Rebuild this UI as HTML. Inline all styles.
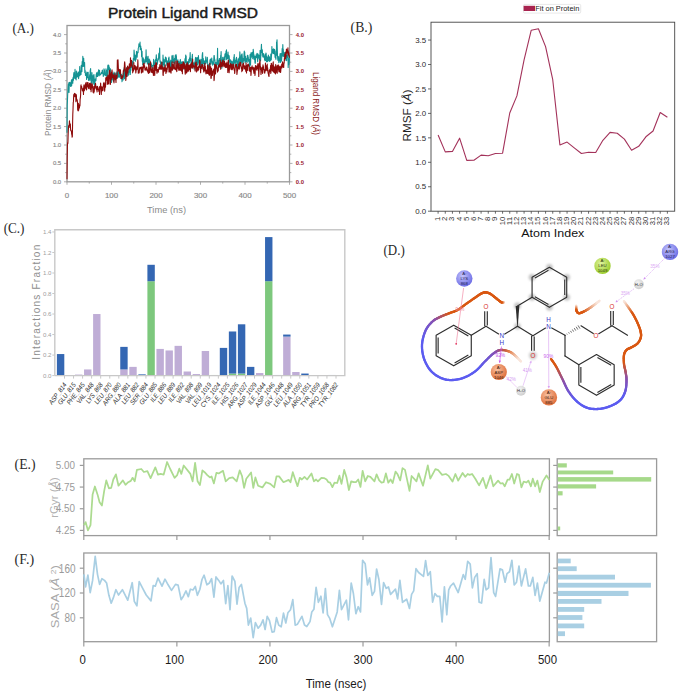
<!DOCTYPE html>
<html><head><meta charset="utf-8"><title>Figure</title>
<style>html,body{margin:0;padding:0;background:#fff;width:685px;height:692px;overflow:hidden}svg{display:block}</style>
</head><body>
<svg width="685" height="692" viewBox="0 0 685 692">
<defs>
<radialGradient id="gBlue" cx="40%" cy="35%" r="65%"><stop offset="0" stop-color="#c4c4fb"/><stop offset="1" stop-color="#6f6fe6"/></radialGradient>
<radialGradient id="gOr" cx="40%" cy="35%" r="65%"><stop offset="0" stop-color="#f8c0a0"/><stop offset="1" stop-color="#e0703c"/></radialGradient>
<radialGradient id="gGr" cx="40%" cy="35%" r="65%"><stop offset="0" stop-color="#e0f4a0"/><stop offset="1" stop-color="#9ccc2c"/></radialGradient>
<radialGradient id="gW" cx="40%" cy="35%" r="65%"><stop offset="0" stop-color="#f4f4f4"/><stop offset="1" stop-color="#cfcfcf"/></radialGradient>
<filter id="blur1" x="-50%" y="-50%" width="200%" height="200%"><feGaussianBlur stdDeviation="1.0"/></filter>
<linearGradient id="lgL" gradientUnits="userSpaceOnUse" x1="425" y1="300" x2="425" y2="380"><stop offset="0" stop-color="#d9560f"/><stop offset="0.25" stop-color="#8b4fb0"/><stop offset="0.45" stop-color="#5b5bf0"/><stop offset="1" stop-color="#5b5bf0"/></linearGradient>
</defs>
<rect width="685" height="692" fill="#fff"/>
<text x="12.4" y="32.6" font-family="Liberation Serif" font-size="15" fill="#2a2a2a" text-anchor="start" font-weight="normal" font-style="normal" textLength="21.5" lengthAdjust="spacingAndGlyphs" >(A.)</text>
<text x="350.6" y="32.2" font-family="Liberation Serif" font-size="15" fill="#2a2a2a" text-anchor="start" font-weight="normal" font-style="normal" textLength="21.7" lengthAdjust="spacingAndGlyphs" >(B.)</text>
<text x="3.7" y="233.4" font-family="Liberation Serif" font-size="15" fill="#2a2a2a" text-anchor="start" font-weight="normal" font-style="normal" textLength="20.8" lengthAdjust="spacingAndGlyphs" >(C.)</text>
<text x="383.5" y="255.3" font-family="Liberation Serif" font-size="15" fill="#2a2a2a" text-anchor="start" font-weight="normal" font-style="normal" textLength="21.2" lengthAdjust="spacingAndGlyphs" >(D.)</text>
<text x="14.6" y="468.6" font-family="Liberation Serif" font-size="15" fill="#2a2a2a" text-anchor="start" font-weight="normal" font-style="normal" textLength="21" lengthAdjust="spacingAndGlyphs" >(E.)</text>
<text x="14.6" y="563.6" font-family="Liberation Serif" font-size="15" fill="#2a2a2a" text-anchor="start" font-weight="normal" font-style="normal" textLength="19.5" lengthAdjust="spacingAndGlyphs" >(F.)</text>
<text x="183" y="17.9" font-family="Liberation Sans" font-size="14" fill="#1a1a1a" text-anchor="middle" font-weight="normal" font-style="normal" textLength="150" lengthAdjust="spacingAndGlyphs" stroke="#1a1a1a" stroke-width="0.45">Protein Ligand RMSD</text>
<rect x="67" y="25.5" width="222.5" height="156.3" fill="none" stroke="#9a9a9a" stroke-width="1.3"/>
<line x1="64" y1="181.8" x2="67" y2="181.8" stroke="#9a9a9a" stroke-width="0.8" />
<line x1="289.5" y1="181.8" x2="292.5" y2="181.8" stroke="#9a9a9a" stroke-width="0.8" />
<text x="61.2" y="183.7" font-family="Liberation Sans" font-size="5.2" fill="#8a8a8a" text-anchor="end" font-weight="normal" font-style="normal" textLength="8.3" lengthAdjust="spacingAndGlyphs" stroke="#8a8a8a" stroke-width="0.15">0.0</text>
<text x="295.8" y="183.7" font-family="Liberation Sans" font-size="5.2" fill="#9a2030" text-anchor="start" font-weight="bold" font-style="normal" textLength="8.2" lengthAdjust="spacingAndGlyphs" >0.0</text>
<line x1="65.2" y1="172.6" x2="67" y2="172.6" stroke="#9a9a9a" stroke-width="0.8" />
<line x1="289.5" y1="172.6" x2="291.3" y2="172.6" stroke="#9a9a9a" stroke-width="0.8" />
<line x1="64" y1="163.4" x2="67" y2="163.4" stroke="#9a9a9a" stroke-width="0.8" />
<line x1="289.5" y1="163.4" x2="292.5" y2="163.4" stroke="#9a9a9a" stroke-width="0.8" />
<text x="61.2" y="165.3" font-family="Liberation Sans" font-size="5.2" fill="#8a8a8a" text-anchor="end" font-weight="normal" font-style="normal" textLength="8.3" lengthAdjust="spacingAndGlyphs" stroke="#8a8a8a" stroke-width="0.15">0.5</text>
<text x="295.8" y="165.3" font-family="Liberation Sans" font-size="5.2" fill="#9a2030" text-anchor="start" font-weight="bold" font-style="normal" textLength="8.2" lengthAdjust="spacingAndGlyphs" >0.5</text>
<line x1="65.2" y1="154.2" x2="67" y2="154.2" stroke="#9a9a9a" stroke-width="0.8" />
<line x1="289.5" y1="154.2" x2="291.3" y2="154.2" stroke="#9a9a9a" stroke-width="0.8" />
<line x1="64" y1="145" x2="67" y2="145" stroke="#9a9a9a" stroke-width="0.8" />
<line x1="289.5" y1="145" x2="292.5" y2="145" stroke="#9a9a9a" stroke-width="0.8" />
<text x="61.2" y="146.9" font-family="Liberation Sans" font-size="5.2" fill="#8a8a8a" text-anchor="end" font-weight="normal" font-style="normal" textLength="8.3" lengthAdjust="spacingAndGlyphs" stroke="#8a8a8a" stroke-width="0.15">1.0</text>
<text x="295.8" y="146.9" font-family="Liberation Sans" font-size="5.2" fill="#9a2030" text-anchor="start" font-weight="bold" font-style="normal" textLength="8.2" lengthAdjust="spacingAndGlyphs" >1.0</text>
<line x1="65.2" y1="135.8" x2="67" y2="135.8" stroke="#9a9a9a" stroke-width="0.8" />
<line x1="289.5" y1="135.8" x2="291.3" y2="135.8" stroke="#9a9a9a" stroke-width="0.8" />
<line x1="64" y1="126.6" x2="67" y2="126.6" stroke="#9a9a9a" stroke-width="0.8" />
<line x1="289.5" y1="126.6" x2="292.5" y2="126.6" stroke="#9a9a9a" stroke-width="0.8" />
<text x="61.2" y="128.5" font-family="Liberation Sans" font-size="5.2" fill="#8a8a8a" text-anchor="end" font-weight="normal" font-style="normal" textLength="8.3" lengthAdjust="spacingAndGlyphs" stroke="#8a8a8a" stroke-width="0.15">1.5</text>
<text x="295.8" y="128.5" font-family="Liberation Sans" font-size="5.2" fill="#9a2030" text-anchor="start" font-weight="bold" font-style="normal" textLength="8.2" lengthAdjust="spacingAndGlyphs" >1.5</text>
<line x1="65.2" y1="117.4" x2="67" y2="117.4" stroke="#9a9a9a" stroke-width="0.8" />
<line x1="289.5" y1="117.4" x2="291.3" y2="117.4" stroke="#9a9a9a" stroke-width="0.8" />
<line x1="64" y1="108.2" x2="67" y2="108.2" stroke="#9a9a9a" stroke-width="0.8" />
<line x1="289.5" y1="108.2" x2="292.5" y2="108.2" stroke="#9a9a9a" stroke-width="0.8" />
<text x="61.2" y="110.1" font-family="Liberation Sans" font-size="5.2" fill="#8a8a8a" text-anchor="end" font-weight="normal" font-style="normal" textLength="8.3" lengthAdjust="spacingAndGlyphs" stroke="#8a8a8a" stroke-width="0.15">2.0</text>
<text x="295.8" y="110.1" font-family="Liberation Sans" font-size="5.2" fill="#9a2030" text-anchor="start" font-weight="bold" font-style="normal" textLength="8.2" lengthAdjust="spacingAndGlyphs" >2.0</text>
<line x1="65.2" y1="99" x2="67" y2="99" stroke="#9a9a9a" stroke-width="0.8" />
<line x1="289.5" y1="99" x2="291.3" y2="99" stroke="#9a9a9a" stroke-width="0.8" />
<line x1="64" y1="89.8" x2="67" y2="89.8" stroke="#9a9a9a" stroke-width="0.8" />
<line x1="289.5" y1="89.8" x2="292.5" y2="89.8" stroke="#9a9a9a" stroke-width="0.8" />
<text x="61.2" y="91.7" font-family="Liberation Sans" font-size="5.2" fill="#8a8a8a" text-anchor="end" font-weight="normal" font-style="normal" textLength="8.3" lengthAdjust="spacingAndGlyphs" stroke="#8a8a8a" stroke-width="0.15">2.5</text>
<text x="295.8" y="91.7" font-family="Liberation Sans" font-size="5.2" fill="#9a2030" text-anchor="start" font-weight="bold" font-style="normal" textLength="8.2" lengthAdjust="spacingAndGlyphs" >2.5</text>
<line x1="65.2" y1="80.6" x2="67" y2="80.6" stroke="#9a9a9a" stroke-width="0.8" />
<line x1="289.5" y1="80.6" x2="291.3" y2="80.6" stroke="#9a9a9a" stroke-width="0.8" />
<line x1="64" y1="71.4" x2="67" y2="71.4" stroke="#9a9a9a" stroke-width="0.8" />
<line x1="289.5" y1="71.4" x2="292.5" y2="71.4" stroke="#9a9a9a" stroke-width="0.8" />
<text x="61.2" y="73.3" font-family="Liberation Sans" font-size="5.2" fill="#8a8a8a" text-anchor="end" font-weight="normal" font-style="normal" textLength="8.3" lengthAdjust="spacingAndGlyphs" stroke="#8a8a8a" stroke-width="0.15">3.0</text>
<text x="295.8" y="73.3" font-family="Liberation Sans" font-size="5.2" fill="#9a2030" text-anchor="start" font-weight="bold" font-style="normal" textLength="8.2" lengthAdjust="spacingAndGlyphs" >3.0</text>
<line x1="65.2" y1="62.2" x2="67" y2="62.2" stroke="#9a9a9a" stroke-width="0.8" />
<line x1="289.5" y1="62.2" x2="291.3" y2="62.2" stroke="#9a9a9a" stroke-width="0.8" />
<line x1="64" y1="53" x2="67" y2="53" stroke="#9a9a9a" stroke-width="0.8" />
<line x1="289.5" y1="53" x2="292.5" y2="53" stroke="#9a9a9a" stroke-width="0.8" />
<text x="61.2" y="54.9" font-family="Liberation Sans" font-size="5.2" fill="#8a8a8a" text-anchor="end" font-weight="normal" font-style="normal" textLength="8.3" lengthAdjust="spacingAndGlyphs" stroke="#8a8a8a" stroke-width="0.15">3.5</text>
<text x="295.8" y="54.9" font-family="Liberation Sans" font-size="5.2" fill="#9a2030" text-anchor="start" font-weight="bold" font-style="normal" textLength="8.2" lengthAdjust="spacingAndGlyphs" >3.5</text>
<line x1="65.2" y1="43.8" x2="67" y2="43.8" stroke="#9a9a9a" stroke-width="0.8" />
<line x1="289.5" y1="43.8" x2="291.3" y2="43.8" stroke="#9a9a9a" stroke-width="0.8" />
<line x1="64" y1="34.6" x2="67" y2="34.6" stroke="#9a9a9a" stroke-width="0.8" />
<line x1="289.5" y1="34.6" x2="292.5" y2="34.6" stroke="#9a9a9a" stroke-width="0.8" />
<text x="61.2" y="36.5" font-family="Liberation Sans" font-size="5.2" fill="#8a8a8a" text-anchor="end" font-weight="normal" font-style="normal" textLength="8.3" lengthAdjust="spacingAndGlyphs" stroke="#8a8a8a" stroke-width="0.15">4.0</text>
<text x="295.8" y="36.5" font-family="Liberation Sans" font-size="5.2" fill="#9a2030" text-anchor="start" font-weight="bold" font-style="normal" textLength="8.2" lengthAdjust="spacingAndGlyphs" >4.0</text>
<line x1="67" y1="181.8" x2="67" y2="184.8" stroke="#9a9a9a" stroke-width="0.8" />
<text x="67" y="197.9" font-family="Liberation Sans" font-size="7" fill="#8a8a8a" text-anchor="middle" font-weight="normal" font-style="normal" textLength="4.4" lengthAdjust="spacingAndGlyphs" stroke="#8a8a8a" stroke-width="0.15">0</text>
<line x1="89.25" y1="181.8" x2="89.25" y2="183.6" stroke="#9a9a9a" stroke-width="0.8" />
<line x1="111.5" y1="181.8" x2="111.5" y2="184.8" stroke="#9a9a9a" stroke-width="0.8" />
<text x="111.5" y="197.9" font-family="Liberation Sans" font-size="7" fill="#8a8a8a" text-anchor="middle" font-weight="normal" font-style="normal" textLength="13.2" lengthAdjust="spacingAndGlyphs" stroke="#8a8a8a" stroke-width="0.15">100</text>
<line x1="133.75" y1="181.8" x2="133.75" y2="183.6" stroke="#9a9a9a" stroke-width="0.8" />
<line x1="156" y1="181.8" x2="156" y2="184.8" stroke="#9a9a9a" stroke-width="0.8" />
<text x="156" y="197.9" font-family="Liberation Sans" font-size="7" fill="#8a8a8a" text-anchor="middle" font-weight="normal" font-style="normal" textLength="13.2" lengthAdjust="spacingAndGlyphs" stroke="#8a8a8a" stroke-width="0.15">200</text>
<line x1="178.25" y1="181.8" x2="178.25" y2="183.6" stroke="#9a9a9a" stroke-width="0.8" />
<line x1="200.5" y1="181.8" x2="200.5" y2="184.8" stroke="#9a9a9a" stroke-width="0.8" />
<text x="200.5" y="197.9" font-family="Liberation Sans" font-size="7" fill="#8a8a8a" text-anchor="middle" font-weight="normal" font-style="normal" textLength="13.2" lengthAdjust="spacingAndGlyphs" stroke="#8a8a8a" stroke-width="0.15">300</text>
<line x1="222.75" y1="181.8" x2="222.75" y2="183.6" stroke="#9a9a9a" stroke-width="0.8" />
<line x1="245" y1="181.8" x2="245" y2="184.8" stroke="#9a9a9a" stroke-width="0.8" />
<text x="245" y="197.9" font-family="Liberation Sans" font-size="7" fill="#8a8a8a" text-anchor="middle" font-weight="normal" font-style="normal" textLength="13.2" lengthAdjust="spacingAndGlyphs" stroke="#8a8a8a" stroke-width="0.15">400</text>
<line x1="267.25" y1="181.8" x2="267.25" y2="183.6" stroke="#9a9a9a" stroke-width="0.8" />
<line x1="289.5" y1="181.8" x2="289.5" y2="184.8" stroke="#9a9a9a" stroke-width="0.8" />
<text x="289.5" y="197.9" font-family="Liberation Sans" font-size="7" fill="#8a8a8a" text-anchor="middle" font-weight="normal" font-style="normal" textLength="13.2" lengthAdjust="spacingAndGlyphs" stroke="#8a8a8a" stroke-width="0.15">500</text>
<text x="166.5" y="212.5" font-family="Liberation Sans" font-size="9.3" fill="#8a8a8a" text-anchor="middle" font-weight="normal" font-style="normal" textLength="39" lengthAdjust="spacingAndGlyphs" >Time (ns)</text>
<text x="0" y="0" transform="translate(51,102.8) rotate(-90)" font-family="Liberation Sans" font-size="8.6" fill="#8a8a8a" text-anchor="middle" textLength="66.6" lengthAdjust="spacingAndGlyphs">Protein RMSD (<tspan font-style="italic">Å</tspan>)</text>
<text x="0" y="0" transform="translate(312.5,103.5) rotate(90)" font-family="Liberation Sans" font-size="9.2" fill="#8b1a1a" text-anchor="middle" textLength="63" lengthAdjust="spacingAndGlyphs">Ligand RMSD (<tspan font-style="italic">Å</tspan>)</text>
<polyline points="67,132.69 67.22,104.99 67.45,100.77 67.67,94.68 67.89,91.49 68.11,87.05 68.34,84.31 68.56,87.24 68.78,82.8 69,92.49 69.23,85.35 69.45,82.38 69.67,82.72 69.9,82.62 70.12,82.55 70.34,85.54 70.56,86.46 70.79,83.32 71.01,86.35 71.23,81.85 71.45,80.08 71.68,85.55 71.9,81.9 72.12,79.18 72.35,80.28 72.57,79.27 72.79,83.26 73.01,78.12 73.24,77.06 73.46,80.15 73.68,74.29 73.9,72.55 74.13,76.25 74.35,75.19 74.57,76.49 74.8,78.35 75.02,69.41 75.24,78.57 75.46,76.13 75.69,75.42 75.91,79.26 76.13,79.91 76.35,71 76.58,73.96 76.8,77.19 77.02,76.34 77.25,77.06 77.47,76.33 77.69,72.98 77.91,73.76 78.14,71.8 78.36,73.4 78.58,78.58 78.8,76.3 79.03,72.23 79.25,72.97 79.47,75.58 79.7,66.52 79.92,75.59 80.14,74.63 80.36,70.93 80.59,73.87 80.81,71.53 81.03,74.42 81.25,65.23 81.48,67 81.7,69.36 81.92,71.58 82.15,61.57 82.37,62.45 82.59,64.89 82.81,56.38 83.04,66.56 83.26,58.87 83.48,59.86 83.7,58.19 83.93,66.13 84.15,65.48 84.37,63.24 84.6,62.57 84.82,72.49 85.04,70.04 85.26,71.73 85.49,75.53 85.71,74.04 85.93,73.76 86.15,74.81 86.38,74.65 86.6,79.55 86.82,71.94 87.05,75.78 87.27,75.05 87.49,75.24 87.71,77.6 87.94,72.29 88.16,72.33 88.38,78.03 88.6,80.5 88.83,79.39 89.05,79.42 89.27,78.82 89.49,77.25 89.72,74.67 89.94,80.36 90.16,70.95 90.39,69.86 90.61,68.55 90.83,78.12 91.05,76.8 91.28,83.9 91.5,81.93 91.72,82.79 91.94,72.67 92.17,78.06 92.39,80.31 92.61,80.51 92.84,75.73 93.06,84.17 93.28,83.67 93.5,76.91 93.73,75.18 93.95,74.47 94.17,78.15 94.39,80.84 94.62,85.18 94.84,80.23 95.06,82.44 95.29,78.96 95.51,80.2 95.73,78.45 95.95,80.64 96.18,74.79 96.4,74.22 96.62,72.68 96.84,76.47 97.07,75.99 97.29,72.81 97.51,73.17 97.74,76.44 97.96,74.05 98.18,71.56 98.4,72.26 98.63,69.91 98.85,74.08 99.07,75.66 99.29,75.65 99.52,70.2 99.74,74.28 99.96,74.26 100.19,73.88 100.41,74.11 100.63,74.87 100.85,74.04 101.08,73.38 101.3,72.53 101.52,73.49 101.74,73.51 101.97,72.85 102.19,70.43 102.41,70.19 102.64,72.94 102.86,73.29 103.08,74.07 103.3,76.49 103.53,74.58 103.75,74.57 103.97,68.76 104.19,73.57 104.42,69.92 104.64,71.89 104.86,75.2 105.09,74.85 105.31,74.95 105.53,75.22 105.75,75.64 105.98,68.78 106.2,71.14 106.42,73.78 106.64,70.2 106.87,76.74 107.09,73.45 107.31,77.02 107.54,71.27 107.76,65.94 107.98,65.09 108.2,65.71 108.43,69.58 108.65,65.02 108.87,65.98 109.09,76.65 109.32,66.99 109.54,71.85 109.76,71.44 109.99,69.04 110.21,69.38 110.43,68.76 110.65,72.75 110.88,76.12 111.1,76.13 111.32,77.89 111.54,82.49 111.77,80 111.99,78.04 112.21,78.67 112.44,75.96 112.66,79.19 112.88,73.25 113.1,79.89 113.33,77.77 113.55,81.23 113.77,78.08 113.99,72.02 114.22,73.37 114.44,76.09 114.66,76.02 114.89,77.56 115.11,74.25 115.33,75.44 115.55,76.15 115.78,77.96 116,72.8 116.22,77.82 116.44,73.65 116.67,77.96 116.89,78.43 117.11,71.44 117.34,78.21 117.56,75.98 117.78,75.73 118,76.54 118.23,73.72 118.45,71.5 118.67,77.18 118.89,76.11 119.12,73.57 119.34,72.44 119.56,77.15 119.79,76.1 120.01,71.01 120.23,72.17 120.45,74.69 120.68,75.11 120.9,78.11 121.12,78.81 121.34,74.99 121.57,74.33 121.79,76.82 122.01,81.82 122.24,79.17 122.46,79.79 122.68,78.38 122.9,75.64 123.13,79.89 123.35,72.95 123.57,77.07 123.79,69.11 124.02,72.72 124.24,67.52 124.46,78.81 124.69,75.58 124.91,72.15 125.13,69.15 125.35,71.41 125.58,74.51 125.8,75.47 126.02,75.48 126.24,75.3 126.47,74.01 126.69,70.5 126.91,67.42 127.14,70.32 127.36,67.44 127.58,71.78 127.8,75.88 128.03,74.58 128.25,71.39 128.47,72.46 128.69,74.84 128.92,68.3 129.14,69.64 129.36,66.4 129.59,72.27 129.81,65.83 130.03,67.16 130.25,74.53 130.48,70.22 130.7,70.68 130.92,69.33 131.14,64.15 131.37,63.63 131.59,61.32 131.81,62.25 132.04,67.36 132.26,62.76 132.48,67.26 132.7,61.23 132.93,64.38 133.15,63.77 133.37,58.22 133.59,58.58 133.82,59.41 134.04,50.15 134.26,52.65 134.48,56.64 134.71,60.28 134.93,55.05 135.15,55.06 135.38,61.28 135.6,57.82 135.82,58.44 136.04,59.5 136.27,56.57 136.49,51.41 136.71,51.9 136.93,54.96 137.16,57.21 137.38,52.87 137.6,52.74 137.83,51.7 138.05,52.83 138.27,48.01 138.49,47.72 138.72,46.57 138.94,43.9 139.16,45.5 139.38,46.43 139.61,43.91 139.83,45.47 140.05,42.17 140.28,49.68 140.5,49.17 140.72,46.11 140.94,48.62 141.17,48.33 141.39,48.87 141.61,56.7 141.83,53.17 142.06,51.39 142.28,61.35 142.5,59.04 142.73,64.61 142.95,60.3 143.17,57.9 143.39,63.9 143.62,58.73 143.84,59.52 144.06,63.32 144.28,61.35 144.51,62.38 144.73,62.09 144.95,63.17 145.18,59.52 145.4,61.59 145.62,56.69 145.84,61.74 146.07,49.7 146.29,57.92 146.51,61.81 146.73,56.6 146.96,61.01 147.18,60.46 147.4,63.95 147.63,58.48 147.85,60.6 148.07,56.3 148.29,61.8 148.52,64.94 148.74,61.74 148.96,61.39 149.18,59.17 149.41,64.63 149.63,63.41 149.85,60.15 150.08,63.8 150.3,63.95 150.52,65.52 150.74,62.33 150.97,66.7 151.19,63.72 151.41,63.98 151.63,65.33 151.86,65.17 152.08,69.26 152.3,65.39 152.53,66.02 152.75,65.9 152.97,65.81 153.19,65.45 153.42,64.87 153.64,59.35 153.86,63.91 154.08,68.49 154.31,65.7 154.53,65.76 154.75,63.58 154.98,62.51 155.2,60.39 155.42,66.04 155.64,59.33 155.87,61.19 156.09,57.56 156.31,54.87 156.53,60.36 156.76,58.44 156.98,58.39 157.2,64.52 157.43,63.17 157.65,61.93 157.87,59.93 158.09,60.36 158.32,59.66 158.54,58.97 158.76,53.62 158.98,57.83 159.21,52.88 159.43,55.87 159.65,47.99 159.88,59.6 160.1,61.99 160.32,60.85 160.54,63.24 160.77,64.68 160.99,64.92 161.21,62.02 161.43,62.51 161.66,63.98 161.88,63.77 162.1,62.46 162.33,63.77 162.55,65.15 162.77,66.44 162.99,54.97 163.22,60.49 163.44,64.53 163.66,58.97 163.88,62.01 164.11,64.35 164.33,67.38 164.55,60.91 164.78,63.27 165,59.3 165.22,61.95 165.44,57.08 165.67,57.26 165.89,61.5 166.11,57.67 166.33,58.44 166.56,62.08 166.78,65.09 167,64.47 167.23,60.86 167.45,65.57 167.67,61.48 167.89,65.66 168.12,62.08 168.34,66.64 168.56,57.96 168.78,59.72 169.01,57.06 169.23,61.41 169.45,64.57 169.68,63.64 169.9,66.6 170.12,66.54 170.34,61.16 170.57,61.56 170.79,60.18 171.01,65.48 171.23,69.61 171.46,63.57 171.68,63.22 171.9,55.87 172.13,62.66 172.35,61.74 172.57,56.5 172.79,59.38 173.02,55.26 173.24,58.32 173.46,62.91 173.68,59.58 173.91,62.74 174.13,63.01 174.35,60.37 174.58,58.23 174.8,63.94 175.02,62.15 175.24,55.63 175.47,59.78 175.69,56.29 175.91,54.51 176.13,55.18 176.36,55.58 176.58,59.54 176.8,63.47 177.03,62.52 177.25,64.96 177.47,64.81 177.69,64.04 177.92,59.76 178.14,64.82 178.36,64.25 178.58,66.4 178.81,61.6 179.03,64.74 179.25,63.5 179.47,65.58 179.7,64.23 179.92,63.91 180.14,60.57 180.37,59.43 180.59,62.91 180.81,63.87 181.03,63.32 181.26,69.53 181.48,62.12 181.7,62.76 181.92,62.54 182.15,64.56 182.37,61.53 182.59,63.73 182.82,64.3 183.04,67.26 183.26,63.78 183.48,62.18 183.71,63.9 183.93,66.21 184.15,69.3 184.37,65.07 184.6,64.03 184.82,61.46 185.04,58.6 185.27,62.47 185.49,58.74 185.71,54.99 185.93,55.66 186.16,56.2 186.38,68.03 186.6,69.92 186.82,62.8 187.05,61.99 187.27,65.05 187.49,67.81 187.72,61.65 187.94,68.62 188.16,61.81 188.38,63.91 188.61,62.54 188.83,59.46 189.05,62.08 189.27,62.6 189.5,57.72 189.72,59.49 189.94,58.72 190.17,52.56 190.39,60.77 190.61,58.37 190.83,58.42 191.06,63.92 191.28,62.23 191.5,63.08 191.72,68.04 191.95,66.09 192.17,56.51 192.39,54.31 192.62,62.23 192.84,66.25 193.06,63.12 193.28,64.43 193.51,64.41 193.73,62.76 193.95,66.75 194.17,69.1 194.4,68.53 194.62,65.81 194.84,61.79 195.07,63.05 195.29,59.94 195.51,57.47 195.73,62.83 195.96,57.4 196.18,58.35 196.4,63.46 196.62,62.86 196.85,64.36 197.07,63.41 197.29,57.58 197.52,59.16 197.74,64.9 197.96,59.37 198.18,64.16 198.41,55.65 198.63,58.73 198.85,60.13 199.07,61.44 199.3,62.98 199.52,60.09 199.74,64.26 199.97,65.43 200.19,66.93 200.41,68.27 200.63,63.05 200.86,59.24 201.08,60.24 201.3,63.95 201.52,68.41 201.75,59.71 201.97,63.87 202.19,55.68 202.42,53.68 202.64,52.49 202.86,63.26 203.08,63.8 203.31,58.57 203.53,63.29 203.75,64.02 203.97,60.92 204.2,63.9 204.42,66.12 204.64,61.05 204.87,61.23 205.09,63.13 205.31,63.89 205.53,62 205.76,56.71 205.98,63.5 206.2,61.09 206.42,60.77 206.65,60.34 206.87,61.86 207.09,60.04 207.32,57.26 207.54,61.12 207.76,64.8 207.98,65.74 208.21,71.55 208.43,70.51 208.65,64.75 208.87,71.16 209.1,64.63 209.32,68.23 209.54,63.49 209.77,66.16 209.99,59.84 210.21,59.85 210.43,59.75 210.66,58.95 210.88,64.16 211.1,63.79 211.32,61.84 211.55,59.96 211.77,57.93 211.99,61.79 212.22,60.83 212.44,61.81 212.66,65.24 212.88,63.85 213.11,62.87 213.33,63.56 213.55,64.16 213.77,59.2 214,55.46 214.22,55.53 214.44,57.7 214.67,60.11 214.89,59.77 215.11,63.6 215.33,67.17 215.56,69.14 215.78,67.46 216,62.47 216.22,68.24 216.45,63.33 216.67,67.06 216.89,63.48 217.12,58.67 217.34,58.83 217.56,48.39 217.78,61.89 218.01,64.53 218.23,61.94 218.45,65.5 218.67,67.2 218.9,60.01 219.12,64.43 219.34,58.51 219.57,60.14 219.79,58.7 220.01,60.38 220.23,59.32 220.46,59.65 220.68,55.42 220.9,56.67 221.12,51.47 221.35,60.54 221.57,59.63 221.79,68.34 222.02,63.77 222.24,60.82 222.46,63.14 222.68,57.34 222.91,61.5 223.13,60.94 223.35,61.75 223.57,61.7 223.8,60.04 224.02,56.98 224.24,57.86 224.46,59.2 224.69,60.24 224.91,54.36 225.13,53.77 225.36,56.69 225.58,56.55 225.8,54.71 226.02,50.96 226.25,59.71 226.47,49.7 226.69,56.09 226.91,58.93 227.14,58.14 227.36,58.94 227.58,54.47 227.81,56.61 228.03,52.01 228.25,58.3 228.47,55.01 228.7,55.84 228.92,61.99 229.14,55.85 229.36,58.91 229.59,61.14 229.81,60.02 230.03,64.06 230.26,64.55 230.48,59.69 230.7,60.17 230.92,60.66 231.15,61.09 231.37,64.32 231.59,65.52 231.81,61.42 232.04,64.67 232.26,61.85 232.48,67.52 232.71,62.01 232.93,62.57 233.15,64.22 233.37,59.83 233.6,63.45 233.82,57.15 234.04,59.23 234.26,54.47 234.49,62.99 234.71,60.01 234.93,61.36 235.16,66.42 235.38,62.39 235.6,62.73 235.82,60.63 236.05,58.73 236.27,58.51 236.49,57.33 236.71,59.67 236.94,64.32 237.16,63.79 237.38,61.37 237.61,67.41 237.83,60.97 238.05,62.41 238.27,58.91 238.5,62.18 238.72,61.9 238.94,65.48 239.16,59.16 239.39,57.2 239.61,58 239.83,51.77 240.06,55.26 240.28,61.1 240.5,63.68 240.72,61.7 240.95,64.01 241.17,57.28 241.39,54.84 241.61,60.61 241.84,62.09 242.06,53.92 242.28,56.87 242.51,59.8 242.73,63.62 242.95,63.83 243.17,58.51 243.4,60.12 243.62,61.24 243.84,60.35 244.06,53.35 244.29,50.97 244.51,54.25 244.73,51.97 244.96,61.22 245.18,63.06 245.4,59.3 245.62,56.2 245.85,59.2 246.07,61.36 246.29,58.59 246.51,61.55 246.74,61.26 246.96,61.05 247.18,62.41 247.41,55.3 247.63,58.97 247.85,55.36 248.07,56.93 248.3,57.23 248.52,61.3 248.74,59.38 248.96,60.19 249.19,59.56 249.41,66.61 249.63,66.92 249.86,61.88 250.08,54.63 250.3,56.76 250.52,64.87 250.75,58.59 250.97,52.78 251.19,57.81 251.41,55.95 251.64,55.78 251.86,54.47 252.08,52.42 252.31,56.33 252.53,53.65 252.75,58.67 252.97,56.85 253.2,49.19 253.42,51.04 253.64,53.77 253.86,54.62 254.09,59.43 254.31,58.06 254.53,55.99 254.76,58.88 254.98,62.57 255.2,63.34 255.42,62.25 255.65,56.18 255.87,58.14 256.09,54.74 256.31,56.71 256.54,56.85 256.76,57.32 256.98,53.35 257.21,55.14 257.43,58.09 257.65,61.72 257.87,53.91 258.1,55.04 258.32,57.29 258.54,57.99 258.76,55.05 258.99,56.36 259.21,57.77 259.43,59.79 259.66,57.47 259.88,55.95 260.1,50.29 260.32,55.53 260.55,61 260.77,56.49 260.99,55.55 261.21,48.76 261.44,44.2 261.66,50.21 261.88,49.72 262.11,52.5 262.33,49.92 262.55,54.45 262.77,56.48 263,57.03 263.22,55.55 263.44,53.92 263.66,53.62 263.89,57.03 264.11,57.38 264.33,55.93 264.56,59.8 264.78,56.78 265,60.7 265.22,54.6 265.45,57.65 265.67,60.33 265.89,52.94 266.11,53.28 266.34,56.16 266.56,61.82 266.78,58.05 267.01,56.83 267.23,59.26 267.45,58.89 267.67,61.65 267.9,57.55 268.12,60.8 268.34,55.04 268.56,56.2 268.79,60.49 269.01,56.85 269.23,59.07 269.45,56.91 269.68,61.44 269.9,58.45 270.12,58.54 270.35,60.7 270.57,60.02 270.79,54.17 271.01,57.9 271.24,59.85 271.46,55.66 271.68,54.02 271.9,46.51 272.13,51.93 272.35,51.15 272.57,50.59 272.8,52.96 273.02,49.2 273.24,53.36 273.46,48.88 273.69,49.68 273.91,50.82 274.13,53.83 274.35,52.88 274.58,49.19 274.8,51.11 275.02,57.26 275.25,57.22 275.47,56.63 275.69,58.15 275.91,59.34 276.14,50.92 276.36,55.43 276.58,42.13 276.8,42.64 277.03,39.86 277.25,47.32 277.47,54.61 277.7,58.44 277.92,60.52 278.14,59.67 278.36,56.43 278.59,60.2 278.81,62.71 279.03,61.61 279.25,58.86 279.48,60.56 279.7,56.92 279.92,55.61 280.15,53.5 280.37,62.41 280.59,56.47 280.81,57.28 281.04,53.64 281.26,58.91 281.48,61.27 281.7,58.29 281.93,55.18 282.15,48.43 282.37,56.26 282.6,50.52 282.82,44.59 283.04,52.06 283.26,48.96 283.49,55.46 283.71,56.66 283.93,52.3 284.15,55.08 284.38,56.43 284.6,53.44 284.82,52.78 285.05,60.26 285.27,54.44 285.49,54 285.71,52.1 285.94,54.32 286.16,58.02 286.38,58.91 286.6,60.68 286.83,55.46 287.05,57.15 287.27,56.89 287.5,56.93 287.72,57.56 287.94,50.6 288.16,67.54 288.39,58.48 288.61,59.41 288.83,64.59 289.05,63.77 289.28,61.43 289.5,55.11" fill="none" stroke="#159393" stroke-width="1.1" stroke-linejoin="round" />
<polyline points="67,179.32 67.22,158.18 67.45,144.84 67.67,142.54 67.89,143.37 68.11,135.95 68.34,130.16 68.56,126.41 68.78,125.47 69,125.29 69.23,124.43 69.45,120.7 69.67,123.56 69.9,127.51 70.12,124.61 70.34,124.03 70.56,129.01 70.79,130.63 71.01,130.2 71.23,131.08 71.45,131.37 71.68,134.27 71.9,134.14 72.12,137.18 72.35,136.48 72.57,124.97 72.79,114.39 73.01,109.73 73.24,102.46 73.46,101.64 73.68,95.5 73.9,94.41 74.13,94.11 74.35,95.33 74.57,93.19 74.8,96.73 75.02,94.74 75.24,94.13 75.46,96.24 75.69,93.94 75.91,101.64 76.13,100.33 76.35,94.78 76.58,99.22 76.8,99.14 77.02,99.63 77.25,100.33 77.47,102.79 77.69,109.88 77.91,109.48 78.14,110.97 78.36,103.18 78.58,110.4 78.8,108.27 79.03,108.85 79.25,105.66 79.47,107.77 79.7,104.21 79.92,105.9 80.14,99.07 80.36,97.83 80.59,95.52 80.81,86.36 81.03,84.77 81.25,87.58 81.48,86.48 81.7,86.72 81.92,88.3 82.15,89.35 82.37,91.02 82.59,89.69 82.81,89.61 83.04,88.64 83.26,89.93 83.48,94.38 83.7,87.25 83.93,85.34 84.15,84.84 84.37,90.8 84.6,85.88 84.82,86.29 85.04,86.86 85.26,89.04 85.49,85.09 85.71,83.16 85.93,87.06 86.15,82.27 86.38,86.94 86.6,89.9 86.82,87.06 87.05,87.09 87.27,86.33 87.49,82.6 87.71,82.76 87.94,82.51 88.16,86.31 88.38,87.5 88.6,88.47 88.83,85.98 89.05,88.8 89.27,84.07 89.49,83.31 89.72,84.78 89.94,83.74 90.16,84.77 90.39,89.55 90.61,86.38 90.83,83.12 91.05,91.67 91.28,88.66 91.5,86.02 91.72,88.08 91.94,84.73 92.17,83.88 92.39,86.15 92.61,85.79 92.84,89.37 93.06,92.14 93.28,89.75 93.5,88.33 93.73,93 93.95,86.61 94.17,91.95 94.39,89.54 94.62,86.85 94.84,85.49 95.06,87.25 95.29,84.91 95.51,83.28 95.73,85.11 95.95,88.61 96.18,86.19 96.4,87.81 96.62,90.07 96.84,88.01 97.07,91.87 97.29,87.65 97.51,86.33 97.74,88.32 97.96,89.35 98.18,89.15 98.4,89.85 98.63,89.66 98.85,91.44 99.07,89.22 99.29,87.01 99.52,94.52 99.74,91.29 99.96,86.2 100.19,88.66 100.41,87.12 100.63,82.94 100.85,86.46 101.08,89.85 101.3,94.43 101.52,88.49 101.74,86.71 101.97,88.45 102.19,90.67 102.41,87.09 102.64,90.12 102.86,90.75 103.08,89.74 103.3,86.11 103.53,83.36 103.75,86.36 103.97,82.35 104.19,85.91 104.42,84.9 104.64,91.29 104.86,88.51 105.09,83.53 105.31,86.84 105.53,87.09 105.75,77.86 105.98,80.74 106.2,78.27 106.42,79.07 106.64,77.04 106.87,77.66 107.09,77.3 107.31,84.43 107.54,83.18 107.76,75.87 107.98,75.08 108.2,83.45 108.43,81.96 108.65,82.7 108.87,84.24 109.09,77.61 109.32,73.28 109.54,70.18 109.76,71 109.99,76.28 110.21,79.48 110.43,84.34 110.65,80.59 110.88,76.2 111.1,72.83 111.32,79.61 111.54,76.99 111.77,71.63 111.99,69.72 112.21,71.9 112.44,77.63 112.66,74.59 112.88,76.61 113.1,78 113.33,74.76 113.55,75.47 113.77,81.7 113.99,83.01 114.22,79.39 114.44,76.62 114.66,76.82 114.89,73.16 115.11,77.37 115.33,79.24 115.55,79.76 115.78,79.7 116,82.57 116.22,75.18 116.44,78.89 116.67,78.05 116.89,78.01 117.11,76.28 117.34,60.05 117.56,61.74 117.78,62.62 118,59.71 118.23,64.83 118.45,71.17 118.67,69.54 118.89,69.18 119.12,70.87 119.34,69.66 119.56,72.34 119.79,73.81 120.01,71.73 120.23,69.64 120.45,70.42 120.68,75.38 120.9,75.26 121.12,78.36 121.34,75.86 121.57,76.01 121.79,76.13 122.01,78.76 122.24,77.14 122.46,76.38 122.68,75.49 122.9,77.31 123.13,74.11 123.35,70.62 123.57,71 123.79,71.24 124.02,70.17 124.24,68.54 124.46,63.69 124.69,61.78 124.91,64.14 125.13,66.98 125.35,73.23 125.58,75.33 125.8,80.54 126.02,78.13 126.24,73.91 126.47,68.7 126.69,67.89 126.91,76.38 127.14,71.85 127.36,72.71 127.58,66.14 127.8,72.93 128.03,70.26 128.25,69.22 128.47,67.67 128.69,69.1 128.92,66.72 129.14,67.01 129.36,63.89 129.59,68.12 129.81,65.86 130.03,66.88 130.25,67.4 130.48,57.72 130.7,65.65 130.92,64.59 131.14,61.89 131.37,61.54 131.59,60.26 131.81,66.43 132.04,64.45 132.26,66.11 132.48,67.76 132.7,72.83 132.93,69.58 133.15,68.62 133.37,68.39 133.59,71.04 133.82,62.56 134.04,68.9 134.26,68.75 134.48,69.2 134.71,65.46 134.93,66.44 135.15,68.42 135.38,66.13 135.6,69.99 135.82,72.99 136.04,71.27 136.27,68.2 136.49,68.1 136.71,66.89 136.93,69.82 137.16,66.74 137.38,66.16 137.6,68.51 137.83,59.86 138.05,65.58 138.27,73.26 138.49,73.01 138.72,71.07 138.94,71.02 139.16,72.94 139.38,70.5 139.61,67.97 139.83,67.73 140.05,67.45 140.28,68.79 140.5,67.36 140.72,68.23 140.94,68.99 141.17,68.53 141.39,72.89 141.61,67.17 141.83,67.16 142.06,71.94 142.28,69.13 142.5,67.05 142.73,69.93 142.95,72.32 143.17,67.59 143.39,63.73 143.62,68.07 143.84,65.76 144.06,63.31 144.28,65.74 144.51,65.7 144.73,66.73 144.95,69.93 145.18,69.12 145.4,69.07 145.62,68.67 145.84,68.56 146.07,70.7 146.29,67.21 146.51,68.52 146.73,67.11 146.96,68.36 147.18,69.54 147.4,69.49 147.63,71.58 147.85,71.21 148.07,72.66 148.29,73.08 148.52,73.4 148.74,63.47 148.96,63.49 149.18,71.2 149.41,69.75 149.63,72.65 149.85,70.39 150.08,70.24 150.3,67.02 150.52,61.79 150.74,67.68 150.97,66.5 151.19,71.86 151.41,70.37 151.63,69.23 151.86,72.57 152.08,69.43 152.3,72.49 152.53,70.11 152.75,67.58 152.97,73.15 153.19,71.54 153.42,75.38 153.64,72.84 153.86,69.88 154.08,69.38 154.31,65.25 154.53,71.88 154.75,75.35 154.98,68.49 155.2,69.93 155.42,65.09 155.64,65.44 155.87,62.74 156.09,70.4 156.31,64.51 156.53,62.75 156.76,71.25 156.98,73.32 157.2,71.71 157.43,69.97 157.65,69.74 157.87,69.48 158.09,70.26 158.32,72.28 158.54,69.83 158.76,68.65 158.98,67.21 159.21,69.12 159.43,69.17 159.65,67.97 159.88,64.57 160.1,64.69 160.32,69.11 160.54,67.79 160.77,68.96 160.99,65.9 161.21,67.79 161.43,65.28 161.66,69.19 161.88,62.13 162.1,68.71 162.33,68.75 162.55,67.73 162.77,66.77 162.99,75.1 163.22,75.51 163.44,68.05 163.66,72.09 163.88,70.45 164.11,67.6 164.33,70.9 164.55,67.96 164.78,71.02 165,68.8 165.22,64.76 165.44,70.45 165.67,69 165.89,73.55 166.11,68.17 166.33,68.14 166.56,71.92 166.78,72.03 167,68.92 167.23,69.4 167.45,62.94 167.67,66.74 167.89,67.1 168.12,66.25 168.34,63.68 168.56,65.74 168.78,67.68 169.01,72.05 169.23,62.66 169.45,63.59 169.68,69 169.9,67.15 170.12,72.02 170.34,66.95 170.57,67.98 170.79,71.19 171.01,73.24 171.23,70.06 171.46,68.84 171.68,67.47 171.9,63.96 172.13,61.75 172.35,70.12 172.57,69.7 172.79,66.03 173.02,64.58 173.24,66.6 173.46,66.74 173.68,67.82 173.91,68.84 174.13,62.08 174.35,66.56 174.58,68.99 174.8,68.27 175.02,68.85 175.24,68.07 175.47,69.62 175.69,69.69 175.91,60.69 176.13,63.44 176.36,67.29 176.58,70.71 176.8,71.62 177.03,68.28 177.25,68.31 177.47,61.06 177.69,68.3 177.92,67.35 178.14,63.99 178.36,67.3 178.58,68.45 178.81,70.31 179.03,63.18 179.25,70.05 179.47,69.87 179.7,70.2 179.92,69.52 180.14,70.09 180.37,65.13 180.59,70.22 180.81,64.35 181.03,64.23 181.26,67.76 181.48,71.08 181.7,64.67 181.92,66.43 182.15,69.04 182.37,73.63 182.59,64.89 182.82,64.26 183.04,62.58 183.26,63.31 183.48,61.8 183.71,68.8 183.93,67.87 184.15,63.16 184.37,65.36 184.6,64.45 184.82,65.99 185.04,71.8 185.27,74.14 185.49,72.14 185.71,65.78 185.93,69.68 186.16,64.1 186.38,64.66 186.6,73.03 186.82,72.39 187.05,67.18 187.27,62.51 187.49,64.77 187.72,71.13 187.94,67.56 188.16,69.48 188.38,71.31 188.61,64.78 188.83,65.79 189.05,65.79 189.27,69.73 189.5,68.68 189.72,68 189.94,64.71 190.17,69.59 190.39,71.72 190.61,64.5 190.83,64.16 191.06,65.14 191.28,66.83 191.5,62.86 191.72,67.39 191.95,67.99 192.17,65.52 192.39,63.43 192.62,59.07 192.84,68.23 193.06,67.06 193.28,65.08 193.51,66.65 193.73,65.82 193.95,66.07 194.17,66.9 194.4,66.87 194.62,66.43 194.84,66.11 195.07,71.03 195.29,62.97 195.51,66.72 195.73,64.88 195.96,64.79 196.18,61.95 196.4,72.04 196.62,64.35 196.85,66.21 197.07,68.53 197.29,69.62 197.52,68.38 197.74,70.86 197.96,67.34 198.18,69.61 198.41,66.47 198.63,69.88 198.85,66.24 199.07,65.66 199.3,65.89 199.52,67.08 199.74,60.33 199.97,62.12 200.19,67.72 200.41,66.91 200.63,72.61 200.86,66.52 201.08,68.93 201.3,67.92 201.52,67.5 201.75,64.61 201.97,64.83 202.19,64.55 202.42,64.42 202.64,66.9 202.86,69.02 203.08,65.61 203.31,69.5 203.53,69.8 203.75,71.92 203.97,72.04 204.2,67.35 204.42,67.55 204.64,66.45 204.87,63.19 205.09,70.66 205.31,66.17 205.53,69.63 205.76,71.95 205.98,73.92 206.2,73.16 206.42,70.41 206.65,70.03 206.87,69.87 207.09,70.13 207.32,73.52 207.54,64.94 207.76,73.26 207.98,66.58 208.21,65.69 208.43,71.81 208.65,74.1 208.87,69.34 209.1,69.06 209.32,75.34 209.54,69.62 209.77,63.37 209.99,68.49 210.21,74.11 210.43,71.19 210.66,66.81 210.88,77.96 211.1,78.51 211.32,77.11 211.55,68.21 211.77,72.54 211.99,73.01 212.22,71.48 212.44,75.48 212.66,72.81 212.88,70.96 213.11,70.84 213.33,69.91 213.55,71.69 213.77,69.06 214,80.61 214.22,79.84 214.44,75.37 214.67,64.09 214.89,65.88 215.11,64.54 215.33,65.48 215.56,73.96 215.78,70.06 216,66.86 216.22,64.88 216.45,66.42 216.67,66.57 216.89,67.51 217.12,68.14 217.34,70.19 217.56,72.21 217.78,69.44 218.01,69.05 218.23,70.86 218.45,65.62 218.67,65.65 218.9,66.61 219.12,67.31 219.34,64.1 219.57,64.27 219.79,66.71 220.01,64.55 220.23,60.42 220.46,62.11 220.68,69.32 220.9,62.31 221.12,66.19 221.35,66.41 221.57,66.36 221.79,65.49 222.02,62.72 222.24,62.05 222.46,60.89 222.68,63.17 222.91,66.79 223.13,60.14 223.35,64.75 223.57,63.37 223.8,63.86 224.02,64.04 224.24,66.27 224.46,61.24 224.69,62.91 224.91,62.59 225.13,66.67 225.36,67.51 225.58,64.75 225.8,67.18 226.02,63.61 226.25,64.94 226.47,67.46 226.69,65.59 226.91,61.98 227.14,66.5 227.36,66.92 227.58,65.67 227.81,72.52 228.03,69.33 228.25,60.38 228.47,60.29 228.7,68.5 228.92,66.56 229.14,72.75 229.36,69.3 229.59,65.54 229.81,64.99 230.03,69.28 230.26,68.07 230.48,63.67 230.7,63.88 230.92,65.25 231.15,65.67 231.37,66.58 231.59,69.58 231.81,64.7 232.04,64.3 232.26,69.66 232.48,67.96 232.71,68.31 232.93,66.67 233.15,67 233.37,64.15 233.6,67.7 233.82,67.32 234.04,69.29 234.26,70.47 234.49,69.69 234.71,73.51 234.93,70.98 235.16,68.16 235.38,64.81 235.6,65.43 235.82,67.02 236.05,64.45 236.27,66.1 236.49,64.19 236.71,69.87 236.94,74.46 237.16,72.13 237.38,70.43 237.61,70.24 237.83,66.81 238.05,67.18 238.27,68.12 238.5,68.5 238.72,64.12 238.94,64.12 239.16,69.27 239.39,68.41 239.61,65.17 239.83,62.02 240.06,66.06 240.28,65.72 240.5,63.31 240.72,62.54 240.95,64.46 241.17,67.12 241.39,68.59 241.61,66.93 241.84,71.82 242.06,69.62 242.28,67.69 242.51,70.37 242.73,64.36 242.95,64.46 243.17,66.39 243.4,62.96 243.62,64.66 243.84,67.4 244.06,69.08 244.29,67.56 244.51,68.51 244.73,65.73 244.96,66.77 245.18,68.02 245.4,68.56 245.62,69.81 245.85,71.5 246.07,62.7 246.29,67.88 246.51,73.01 246.74,68.45 246.96,65.49 247.18,70.43 247.41,70.36 247.63,64.43 247.85,64.45 248.07,64.2 248.3,65.72 248.52,64.65 248.74,66.41 248.96,65.62 249.19,70.47 249.41,68.79 249.63,70.27 249.86,71.4 250.08,68.4 250.3,67.2 250.52,69.79 250.75,71.23 250.97,75.55 251.19,72.39 251.41,67.23 251.64,68.61 251.86,67.46 252.08,65.91 252.31,68.74 252.53,67.43 252.75,69.44 252.97,68.01 253.2,67.25 253.42,70.99 253.64,68.15 253.86,73.27 254.09,72.34 254.31,67.68 254.53,71.57 254.76,68.94 254.98,75.39 255.2,72.64 255.42,65.89 255.65,68.37 255.87,65.6 256.09,69.24 256.31,66.07 256.54,66.89 256.76,69.78 256.98,70.27 257.21,67.37 257.43,68.74 257.65,64.99 257.87,63.64 258.1,65 258.32,65.85 258.54,69.11 258.76,76.49 258.99,71 259.21,63.51 259.43,62.75 259.66,65.53 259.88,59.93 260.1,62.62 260.32,69.33 260.55,66.65 260.77,68.9 260.99,74.5 261.21,68.78 261.44,68.35 261.66,68.6 261.88,68.21 262.11,67.26 262.33,72.26 262.55,73.5 262.77,68.51 263,64.89 263.22,66.09 263.44,66.71 263.66,69.26 263.89,69.75 264.11,69.53 264.33,72.54 264.56,71.61 264.78,73.31 265,71.23 265.22,69.68 265.45,62.97 265.67,70.74 265.89,65.19 266.11,66.56 266.34,69.17 266.56,67.61 266.78,69.6 267.01,70.61 267.23,64.15 267.45,69.4 267.67,67.89 267.9,71.32 268.12,73.56 268.34,73.41 268.56,74.81 268.79,76.25 269.01,76.44 269.23,70.18 269.45,70.52 269.68,71.99 269.9,69.22 270.12,69.77 270.35,68.86 270.57,65.67 270.79,73.4 271.01,71.99 271.24,63.31 271.46,63.51 271.68,67.58 271.9,70.14 272.13,69.96 272.35,65.4 272.57,70.98 272.8,70.48 273.02,63.1 273.24,61.87 273.46,72.05 273.69,65.89 273.91,66.42 274.13,68.52 274.35,72.58 274.58,72.04 274.8,73.02 275.02,67.12 275.25,68.03 275.47,73.86 275.69,64.5 275.91,72.12 276.14,65.63 276.36,67.85 276.58,66.76 276.8,71.26 277.03,73.05 277.25,73.26 277.47,65.95 277.7,65.42 277.92,66.59 278.14,64.81 278.36,69.61 278.59,65.55 278.81,71.06 279.03,71.89 279.25,70.51 279.48,66.86 279.7,69.24 279.92,71.65 280.15,66.02 280.37,72.22 280.59,72.52 280.81,70.48 281.04,66.89 281.26,67.4 281.48,67.82 281.7,64.34 281.93,67.95 282.15,65.49 282.37,62.67 282.6,61.76 282.82,66.32 283.04,66.87 283.26,64.13 283.49,63.76 283.71,67.54 283.93,62.66 284.15,63.23 284.38,58.31 284.6,60.55 284.82,54.09 285.05,56.65 285.27,57.26 285.49,58.54 285.71,52.37 285.94,57.13 286.16,55.2 286.38,49.37 286.6,49.14 286.83,52.66 287.05,52.97 287.27,50.97 287.5,52.66 287.72,51.4 287.94,47.88 288.16,54.98 288.39,51.66 288.61,53.28 288.83,52.78 289.05,55.57 289.28,56.81 289.5,57.67" fill="none" stroke="#8e0b0b" stroke-width="1.1" stroke-linejoin="round" />
<rect x="431" y="22.2" width="243.70000000000005" height="189.0" fill="none" stroke="#444" stroke-width="0.9"/>
<line x1="428" y1="211.2" x2="431" y2="211.2" stroke="#444" stroke-width="0.8" />
<text x="426.2" y="213.9" font-family="Liberation Sans" font-size="7.6" fill="#2a2a2a" text-anchor="end" font-weight="normal" font-style="normal" textLength="11" lengthAdjust="spacingAndGlyphs" >0.0</text>
<line x1="428" y1="186.75" x2="431" y2="186.75" stroke="#444" stroke-width="0.8" />
<text x="426.2" y="189.45" font-family="Liberation Sans" font-size="7.6" fill="#2a2a2a" text-anchor="end" font-weight="normal" font-style="normal" textLength="11" lengthAdjust="spacingAndGlyphs" >0.5</text>
<line x1="428" y1="162.3" x2="431" y2="162.3" stroke="#444" stroke-width="0.8" />
<text x="426.2" y="165" font-family="Liberation Sans" font-size="7.6" fill="#2a2a2a" text-anchor="end" font-weight="normal" font-style="normal" textLength="11" lengthAdjust="spacingAndGlyphs" >1.0</text>
<line x1="428" y1="137.85" x2="431" y2="137.85" stroke="#444" stroke-width="0.8" />
<text x="426.2" y="140.55" font-family="Liberation Sans" font-size="7.6" fill="#2a2a2a" text-anchor="end" font-weight="normal" font-style="normal" textLength="11" lengthAdjust="spacingAndGlyphs" >1.5</text>
<line x1="428" y1="113.4" x2="431" y2="113.4" stroke="#444" stroke-width="0.8" />
<text x="426.2" y="116.1" font-family="Liberation Sans" font-size="7.6" fill="#2a2a2a" text-anchor="end" font-weight="normal" font-style="normal" textLength="11" lengthAdjust="spacingAndGlyphs" >2.0</text>
<line x1="428" y1="88.95" x2="431" y2="88.95" stroke="#444" stroke-width="0.8" />
<text x="426.2" y="91.65" font-family="Liberation Sans" font-size="7.6" fill="#2a2a2a" text-anchor="end" font-weight="normal" font-style="normal" textLength="11" lengthAdjust="spacingAndGlyphs" >2.5</text>
<line x1="428" y1="64.5" x2="431" y2="64.5" stroke="#444" stroke-width="0.8" />
<text x="426.2" y="67.2" font-family="Liberation Sans" font-size="7.6" fill="#2a2a2a" text-anchor="end" font-weight="normal" font-style="normal" textLength="11" lengthAdjust="spacingAndGlyphs" >3.0</text>
<line x1="428" y1="40.05" x2="431" y2="40.05" stroke="#444" stroke-width="0.8" />
<text x="426.2" y="42.75" font-family="Liberation Sans" font-size="7.6" fill="#2a2a2a" text-anchor="end" font-weight="normal" font-style="normal" textLength="11" lengthAdjust="spacingAndGlyphs" >3.5</text>
<line x1="438.1" y1="211.2" x2="438.1" y2="213.7" stroke="#444" stroke-width="0.8" />
<text x="0" y="0" transform="translate(440.1,216.7) rotate(-90)" font-family="Liberation Sans" font-size="6.6" fill="#333" text-anchor="end" textLength="4.3" lengthAdjust="spacingAndGlyphs">1</text>
<line x1="445.27" y1="211.2" x2="445.27" y2="213.7" stroke="#444" stroke-width="0.8" />
<text x="0" y="0" transform="translate(447.27,216.7) rotate(-90)" font-family="Liberation Sans" font-size="6.6" fill="#333" text-anchor="end" textLength="4.3" lengthAdjust="spacingAndGlyphs">2</text>
<line x1="452.43" y1="211.2" x2="452.43" y2="213.7" stroke="#444" stroke-width="0.8" />
<text x="0" y="0" transform="translate(454.43,216.7) rotate(-90)" font-family="Liberation Sans" font-size="6.6" fill="#333" text-anchor="end" textLength="4.3" lengthAdjust="spacingAndGlyphs">3</text>
<line x1="459.6" y1="211.2" x2="459.6" y2="213.7" stroke="#444" stroke-width="0.8" />
<text x="0" y="0" transform="translate(461.6,216.7) rotate(-90)" font-family="Liberation Sans" font-size="6.6" fill="#333" text-anchor="end" textLength="4.3" lengthAdjust="spacingAndGlyphs">4</text>
<line x1="466.76" y1="211.2" x2="466.76" y2="213.7" stroke="#444" stroke-width="0.8" />
<text x="0" y="0" transform="translate(468.76,216.7) rotate(-90)" font-family="Liberation Sans" font-size="6.6" fill="#333" text-anchor="end" textLength="4.3" lengthAdjust="spacingAndGlyphs">5</text>
<line x1="473.93" y1="211.2" x2="473.93" y2="213.7" stroke="#444" stroke-width="0.8" />
<text x="0" y="0" transform="translate(475.93,216.7) rotate(-90)" font-family="Liberation Sans" font-size="6.6" fill="#333" text-anchor="end" textLength="4.3" lengthAdjust="spacingAndGlyphs">6</text>
<line x1="481.09" y1="211.2" x2="481.09" y2="213.7" stroke="#444" stroke-width="0.8" />
<text x="0" y="0" transform="translate(483.09,216.7) rotate(-90)" font-family="Liberation Sans" font-size="6.6" fill="#333" text-anchor="end" textLength="4.3" lengthAdjust="spacingAndGlyphs">7</text>
<line x1="488.25" y1="211.2" x2="488.25" y2="213.7" stroke="#444" stroke-width="0.8" />
<text x="0" y="0" transform="translate(490.25,216.7) rotate(-90)" font-family="Liberation Sans" font-size="6.6" fill="#333" text-anchor="end" textLength="4.3" lengthAdjust="spacingAndGlyphs">8</text>
<line x1="495.42" y1="211.2" x2="495.42" y2="213.7" stroke="#444" stroke-width="0.8" />
<text x="0" y="0" transform="translate(497.42,216.7) rotate(-90)" font-family="Liberation Sans" font-size="6.6" fill="#333" text-anchor="end" textLength="4.3" lengthAdjust="spacingAndGlyphs">9</text>
<line x1="502.59" y1="211.2" x2="502.59" y2="213.7" stroke="#444" stroke-width="0.8" />
<text x="0" y="0" transform="translate(504.59,216.7) rotate(-90)" font-family="Liberation Sans" font-size="6.6" fill="#333" text-anchor="end" textLength="8.6" lengthAdjust="spacingAndGlyphs">10</text>
<line x1="509.75" y1="211.2" x2="509.75" y2="213.7" stroke="#444" stroke-width="0.8" />
<text x="0" y="0" transform="translate(511.75,216.7) rotate(-90)" font-family="Liberation Sans" font-size="6.6" fill="#333" text-anchor="end" textLength="8.6" lengthAdjust="spacingAndGlyphs">11</text>
<line x1="516.91" y1="211.2" x2="516.91" y2="213.7" stroke="#444" stroke-width="0.8" />
<text x="0" y="0" transform="translate(518.91,216.7) rotate(-90)" font-family="Liberation Sans" font-size="6.6" fill="#333" text-anchor="end" textLength="8.6" lengthAdjust="spacingAndGlyphs">12</text>
<line x1="524.08" y1="211.2" x2="524.08" y2="213.7" stroke="#444" stroke-width="0.8" />
<text x="0" y="0" transform="translate(526.08,216.7) rotate(-90)" font-family="Liberation Sans" font-size="6.6" fill="#333" text-anchor="end" textLength="8.6" lengthAdjust="spacingAndGlyphs">13</text>
<line x1="531.25" y1="211.2" x2="531.25" y2="213.7" stroke="#444" stroke-width="0.8" />
<text x="0" y="0" transform="translate(533.25,216.7) rotate(-90)" font-family="Liberation Sans" font-size="6.6" fill="#333" text-anchor="end" textLength="8.6" lengthAdjust="spacingAndGlyphs">14</text>
<line x1="538.41" y1="211.2" x2="538.41" y2="213.7" stroke="#444" stroke-width="0.8" />
<text x="0" y="0" transform="translate(540.41,216.7) rotate(-90)" font-family="Liberation Sans" font-size="6.6" fill="#333" text-anchor="end" textLength="8.6" lengthAdjust="spacingAndGlyphs">15</text>
<line x1="545.58" y1="211.2" x2="545.58" y2="213.7" stroke="#444" stroke-width="0.8" />
<text x="0" y="0" transform="translate(547.58,216.7) rotate(-90)" font-family="Liberation Sans" font-size="6.6" fill="#333" text-anchor="end" textLength="8.6" lengthAdjust="spacingAndGlyphs">16</text>
<line x1="552.74" y1="211.2" x2="552.74" y2="213.7" stroke="#444" stroke-width="0.8" />
<text x="0" y="0" transform="translate(554.74,216.7) rotate(-90)" font-family="Liberation Sans" font-size="6.6" fill="#333" text-anchor="end" textLength="8.6" lengthAdjust="spacingAndGlyphs">17</text>
<line x1="559.9" y1="211.2" x2="559.9" y2="213.7" stroke="#444" stroke-width="0.8" />
<text x="0" y="0" transform="translate(561.9,216.7) rotate(-90)" font-family="Liberation Sans" font-size="6.6" fill="#333" text-anchor="end" textLength="8.6" lengthAdjust="spacingAndGlyphs">18</text>
<line x1="567.07" y1="211.2" x2="567.07" y2="213.7" stroke="#444" stroke-width="0.8" />
<text x="0" y="0" transform="translate(569.07,216.7) rotate(-90)" font-family="Liberation Sans" font-size="6.6" fill="#333" text-anchor="end" textLength="8.6" lengthAdjust="spacingAndGlyphs">19</text>
<line x1="574.24" y1="211.2" x2="574.24" y2="213.7" stroke="#444" stroke-width="0.8" />
<text x="0" y="0" transform="translate(576.24,216.7) rotate(-90)" font-family="Liberation Sans" font-size="6.6" fill="#333" text-anchor="end" textLength="8.6" lengthAdjust="spacingAndGlyphs">20</text>
<line x1="581.4" y1="211.2" x2="581.4" y2="213.7" stroke="#444" stroke-width="0.8" />
<text x="0" y="0" transform="translate(583.4,216.7) rotate(-90)" font-family="Liberation Sans" font-size="6.6" fill="#333" text-anchor="end" textLength="8.6" lengthAdjust="spacingAndGlyphs">21</text>
<line x1="588.57" y1="211.2" x2="588.57" y2="213.7" stroke="#444" stroke-width="0.8" />
<text x="0" y="0" transform="translate(590.57,216.7) rotate(-90)" font-family="Liberation Sans" font-size="6.6" fill="#333" text-anchor="end" textLength="8.6" lengthAdjust="spacingAndGlyphs">22</text>
<line x1="595.73" y1="211.2" x2="595.73" y2="213.7" stroke="#444" stroke-width="0.8" />
<text x="0" y="0" transform="translate(597.73,216.7) rotate(-90)" font-family="Liberation Sans" font-size="6.6" fill="#333" text-anchor="end" textLength="8.6" lengthAdjust="spacingAndGlyphs">23</text>
<line x1="602.89" y1="211.2" x2="602.89" y2="213.7" stroke="#444" stroke-width="0.8" />
<text x="0" y="0" transform="translate(604.89,216.7) rotate(-90)" font-family="Liberation Sans" font-size="6.6" fill="#333" text-anchor="end" textLength="8.6" lengthAdjust="spacingAndGlyphs">24</text>
<line x1="610.06" y1="211.2" x2="610.06" y2="213.7" stroke="#444" stroke-width="0.8" />
<text x="0" y="0" transform="translate(612.06,216.7) rotate(-90)" font-family="Liberation Sans" font-size="6.6" fill="#333" text-anchor="end" textLength="8.6" lengthAdjust="spacingAndGlyphs">25</text>
<line x1="617.23" y1="211.2" x2="617.23" y2="213.7" stroke="#444" stroke-width="0.8" />
<text x="0" y="0" transform="translate(619.23,216.7) rotate(-90)" font-family="Liberation Sans" font-size="6.6" fill="#333" text-anchor="end" textLength="8.6" lengthAdjust="spacingAndGlyphs">26</text>
<line x1="624.39" y1="211.2" x2="624.39" y2="213.7" stroke="#444" stroke-width="0.8" />
<text x="0" y="0" transform="translate(626.39,216.7) rotate(-90)" font-family="Liberation Sans" font-size="6.6" fill="#333" text-anchor="end" textLength="8.6" lengthAdjust="spacingAndGlyphs">27</text>
<line x1="631.56" y1="211.2" x2="631.56" y2="213.7" stroke="#444" stroke-width="0.8" />
<text x="0" y="0" transform="translate(633.56,216.7) rotate(-90)" font-family="Liberation Sans" font-size="6.6" fill="#333" text-anchor="end" textLength="8.6" lengthAdjust="spacingAndGlyphs">28</text>
<line x1="638.72" y1="211.2" x2="638.72" y2="213.7" stroke="#444" stroke-width="0.8" />
<text x="0" y="0" transform="translate(640.72,216.7) rotate(-90)" font-family="Liberation Sans" font-size="6.6" fill="#333" text-anchor="end" textLength="8.6" lengthAdjust="spacingAndGlyphs">29</text>
<line x1="645.88" y1="211.2" x2="645.88" y2="213.7" stroke="#444" stroke-width="0.8" />
<text x="0" y="0" transform="translate(647.88,216.7) rotate(-90)" font-family="Liberation Sans" font-size="6.6" fill="#333" text-anchor="end" textLength="8.6" lengthAdjust="spacingAndGlyphs">30</text>
<line x1="653.05" y1="211.2" x2="653.05" y2="213.7" stroke="#444" stroke-width="0.8" />
<text x="0" y="0" transform="translate(655.05,216.7) rotate(-90)" font-family="Liberation Sans" font-size="6.6" fill="#333" text-anchor="end" textLength="8.6" lengthAdjust="spacingAndGlyphs">31</text>
<line x1="660.22" y1="211.2" x2="660.22" y2="213.7" stroke="#444" stroke-width="0.8" />
<text x="0" y="0" transform="translate(662.22,216.7) rotate(-90)" font-family="Liberation Sans" font-size="6.6" fill="#333" text-anchor="end" textLength="8.6" lengthAdjust="spacingAndGlyphs">32</text>
<line x1="667.38" y1="211.2" x2="667.38" y2="213.7" stroke="#444" stroke-width="0.8" />
<text x="0" y="0" transform="translate(669.38,216.7) rotate(-90)" font-family="Liberation Sans" font-size="6.6" fill="#333" text-anchor="end" textLength="8.6" lengthAdjust="spacingAndGlyphs">33</text>
<polyline points="438.1,135 445.27,151.9 452.43,151.4 459.6,138.2 466.76,160.4 473.93,160.2 481.09,155.1 488.25,155.8 495.42,153.5 502.59,153.2 509.75,113 516.91,95.9 524.08,59.8 531.25,30.2 538.41,28.8 545.58,46.6 552.74,79.7 559.9,144.9 567.07,142.1 574.24,147.9 581.4,153.5 588.57,152.3 595.73,152.5 602.89,140.3 610.06,132.4 617.23,133.3 624.39,139.1 631.56,150.2 638.72,146.3 645.88,136.8 653.05,131 660.22,112.5 667.38,117.2" fill="none" stroke="#a3325a" stroke-width="1.1" stroke-linejoin="round" />
<text x="0" y="0" transform="translate(411,115.5) rotate(-90)" font-family="Liberation Sans" font-size="11.5" fill="#222" text-anchor="middle" textLength="52" lengthAdjust="spacingAndGlyphs">RMSF (<tspan font-style="italic">Å</tspan>)</text>
<text x="552.8" y="237" font-family="Liberation Sans" font-size="11" fill="#111" text-anchor="middle" font-weight="normal" font-style="normal" textLength="63" lengthAdjust="spacingAndGlyphs" >Atom Index</text>
<rect x="523.6" y="4.4" width="57.1" height="8.7" rx="1" fill="#fff" stroke="#d8d8d8" stroke-width="0.6"/>
<rect x="523.6" y="5.8" width="11.4" height="5.2" fill="#a8234f" />
<text x="535.3" y="11.1" font-family="Liberation Sans" font-size="7" fill="#222" text-anchor="start" font-weight="normal" font-style="normal" textLength="44" lengthAdjust="spacingAndGlyphs" >Fit on Protein</text>
<rect x="56.9" y="354.05" width="7.4" height="21.55" fill="#3467b3" />
<rect x="65.95" y="375.09" width="7.4" height="0.51" fill="#3467b3" />
<rect x="75" y="374.57" width="7.4" height="1.03" fill="#bfadd6" />
<rect x="84.05" y="369.44" width="7.4" height="6.16" fill="#bfadd6" />
<rect x="93.1" y="314.04" width="7.4" height="61.56" fill="#bfadd6" />
<rect x="102.15" y="375.09" width="7.4" height="0.51" fill="#bfadd6" />
<rect x="111.2" y="375.09" width="7.4" height="0.51" fill="#bfadd6" />
<rect x="120.25" y="369.44" width="7.4" height="6.16" fill="#bfadd6" />
<rect x="120.25" y="346.87" width="7.4" height="22.57" fill="#3467b3" />
<rect x="129.3" y="366.88" width="7.4" height="8.72" fill="#bfadd6" />
<rect x="138.35" y="374.37" width="7.4" height="1.23" fill="#3467b3" />
<rect x="147.4" y="281.21" width="7.4" height="94.39" fill="#7dc87d" />
<rect x="147.4" y="264.79" width="7.4" height="16.42" fill="#3467b3" />
<rect x="156.45" y="348.92" width="7.4" height="26.68" fill="#bfadd6" />
<rect x="165.5" y="350.46" width="7.4" height="25.14" fill="#bfadd6" />
<rect x="174.55" y="345.85" width="7.4" height="29.75" fill="#bfadd6" />
<rect x="183.6" y="371.5" width="7.4" height="4.1" fill="#bfadd6" />
<rect x="192.65" y="374.06" width="7.4" height="1.54" fill="#bfadd6" />
<rect x="201.7" y="350.98" width="7.4" height="24.62" fill="#bfadd6" />
<rect x="210.75" y="374.98" width="7.4" height="0.62" fill="#7dc87d" />
<rect x="219.8" y="347.9" width="7.4" height="27.7" fill="#3467b3" />
<rect x="228.85" y="373.55" width="7.4" height="2.05" fill="#7dc87d" />
<rect x="228.85" y="331.48" width="7.4" height="42.07" fill="#3467b3" />
<rect x="237.9" y="373.55" width="7.4" height="2.05" fill="#7dc87d" />
<rect x="237.9" y="324.3" width="7.4" height="49.25" fill="#3467b3" />
<rect x="246.95" y="366.88" width="7.4" height="8.72" fill="#3467b3" />
<rect x="256" y="373.04" width="7.4" height="2.56" fill="#bfadd6" />
<rect x="265.05" y="281.21" width="7.4" height="94.39" fill="#7dc87d" />
<rect x="265.05" y="237.09" width="7.4" height="44.12" fill="#3467b3" />
<rect x="274.1" y="374.98" width="7.4" height="0.62" fill="#3467b3" />
<rect x="283.15" y="336.61" width="7.4" height="38.99" fill="#bfadd6" />
<rect x="283.15" y="334.56" width="7.4" height="2.05" fill="#3467b3" />
<rect x="292.2" y="372.01" width="7.4" height="3.59" fill="#bfadd6" />
<rect x="301.25" y="373.55" width="7.4" height="2.05" fill="#3467b3" />
<rect x="310.3" y="375.19" width="7.4" height="0.41" fill="#bfadd6" />
<rect x="319.35" y="375.19" width="7.4" height="0.41" fill="#bfadd6" />
<rect x="328.4" y="374.98" width="7.4" height="0.62" fill="#3467b3" />
<polyline points="54.8,375.6 54.8,229.8 344.8,229.8 344.8,375.6 54.8,375.6" fill="none" stroke="#c8c8c8" stroke-width="1.4"/>
<line x1="52.3" y1="375.6" x2="54.8" y2="375.6" stroke="#c8c8c8" stroke-width="1" />
<text x="51.5" y="377.8" font-family="Liberation Sans" font-size="6.2" fill="#a0a0a0" text-anchor="end" font-weight="normal" font-style="normal" textLength="8.5" lengthAdjust="spacingAndGlyphs" >0.0</text>
<line x1="52.3" y1="355.08" x2="54.8" y2="355.08" stroke="#c8c8c8" stroke-width="1" />
<text x="51.5" y="357.28" font-family="Liberation Sans" font-size="6.2" fill="#a0a0a0" text-anchor="end" font-weight="normal" font-style="normal" textLength="8.5" lengthAdjust="spacingAndGlyphs" >0.2</text>
<line x1="52.3" y1="334.56" x2="54.8" y2="334.56" stroke="#c8c8c8" stroke-width="1" />
<text x="51.5" y="336.76" font-family="Liberation Sans" font-size="6.2" fill="#a0a0a0" text-anchor="end" font-weight="normal" font-style="normal" textLength="8.5" lengthAdjust="spacingAndGlyphs" >0.4</text>
<line x1="52.3" y1="314.04" x2="54.8" y2="314.04" stroke="#c8c8c8" stroke-width="1" />
<text x="51.5" y="316.24" font-family="Liberation Sans" font-size="6.2" fill="#a0a0a0" text-anchor="end" font-weight="normal" font-style="normal" textLength="8.5" lengthAdjust="spacingAndGlyphs" >0.6</text>
<line x1="52.3" y1="293.52" x2="54.8" y2="293.52" stroke="#c8c8c8" stroke-width="1" />
<text x="51.5" y="295.72" font-family="Liberation Sans" font-size="6.2" fill="#a0a0a0" text-anchor="end" font-weight="normal" font-style="normal" textLength="8.5" lengthAdjust="spacingAndGlyphs" >0.8</text>
<line x1="52.3" y1="273" x2="54.8" y2="273" stroke="#c8c8c8" stroke-width="1" />
<text x="51.5" y="275.2" font-family="Liberation Sans" font-size="6.2" fill="#a0a0a0" text-anchor="end" font-weight="normal" font-style="normal" textLength="8.5" lengthAdjust="spacingAndGlyphs" >1.0</text>
<line x1="52.3" y1="252.48" x2="54.8" y2="252.48" stroke="#c8c8c8" stroke-width="1" />
<text x="51.5" y="254.68" font-family="Liberation Sans" font-size="6.2" fill="#a0a0a0" text-anchor="end" font-weight="normal" font-style="normal" textLength="8.5" lengthAdjust="spacingAndGlyphs" >1.2</text>
<line x1="52.3" y1="231.96" x2="54.8" y2="231.96" stroke="#c8c8c8" stroke-width="1" />
<text x="51.5" y="234.16" font-family="Liberation Sans" font-size="6.2" fill="#a0a0a0" text-anchor="end" font-weight="normal" font-style="normal" textLength="8.5" lengthAdjust="spacingAndGlyphs" >1.4</text>
<line x1="64.5" y1="375.6" x2="64.5" y2="378.6" stroke="#c8c8c8" stroke-width="1" />
<text x="0" y="0" transform="translate(67.1,384.8) rotate(-53.5) scale(0.88,1)" font-family="Liberation Sans" font-size="6.8" font-style="italic" fill="#2a2a2a" text-anchor="end">ASP_814</text>
<line x1="73.55" y1="375.6" x2="73.55" y2="378.6" stroke="#c8c8c8" stroke-width="1" />
<text x="0" y="0" transform="translate(76.15,384.8) rotate(-53.5) scale(0.88,1)" font-family="Liberation Sans" font-size="6.8" font-style="italic" fill="#2a2a2a" text-anchor="end">GLU_815</text>
<line x1="82.6" y1="375.6" x2="82.6" y2="378.6" stroke="#c8c8c8" stroke-width="1" />
<text x="0" y="0" transform="translate(85.2,384.8) rotate(-53.5) scale(0.88,1)" font-family="Liberation Sans" font-size="6.8" font-style="italic" fill="#2a2a2a" text-anchor="end">PHE_845</text>
<line x1="91.65" y1="375.6" x2="91.65" y2="378.6" stroke="#c8c8c8" stroke-width="1" />
<text x="0" y="0" transform="translate(94.25,384.8) rotate(-53.5) scale(0.88,1)" font-family="Liberation Sans" font-size="6.8" font-style="italic" fill="#2a2a2a" text-anchor="end">VAL_848</text>
<line x1="100.7" y1="375.6" x2="100.7" y2="378.6" stroke="#c8c8c8" stroke-width="1" />
<text x="0" y="0" transform="translate(103.3,384.8) rotate(-53.5) scale(0.88,1)" font-family="Liberation Sans" font-size="6.8" font-style="italic" fill="#2a2a2a" text-anchor="end">LYS_868</text>
<line x1="109.75" y1="375.6" x2="109.75" y2="378.6" stroke="#c8c8c8" stroke-width="1" />
<text x="0" y="0" transform="translate(112.35,384.8) rotate(-53.5) scale(0.88,1)" font-family="Liberation Sans" font-size="6.8" font-style="italic" fill="#2a2a2a" text-anchor="end">LEU_870</text>
<line x1="118.8" y1="375.6" x2="118.8" y2="378.6" stroke="#c8c8c8" stroke-width="1" />
<text x="0" y="0" transform="translate(121.4,384.8) rotate(-53.5) scale(0.88,1)" font-family="Liberation Sans" font-size="6.8" font-style="italic" fill="#2a2a2a" text-anchor="end">ARG_880</text>
<line x1="127.85" y1="375.6" x2="127.85" y2="378.6" stroke="#c8c8c8" stroke-width="1" />
<text x="0" y="0" transform="translate(130.45,384.8) rotate(-53.5) scale(0.88,1)" font-family="Liberation Sans" font-size="6.8" font-style="italic" fill="#2a2a2a" text-anchor="end">ALA_881</text>
<line x1="136.9" y1="375.6" x2="136.9" y2="378.6" stroke="#c8c8c8" stroke-width="1" />
<text x="0" y="0" transform="translate(139.5,384.8) rotate(-53.5) scale(0.88,1)" font-family="Liberation Sans" font-size="6.8" font-style="italic" fill="#2a2a2a" text-anchor="end">LEU_882</text>
<line x1="145.95" y1="375.6" x2="145.95" y2="378.6" stroke="#c8c8c8" stroke-width="1" />
<text x="0" y="0" transform="translate(148.55,384.8) rotate(-53.5) scale(0.88,1)" font-family="Liberation Sans" font-size="6.8" font-style="italic" fill="#2a2a2a" text-anchor="end">SER_884</text>
<line x1="155" y1="375.6" x2="155" y2="378.6" stroke="#c8c8c8" stroke-width="1" />
<text x="0" y="0" transform="translate(157.6,384.8) rotate(-53.5) scale(0.88,1)" font-family="Liberation Sans" font-size="6.8" font-style="italic" fill="#2a2a2a" text-anchor="end">GLU_885</text>
<line x1="164.05" y1="375.6" x2="164.05" y2="378.6" stroke="#c8c8c8" stroke-width="1" />
<text x="0" y="0" transform="translate(166.65,384.8) rotate(-53.5) scale(0.88,1)" font-family="Liberation Sans" font-size="6.8" font-style="italic" fill="#2a2a2a" text-anchor="end">ILE_886</text>
<line x1="173.1" y1="375.6" x2="173.1" y2="378.6" stroke="#c8c8c8" stroke-width="1" />
<text x="0" y="0" transform="translate(175.7,384.8) rotate(-53.5) scale(0.88,1)" font-family="Liberation Sans" font-size="6.8" font-style="italic" fill="#2a2a2a" text-anchor="end">LEU_889</text>
<line x1="182.15" y1="375.6" x2="182.15" y2="378.6" stroke="#c8c8c8" stroke-width="1" />
<text x="0" y="0" transform="translate(184.75,384.8) rotate(-53.5) scale(0.88,1)" font-family="Liberation Sans" font-size="6.8" font-style="italic" fill="#2a2a2a" text-anchor="end">ILE_892</text>
<line x1="191.2" y1="375.6" x2="191.2" y2="378.6" stroke="#c8c8c8" stroke-width="1" />
<text x="0" y="0" transform="translate(193.8,384.8) rotate(-53.5) scale(0.88,1)" font-family="Liberation Sans" font-size="6.8" font-style="italic" fill="#2a2a2a" text-anchor="end">VAL_898</text>
<line x1="200.25" y1="375.6" x2="200.25" y2="378.6" stroke="#c8c8c8" stroke-width="1" />
<text x="0" y="0" transform="translate(202.85,384.8) rotate(-53.5) scale(0.88,1)" font-family="Liberation Sans" font-size="6.8" font-style="italic" fill="#2a2a2a" text-anchor="end">VAL_899</text>
<line x1="209.3" y1="375.6" x2="209.3" y2="378.6" stroke="#c8c8c8" stroke-width="1" />
<text x="0" y="0" transform="translate(211.9,384.8) rotate(-53.5) scale(0.88,1)" font-family="Liberation Sans" font-size="6.8" font-style="italic" fill="#2a2a2a" text-anchor="end">LEU_1019</text>
<line x1="218.35" y1="375.6" x2="218.35" y2="378.6" stroke="#c8c8c8" stroke-width="1" />
<text x="0" y="0" transform="translate(220.95,384.8) rotate(-53.5) scale(0.88,1)" font-family="Liberation Sans" font-size="6.8" font-style="italic" fill="#2a2a2a" text-anchor="end">CYS_1024</text>
<line x1="227.4" y1="375.6" x2="227.4" y2="378.6" stroke="#c8c8c8" stroke-width="1" />
<text x="0" y="0" transform="translate(230,384.8) rotate(-53.5) scale(0.88,1)" font-family="Liberation Sans" font-size="6.8" font-style="italic" fill="#2a2a2a" text-anchor="end">ILE_1025</text>
<line x1="236.45" y1="375.6" x2="236.45" y2="378.6" stroke="#c8c8c8" stroke-width="1" />
<text x="0" y="0" transform="translate(239.05,384.8) rotate(-53.5) scale(0.88,1)" font-family="Liberation Sans" font-size="6.8" font-style="italic" fill="#2a2a2a" text-anchor="end">HIS_1026</text>
<line x1="245.5" y1="375.6" x2="245.5" y2="378.6" stroke="#c8c8c8" stroke-width="1" />
<text x="0" y="0" transform="translate(248.1,384.8) rotate(-53.5) scale(0.88,1)" font-family="Liberation Sans" font-size="6.8" font-style="italic" fill="#2a2a2a" text-anchor="end">ARG_1027</text>
<line x1="254.55" y1="375.6" x2="254.55" y2="378.6" stroke="#c8c8c8" stroke-width="1" />
<text x="0" y="0" transform="translate(257.15,384.8) rotate(-53.5) scale(0.88,1)" font-family="Liberation Sans" font-size="6.8" font-style="italic" fill="#2a2a2a" text-anchor="end">ASP_1029</text>
<line x1="263.6" y1="375.6" x2="263.6" y2="378.6" stroke="#c8c8c8" stroke-width="1" />
<text x="0" y="0" transform="translate(266.2,384.8) rotate(-53.5) scale(0.88,1)" font-family="Liberation Sans" font-size="6.8" font-style="italic" fill="#2a2a2a" text-anchor="end">ILE_1044</text>
<line x1="272.65" y1="375.6" x2="272.65" y2="378.6" stroke="#c8c8c8" stroke-width="1" />
<text x="0" y="0" transform="translate(275.25,384.8) rotate(-53.5) scale(0.88,1)" font-family="Liberation Sans" font-size="6.8" font-style="italic" fill="#2a2a2a" text-anchor="end">ASP_1046</text>
<line x1="281.7" y1="375.6" x2="281.7" y2="378.6" stroke="#c8c8c8" stroke-width="1" />
<text x="0" y="0" transform="translate(284.3,384.8) rotate(-53.5) scale(0.88,1)" font-family="Liberation Sans" font-size="6.8" font-style="italic" fill="#2a2a2a" text-anchor="end">GLY_1048</text>
<line x1="290.75" y1="375.6" x2="290.75" y2="378.6" stroke="#c8c8c8" stroke-width="1" />
<text x="0" y="0" transform="translate(293.35,384.8) rotate(-53.5) scale(0.88,1)" font-family="Liberation Sans" font-size="6.8" font-style="italic" fill="#2a2a2a" text-anchor="end">LEU_1049</text>
<line x1="299.8" y1="375.6" x2="299.8" y2="378.6" stroke="#c8c8c8" stroke-width="1" />
<text x="0" y="0" transform="translate(302.4,384.8) rotate(-53.5) scale(0.88,1)" font-family="Liberation Sans" font-size="6.8" font-style="italic" fill="#2a2a2a" text-anchor="end">ALA_1050</text>
<line x1="308.85" y1="375.6" x2="308.85" y2="378.6" stroke="#c8c8c8" stroke-width="1" />
<text x="0" y="0" transform="translate(311.45,384.8) rotate(-53.5) scale(0.88,1)" font-family="Liberation Sans" font-size="6.8" font-style="italic" fill="#2a2a2a" text-anchor="end">ARG_1051</text>
<line x1="317.9" y1="375.6" x2="317.9" y2="378.6" stroke="#c8c8c8" stroke-width="1" />
<text x="0" y="0" transform="translate(320.5,384.8) rotate(-53.5) scale(0.88,1)" font-family="Liberation Sans" font-size="6.8" font-style="italic" fill="#2a2a2a" text-anchor="end">TYR_1059</text>
<line x1="326.95" y1="375.6" x2="326.95" y2="378.6" stroke="#c8c8c8" stroke-width="1" />
<text x="0" y="0" transform="translate(329.55,384.8) rotate(-53.5) scale(0.88,1)" font-family="Liberation Sans" font-size="6.8" font-style="italic" fill="#2a2a2a" text-anchor="end">PRO_1068</text>
<line x1="336" y1="375.6" x2="336" y2="378.6" stroke="#c8c8c8" stroke-width="1" />
<text x="0" y="0" transform="translate(338.6,384.8) rotate(-53.5) scale(0.88,1)" font-family="Liberation Sans" font-size="6.8" font-style="italic" fill="#2a2a2a" text-anchor="end">TYR_1082</text>
<text x="0" y="0" transform="translate(39.5,302.3) rotate(-90)" font-family="Liberation Sans" font-size="10" fill="#8e8e8e" text-anchor="middle" textLength="115" lengthAdjust="spacing">Interactions Fraction</text>
<rect x="83.8" y="458.8" width="465.6" height="76.8" fill="none" stroke="#9b9b9b" stroke-width="1.3"/>
<rect x="557.2" y="458.8" width="99.4" height="76.8" fill="none" stroke="#9b9b9b" stroke-width="1.3"/>
<line x1="79.8" y1="465.4" x2="83.8" y2="465.4" stroke="#9b9b9b" stroke-width="1.2" />
<line x1="553.2" y1="465.4" x2="557.2" y2="465.4" stroke="#9b9b9b" stroke-width="1.2" />
<text x="0" y="0" transform="translate(75,469) scale(1,1.1)" font-family="Liberation Sans" font-size="10" fill="#9a9a9a" text-anchor="end" textLength="19.2" lengthAdjust="spacingAndGlyphs">5.00</text>
<line x1="79.8" y1="487.07" x2="83.8" y2="487.07" stroke="#9b9b9b" stroke-width="1.2" />
<line x1="553.2" y1="487.07" x2="557.2" y2="487.07" stroke="#9b9b9b" stroke-width="1.2" />
<text x="0" y="0" transform="translate(75,490.67) scale(1,1.1)" font-family="Liberation Sans" font-size="10" fill="#9a9a9a" text-anchor="end" textLength="19.2" lengthAdjust="spacingAndGlyphs">4.75</text>
<line x1="79.8" y1="508.74" x2="83.8" y2="508.74" stroke="#9b9b9b" stroke-width="1.2" />
<line x1="553.2" y1="508.74" x2="557.2" y2="508.74" stroke="#9b9b9b" stroke-width="1.2" />
<text x="0" y="0" transform="translate(75,512.34) scale(1,1.1)" font-family="Liberation Sans" font-size="10" fill="#9a9a9a" text-anchor="end" textLength="19.2" lengthAdjust="spacingAndGlyphs">4.50</text>
<line x1="79.8" y1="530.41" x2="83.8" y2="530.41" stroke="#9b9b9b" stroke-width="1.2" />
<line x1="553.2" y1="530.41" x2="557.2" y2="530.41" stroke="#9b9b9b" stroke-width="1.2" />
<text x="0" y="0" transform="translate(75,534.01) scale(1,1.1)" font-family="Liberation Sans" font-size="10" fill="#9a9a9a" text-anchor="end" textLength="19.2" lengthAdjust="spacingAndGlyphs">4.25</text>
<line x1="83.8" y1="535.6" x2="83.8" y2="540.1" stroke="#9b9b9b" stroke-width="1.2" />
<line x1="176.87" y1="535.6" x2="176.87" y2="540.1" stroke="#9b9b9b" stroke-width="1.2" />
<line x1="269.94" y1="535.6" x2="269.94" y2="540.1" stroke="#9b9b9b" stroke-width="1.2" />
<line x1="363.01" y1="535.6" x2="363.01" y2="540.1" stroke="#9b9b9b" stroke-width="1.2" />
<line x1="456.08" y1="535.6" x2="456.08" y2="540.1" stroke="#9b9b9b" stroke-width="1.2" />
<line x1="549.15" y1="535.6" x2="549.15" y2="540.1" stroke="#9b9b9b" stroke-width="1.2" />
<text x="0" y="0" transform="translate(58,497.4) rotate(-90)" font-family="Liberation Sans" font-size="10.5" fill="#a8a8a8" fill-opacity="0.9" text-anchor="middle" textLength="40.6" lengthAdjust="spacingAndGlyphs">rGyr (<tspan font-style="italic">Å</tspan>)</text>
<polyline points="83.9,525.1 85.6,522.1 87.9,530.3 90.5,525.1 92.6,494.4 94.9,486.5 97.5,494.4 99.6,502.3 101.9,505.5 104.2,490.9 106.3,480.4 108.9,488.3 111.2,487.9 113.3,479.5 115.9,474.3 118.5,485.7 122.9,480.4 125.5,484.8 128.2,482.2 130.8,480.9 132.6,477.8 134.7,481.3 136.9,469.9 141.3,469 143.9,472 147.4,471.1 150.6,478.1 155.3,467.3 158,474.6 160.6,473.9 163.7,474.6 167.1,462 170.2,469 174.6,477.8 177.2,475.1 179.3,468.7 181.3,473.9 183.7,465.5 190.4,473.9 192.6,481.3 195.1,462.9 197.6,481.3 199.9,485.1 202.4,470.4 204.6,472.2 207.3,475.1 209.9,477.4 211.6,476.4 213.9,483.4 216.4,472.9 218.7,473.4 223,470.8 225.7,481.3 229.2,478.1 232.7,477.4 236.7,481.3 239.7,470.4 242,476 244.1,487.9 246.3,478.7 251.1,472.5 253.3,487.9 255.4,477.4 258.1,485.7 262.4,487.4 266,482.2 270.3,483.9 274.2,487.4 276.5,476.4 279.1,476.4 283.5,482.2 288.7,479.9 290.5,482.2 292.8,472.2 295.2,479.5 297.5,486.2 299.8,477.8 301.9,479.5 304.5,476.9 307.1,479.5 311.5,473.4 313.9,481.3 316.1,479.5 317.9,481.3 321.4,477.8 324,478.1 326.6,479.5 328.4,482.2 330.1,482.7 332.4,487.1 334.5,482.7 337.2,483 339.4,475.7 341.5,483.9 344.2,469.9 346.4,476.9 348.9,490 351.2,481.3 353.8,482.2 355.9,482.2 358.2,479.5 360.5,486.9 362.6,470.8 365.2,481.3 367.8,476 370.4,476.9 374.5,481.3 376.6,474.3 379.2,480.4 381.5,482.7 383.6,482.2 385.9,473.4 388.3,482.7 390.6,479.5 392.7,483 395.5,471.6 397.6,474.3 400.2,480.4 402.5,468.1 405,469.9 409.5,490.9 411.6,476 416.5,481.3 418.6,473.4 423,485.7 427.8,465.4 430.3,478.7 435.4,469.2 438.3,470.2 442.1,474.9 445.9,474 448.7,475.9 452.5,481.6 455.4,474 458.2,480.6 462.6,473 465.2,476.8 467.7,474 469.6,474.9 472.1,474 475.3,478.7 479.1,485.4 482.9,477.8 486.1,488.2 490.5,475.5 493.3,486.3 498.1,480.6 500.5,483.5 502.8,483.1 504.7,486.3 507.6,479.7 509.5,479.7 511.9,474 514.2,483.5 517,474 518.9,474.9 521.4,487.3 523.7,481.6 526.5,482.5 528.4,480.6 530.9,486.3 532.8,478.7 535.1,486.3 537.4,480.6 539.8,492 542.7,481.6 546.5,475.5 549.3,479.7" fill="none" stroke="#acdb90" stroke-width="1.75" stroke-linejoin="round" />
<rect x="557.8" y="463.3" width="9" height="4.2" fill="#a6d98a" />
<rect x="557.8" y="470.5" width="55.4" height="3.9" fill="#a6d98a" />
<rect x="557.8" y="477.1" width="93.4" height="4.5" fill="#a6d98a" />
<rect x="557.8" y="484.3" width="38.3" height="4.2" fill="#a6d98a" />
<rect x="557.8" y="491.2" width="4.8" height="4.2" fill="#a6d98a" />
<rect x="557.8" y="526.5" width="2.4" height="3.9" fill="#a6d98a" />
<rect x="83.8" y="553.0" width="465.6" height="88.7" fill="none" stroke="#9b9b9b" stroke-width="1.3"/>
<rect x="557.2" y="553.0" width="99.4" height="88.7" fill="none" stroke="#9b9b9b" stroke-width="1.3"/>
<line x1="79.8" y1="568.2" x2="83.8" y2="568.2" stroke="#9b9b9b" stroke-width="1.2" />
<line x1="553.2" y1="568.2" x2="557.2" y2="568.2" stroke="#9b9b9b" stroke-width="1.2" />
<text x="0" y="0" transform="translate(75.5,572.5) scale(1,1.3)" font-family="Liberation Sans" font-size="9.8" fill="#9a9a9a" text-anchor="end" textLength="16.65" lengthAdjust="spacingAndGlyphs">160</text>
<line x1="79.8" y1="593" x2="83.8" y2="593" stroke="#9b9b9b" stroke-width="1.2" />
<line x1="553.2" y1="593" x2="557.2" y2="593" stroke="#9b9b9b" stroke-width="1.2" />
<text x="0" y="0" transform="translate(75.5,597.3) scale(1,1.3)" font-family="Liberation Sans" font-size="9.8" fill="#9a9a9a" text-anchor="end" textLength="16.65" lengthAdjust="spacingAndGlyphs">120</text>
<line x1="79.8" y1="617.8" x2="83.8" y2="617.8" stroke="#9b9b9b" stroke-width="1.2" />
<line x1="553.2" y1="617.8" x2="557.2" y2="617.8" stroke="#9b9b9b" stroke-width="1.2" />
<text x="0" y="0" transform="translate(75.5,622.1) scale(1,1.3)" font-family="Liberation Sans" font-size="9.8" fill="#9a9a9a" text-anchor="end" textLength="11.1" lengthAdjust="spacingAndGlyphs">80</text>
<line x1="83.8" y1="641.7" x2="83.8" y2="646.5" stroke="#9b9b9b" stroke-width="1.2" />
<text x="0" y="0" transform="translate(82.6,664.3) scale(1,1.15)" font-family="Liberation Sans" font-size="11.4" fill="#1a1a1a" text-anchor="middle">0</text>
<line x1="176.87" y1="641.7" x2="176.87" y2="646.5" stroke="#9b9b9b" stroke-width="1.2" />
<text x="0" y="0" transform="translate(174.5,664.3) scale(1,1.15)" font-family="Liberation Sans" font-size="11.4" fill="#1a1a1a" text-anchor="middle">100</text>
<line x1="269.94" y1="641.7" x2="269.94" y2="646.5" stroke="#9b9b9b" stroke-width="1.2" />
<text x="0" y="0" transform="translate(268,664.3) scale(1,1.15)" font-family="Liberation Sans" font-size="11.4" fill="#1a1a1a" text-anchor="middle">200</text>
<line x1="363.01" y1="641.7" x2="363.01" y2="646.5" stroke="#9b9b9b" stroke-width="1.2" />
<text x="0" y="0" transform="translate(363.1,664.3) scale(1,1.15)" font-family="Liberation Sans" font-size="11.4" fill="#1a1a1a" text-anchor="middle">300</text>
<line x1="456.08" y1="641.7" x2="456.08" y2="646.5" stroke="#9b9b9b" stroke-width="1.2" />
<text x="0" y="0" transform="translate(454.7,664.3) scale(1,1.15)" font-family="Liberation Sans" font-size="11.4" fill="#1a1a1a" text-anchor="middle">400</text>
<line x1="549.15" y1="641.7" x2="549.15" y2="646.5" stroke="#9b9b9b" stroke-width="1.2" />
<text x="0" y="0" transform="translate(547.5,664.3) scale(1,1.15)" font-family="Liberation Sans" font-size="11.4" fill="#1a1a1a" text-anchor="middle">500</text>
<text x="0" y="0" transform="translate(58.5,596.7) rotate(-90)" font-family="Liberation Sans" font-size="11" fill="#a8a8a8" text-anchor="middle" textLength="63" lengthAdjust="spacingAndGlyphs">SASA (<tspan font-style="italic">Å</tspan> <tspan font-size="7" dy="-3">2</tspan><tspan dy="3">)</tspan></text>
<text x="0" y="0" transform="translate(336,688.2) scale(1,1.12)" font-family="Liberation Sans" font-size="12" fill="#1a1a1a" text-anchor="middle" textLength="60.7" lengthAdjust="spacingAndGlyphs">Time (nsec)</text>
<polyline points="83.9,574.3 85.6,586.9 87.9,575.2 90.2,592.7 92.6,580.4 95.2,556.4 97.5,574.3 99.6,584.4 101.9,578.7 104.5,580.4 106.6,583 108.9,595.3 111.2,603.2 113.3,597.9 115.9,589.7 118.5,595 122.4,589.7 127.7,600.2 132.2,582.7 134.3,601.4 136.9,605.8 139.2,581.6 142.7,588.3 146.2,595 151,600.9 153.2,585.7 155.3,586.2 158,578.1 162,586.2 165,579.2 168.1,584.8 171.5,590.4 175.5,584.4 178.1,585.1 181.1,599.7 183.4,596.2 186,590.9 188.3,596.7 190.4,589.2 193,590 195.3,586.5 197.4,595.3 199.9,589.2 202,579.5 204.1,575.2 206.9,584.8 209.4,583 211.6,578.7 213.9,597.1 216,576.9 218.7,580.4 220.9,583.9 223.4,580.4 225.7,603.7 227.9,585.7 230,609.7 232.1,576 234.9,581.3 237,604.1 239.1,587.4 241.4,584.4 244.9,603.2 246.7,608.4 248.4,625.1 250.7,618.1 253.2,637.7 255.4,622.5 258.1,628.2 260.7,625.1 263,619.8 265.1,629.5 267.2,616.3 269.5,620.7 272.1,632.1 274.2,631.7 276.5,617.7 278.7,625.1 281.2,626.8 283.5,613.2 285.8,623 287.9,612.8 290.5,609.7 292.8,599.7 295.2,625.1 297.5,624.2 301.9,616.3 304.5,625.1 306.8,626.5 310,621.6 311.8,612 313.9,609.3 316.1,587.4 318.4,602.3 320.9,596.2 323.1,612.8 325.4,588.6 327.5,614.6 329.6,618.1 332.4,626.8 337.2,611.9 339.4,590.4 341.5,609.7 344.2,604.4 346.4,600.2 348.5,619.8 351.2,583 353.4,593.5 355.9,613.7 358.2,606.7 360.5,611.9 362.6,560.3 365.2,563.8 367.5,584.8 369.6,577.8 372.2,595.3 374.5,591.4 376.6,569 378.9,579.5 381.5,604.4 383.6,582.7 386.2,588.3 388.5,586.9 390.6,594.4 395.5,589.2 397.6,598.8 399.9,580.4 402.5,602.3 406.7,599.2 409.5,608.4 411.6,594.4 413.7,590.9 416,568.7 418.6,572.5 423.5,576.4 425.6,560.6 427.8,575.5 430.3,571.7 432.6,602.1 434.9,593.5 437.3,596.4 439.8,596.4 442.1,622 444.4,586.9 446.8,614.8 448.7,589.8 450.6,586 453.5,583.1 458.2,592.6 461.1,582.2 463.3,574.6 465.2,579.3 467.7,561.3 470.2,564.1 472.4,587.9 474.7,577.4 477.2,573.6 479.1,602.1 481.6,603 484.2,579.3 486.1,589.8 488.6,587.9 491,557.5 493.7,592.6 495.6,596.4 500,568.9 502.4,569.8 505.1,582.2 507,573.6 509.5,571.7 511.9,560.3 514.2,585 516.5,582.2 519,566 521.4,586 525.6,568.9 528.4,586 530.3,586 532.8,577.4 535.1,595.4 537.4,583.1 539.8,601.1 545,582.2 546.5,583.1 549.3,572.7" fill="none" stroke="#a9cfe3" stroke-width="1.7" stroke-linejoin="round" />
<rect x="557.8" y="558.6" width="12.9" height="4.7" fill="#a9cfe3" />
<rect x="557.8" y="566.3" width="18.9" height="4.8" fill="#a9cfe3" />
<rect x="557.8" y="574.7" width="57.2" height="4.8" fill="#a9cfe3" />
<rect x="557.8" y="582.8" width="93.1" height="4.8" fill="#a9cfe3" />
<rect x="557.8" y="590.9" width="70.7" height="5.1" fill="#a9cfe3" />
<rect x="557.8" y="599" width="43.7" height="4.8" fill="#a9cfe3" />
<rect x="557.8" y="607" width="26.4" height="4.8" fill="#a9cfe3" />
<rect x="557.8" y="615.1" width="24.6" height="4.8" fill="#a9cfe3" />
<rect x="557.8" y="623.5" width="26.4" height="4.8" fill="#a9cfe3" />
<rect x="557.8" y="631.3" width="7.2" height="4.8" fill="#a9cfe3" />
<line x1="504" y1="302.2" x2="503.86" y2="302.23" stroke="rgb(249,229,219)" stroke-width="2.3" stroke-linecap="round"/>
<line x1="503.86" y1="302.23" x2="503.7" y2="302.28" stroke="rgb(249,229,219)" stroke-width="2.3" stroke-linecap="round"/>
<line x1="503.7" y1="302.28" x2="503.5" y2="302.34" stroke="rgb(247,221,207)" stroke-width="2.3" stroke-linecap="round"/>
<line x1="503.5" y1="302.34" x2="503.28" y2="302.41" stroke="rgb(243,204,183)" stroke-width="2.3" stroke-linecap="round"/>
<line x1="503.28" y1="302.41" x2="503.04" y2="302.47" stroke="rgb(239,187,159)" stroke-width="2.3" stroke-linecap="round"/>
<line x1="503.04" y1="302.47" x2="502.78" y2="302.53" stroke="rgb(235,171,136)" stroke-width="2.3" stroke-linecap="round"/>
<line x1="502.78" y1="302.53" x2="502.5" y2="302.55" stroke="rgb(232,154,112)" stroke-width="2.3" stroke-linecap="round"/>
<line x1="502.5" y1="302.55" x2="502.21" y2="302.55" stroke="rgb(228,137,88)" stroke-width="2.3" stroke-linecap="round"/>
<line x1="502.21" y1="302.55" x2="501.91" y2="302.5" stroke="rgb(224,120,64)" stroke-width="2.3" stroke-linecap="round"/>
<line x1="501.91" y1="302.5" x2="501.6" y2="302.4" stroke="rgb(220,104,40)" stroke-width="2.3" stroke-linecap="round"/>
<line x1="501.6" y1="302.4" x2="501.28" y2="302.24" stroke="rgb(217,88,18)" stroke-width="2.3" stroke-linecap="round"/>
<line x1="501.28" y1="302.24" x2="500.92" y2="302.03" stroke="rgb(217,88,18)" stroke-width="2.3" stroke-linecap="round"/>
<line x1="500.92" y1="302.03" x2="500.55" y2="301.78" stroke="rgb(217,88,18)" stroke-width="2.3" stroke-linecap="round"/>
<line x1="500.55" y1="301.78" x2="500.17" y2="301.5" stroke="rgb(217,88,18)" stroke-width="2.3" stroke-linecap="round"/>
<line x1="500.17" y1="301.5" x2="499.77" y2="301.19" stroke="rgb(217,88,18)" stroke-width="2.3" stroke-linecap="round"/>
<line x1="499.77" y1="301.19" x2="499.37" y2="300.86" stroke="rgb(217,88,18)" stroke-width="2.3" stroke-linecap="round"/>
<line x1="499.37" y1="300.86" x2="498.96" y2="300.53" stroke="rgb(217,88,18)" stroke-width="2.3" stroke-linecap="round"/>
<line x1="498.96" y1="300.53" x2="498.56" y2="300.21" stroke="rgb(217,88,18)" stroke-width="2.3" stroke-linecap="round"/>
<line x1="498.56" y1="300.21" x2="498.17" y2="299.89" stroke="rgb(217,88,18)" stroke-width="2.3" stroke-linecap="round"/>
<line x1="498.17" y1="299.89" x2="497.8" y2="299.6" stroke="rgb(217,88,18)" stroke-width="2.3" stroke-linecap="round"/>
<line x1="497.8" y1="299.6" x2="497.44" y2="299.32" stroke="rgb(217,88,18)" stroke-width="2.3" stroke-linecap="round"/>
<line x1="497.44" y1="299.32" x2="497.1" y2="299.05" stroke="rgb(217,88,18)" stroke-width="2.3" stroke-linecap="round"/>
<line x1="497.1" y1="299.05" x2="496.76" y2="298.77" stroke="rgb(217,88,18)" stroke-width="2.3" stroke-linecap="round"/>
<line x1="496.76" y1="298.77" x2="496.42" y2="298.5" stroke="rgb(217,88,18)" stroke-width="2.3" stroke-linecap="round"/>
<line x1="496.42" y1="298.5" x2="496.09" y2="298.23" stroke="rgb(217,88,18)" stroke-width="2.3" stroke-linecap="round"/>
<line x1="496.09" y1="298.23" x2="495.75" y2="297.95" stroke="rgb(217,88,18)" stroke-width="2.3" stroke-linecap="round"/>
<line x1="495.75" y1="297.95" x2="495.41" y2="297.67" stroke="rgb(217,88,18)" stroke-width="2.3" stroke-linecap="round"/>
<line x1="495.41" y1="297.67" x2="495.05" y2="297.39" stroke="rgb(217,88,18)" stroke-width="2.3" stroke-linecap="round"/>
<line x1="495.05" y1="297.39" x2="494.69" y2="297.1" stroke="rgb(217,88,18)" stroke-width="2.3" stroke-linecap="round"/>
<line x1="494.69" y1="297.1" x2="494.3" y2="296.8" stroke="rgb(217,88,18)" stroke-width="2.3" stroke-linecap="round"/>
<line x1="494.3" y1="296.8" x2="493.9" y2="296.49" stroke="rgb(217,88,18)" stroke-width="2.3" stroke-linecap="round"/>
<line x1="493.9" y1="296.49" x2="493.48" y2="296.15" stroke="rgb(217,88,18)" stroke-width="2.3" stroke-linecap="round"/>
<line x1="493.48" y1="296.15" x2="493.05" y2="295.81" stroke="rgb(217,88,18)" stroke-width="2.3" stroke-linecap="round"/>
<line x1="493.05" y1="295.81" x2="492.6" y2="295.45" stroke="rgb(217,88,18)" stroke-width="2.3" stroke-linecap="round"/>
<line x1="492.6" y1="295.45" x2="492.16" y2="295.1" stroke="rgb(217,88,18)" stroke-width="2.3" stroke-linecap="round"/>
<line x1="492.16" y1="295.1" x2="491.7" y2="294.76" stroke="rgb(217,88,18)" stroke-width="2.3" stroke-linecap="round"/>
<line x1="491.7" y1="294.76" x2="491.25" y2="294.43" stroke="rgb(217,88,18)" stroke-width="2.3" stroke-linecap="round"/>
<line x1="491.25" y1="294.43" x2="490.79" y2="294.12" stroke="rgb(217,88,18)" stroke-width="2.3" stroke-linecap="round"/>
<line x1="490.79" y1="294.12" x2="490.34" y2="293.84" stroke="rgb(217,88,18)" stroke-width="2.3" stroke-linecap="round"/>
<line x1="490.34" y1="293.84" x2="489.9" y2="293.6" stroke="rgb(217,88,18)" stroke-width="2.3" stroke-linecap="round"/>
<line x1="489.9" y1="293.6" x2="489.46" y2="293.39" stroke="rgb(217,88,18)" stroke-width="2.3" stroke-linecap="round"/>
<line x1="489.46" y1="293.39" x2="489.02" y2="293.19" stroke="rgb(217,88,18)" stroke-width="2.3" stroke-linecap="round"/>
<line x1="489.02" y1="293.19" x2="488.58" y2="293.02" stroke="rgb(217,88,18)" stroke-width="2.3" stroke-linecap="round"/>
<line x1="488.58" y1="293.02" x2="488.14" y2="292.86" stroke="rgb(217,88,18)" stroke-width="2.3" stroke-linecap="round"/>
<line x1="488.14" y1="292.86" x2="487.69" y2="292.73" stroke="rgb(217,88,18)" stroke-width="2.3" stroke-linecap="round"/>
<line x1="487.69" y1="292.73" x2="487.25" y2="292.61" stroke="rgb(217,88,18)" stroke-width="2.3" stroke-linecap="round"/>
<line x1="487.25" y1="292.61" x2="486.81" y2="292.52" stroke="rgb(217,88,18)" stroke-width="2.3" stroke-linecap="round"/>
<line x1="486.81" y1="292.52" x2="486.37" y2="292.45" stroke="rgb(217,88,18)" stroke-width="2.3" stroke-linecap="round"/>
<line x1="486.37" y1="292.45" x2="485.94" y2="292.41" stroke="rgb(217,88,18)" stroke-width="2.3" stroke-linecap="round"/>
<line x1="485.94" y1="292.41" x2="485.5" y2="292.4" stroke="rgb(217,88,18)" stroke-width="2.3" stroke-linecap="round"/>
<line x1="485.5" y1="292.4" x2="485.07" y2="292.41" stroke="rgb(217,88,18)" stroke-width="2.3" stroke-linecap="round"/>
<line x1="485.07" y1="292.41" x2="484.66" y2="292.44" stroke="rgb(217,88,18)" stroke-width="2.3" stroke-linecap="round"/>
<line x1="484.66" y1="292.44" x2="484.26" y2="292.49" stroke="rgb(217,88,18)" stroke-width="2.3" stroke-linecap="round"/>
<line x1="484.26" y1="292.49" x2="483.86" y2="292.57" stroke="rgb(217,88,18)" stroke-width="2.3" stroke-linecap="round"/>
<line x1="483.86" y1="292.57" x2="483.46" y2="292.67" stroke="rgb(217,88,18)" stroke-width="2.3" stroke-linecap="round"/>
<line x1="483.46" y1="292.67" x2="483.05" y2="292.8" stroke="rgb(217,88,18)" stroke-width="2.3" stroke-linecap="round"/>
<line x1="483.05" y1="292.8" x2="482.63" y2="292.95" stroke="rgb(217,88,18)" stroke-width="2.3" stroke-linecap="round"/>
<line x1="482.63" y1="292.95" x2="482.18" y2="293.14" stroke="rgb(217,88,18)" stroke-width="2.3" stroke-linecap="round"/>
<line x1="482.18" y1="293.14" x2="481.71" y2="293.35" stroke="rgb(217,88,18)" stroke-width="2.3" stroke-linecap="round"/>
<line x1="481.71" y1="293.35" x2="481.2" y2="293.6" stroke="rgb(217,88,18)" stroke-width="2.3" stroke-linecap="round"/>
<line x1="481.2" y1="293.6" x2="480.67" y2="293.88" stroke="rgb(217,88,18)" stroke-width="2.3" stroke-linecap="round"/>
<line x1="480.67" y1="293.88" x2="480.12" y2="294.2" stroke="rgb(217,88,18)" stroke-width="2.3" stroke-linecap="round"/>
<line x1="480.12" y1="294.2" x2="479.56" y2="294.55" stroke="rgb(217,88,18)" stroke-width="2.3" stroke-linecap="round"/>
<line x1="479.56" y1="294.55" x2="478.98" y2="294.94" stroke="rgb(217,88,18)" stroke-width="2.3" stroke-linecap="round"/>
<line x1="478.98" y1="294.94" x2="478.37" y2="295.34" stroke="rgb(217,88,18)" stroke-width="2.3" stroke-linecap="round"/>
<line x1="478.37" y1="295.34" x2="477.75" y2="295.78" stroke="rgb(217,88,18)" stroke-width="2.3" stroke-linecap="round"/>
<line x1="477.75" y1="295.78" x2="477.1" y2="296.23" stroke="rgb(217,88,18)" stroke-width="2.3" stroke-linecap="round"/>
<line x1="477.1" y1="296.23" x2="476.43" y2="296.71" stroke="rgb(217,88,18)" stroke-width="2.3" stroke-linecap="round"/>
<line x1="476.43" y1="296.71" x2="475.73" y2="297.2" stroke="rgb(217,88,18)" stroke-width="2.3" stroke-linecap="round"/>
<line x1="475.73" y1="297.2" x2="475" y2="297.7" stroke="rgb(217,88,18)" stroke-width="2.3" stroke-linecap="round"/>
<line x1="475" y1="297.7" x2="474.23" y2="298.23" stroke="rgb(217,88,18)" stroke-width="2.3" stroke-linecap="round"/>
<line x1="474.23" y1="298.23" x2="473.42" y2="298.79" stroke="rgb(217,88,18)" stroke-width="2.3" stroke-linecap="round"/>
<line x1="473.42" y1="298.79" x2="472.58" y2="299.38" stroke="rgb(217,88,18)" stroke-width="2.3" stroke-linecap="round"/>
<line x1="472.58" y1="299.38" x2="471.7" y2="299.99" stroke="rgb(217,88,18)" stroke-width="2.3" stroke-linecap="round"/>
<line x1="471.7" y1="299.99" x2="470.81" y2="300.62" stroke="rgb(217,88,18)" stroke-width="2.3" stroke-linecap="round"/>
<line x1="470.81" y1="300.62" x2="469.91" y2="301.26" stroke="rgb(217,88,18)" stroke-width="2.3" stroke-linecap="round"/>
<line x1="469.91" y1="301.26" x2="469" y2="301.9" stroke="rgb(217,88,18)" stroke-width="2.3" stroke-linecap="round"/>
<line x1="469" y1="301.9" x2="468.09" y2="302.54" stroke="rgb(217,88,18)" stroke-width="2.3" stroke-linecap="round"/>
<line x1="468.09" y1="302.54" x2="467.19" y2="303.18" stroke="rgb(217,88,18)" stroke-width="2.3" stroke-linecap="round"/>
<line x1="467.19" y1="303.18" x2="466.3" y2="303.8" stroke="rgb(217,88,18)" stroke-width="2.3" stroke-linecap="round"/>
<line x1="466.3" y1="303.8" x2="465.42" y2="304.43" stroke="rgb(217,88,18)" stroke-width="2.3" stroke-linecap="round"/>
<line x1="465.42" y1="304.43" x2="464.54" y2="305.08" stroke="rgb(217,88,18)" stroke-width="2.3" stroke-linecap="round"/>
<line x1="464.54" y1="305.08" x2="463.66" y2="305.74" stroke="rgb(217,88,18)" stroke-width="2.3" stroke-linecap="round"/>
<line x1="463.66" y1="305.74" x2="462.78" y2="306.41" stroke="rgb(217,88,18)" stroke-width="2.3" stroke-linecap="round"/>
<line x1="462.78" y1="306.41" x2="461.9" y2="307.07" stroke="rgb(217,88,18)" stroke-width="2.3" stroke-linecap="round"/>
<line x1="461.9" y1="307.07" x2="461.02" y2="307.72" stroke="rgb(217,88,18)" stroke-width="2.3" stroke-linecap="round"/>
<line x1="461.02" y1="307.72" x2="460.14" y2="308.34" stroke="rgb(217,88,18)" stroke-width="2.3" stroke-linecap="round"/>
<line x1="460.14" y1="308.34" x2="459.26" y2="308.94" stroke="rgb(217,88,18)" stroke-width="2.3" stroke-linecap="round"/>
<line x1="459.26" y1="308.94" x2="458.38" y2="309.49" stroke="rgb(217,88,18)" stroke-width="2.3" stroke-linecap="round"/>
<line x1="458.38" y1="309.49" x2="457.5" y2="310" stroke="rgb(217,88,18)" stroke-width="2.3" stroke-linecap="round"/>
<line x1="457.5" y1="310" x2="456.63" y2="310.45" stroke="rgb(217,88,18)" stroke-width="2.3" stroke-linecap="round"/>
<line x1="456.63" y1="310.45" x2="455.76" y2="310.86" stroke="rgb(217,88,18)" stroke-width="2.3" stroke-linecap="round"/>
<line x1="455.76" y1="310.86" x2="454.89" y2="311.22" stroke="rgb(217,88,18)" stroke-width="2.3" stroke-linecap="round"/>
<line x1="454.89" y1="311.22" x2="454.02" y2="311.55" stroke="rgb(217,88,18)" stroke-width="2.3" stroke-linecap="round"/>
<line x1="454.02" y1="311.55" x2="453.15" y2="311.86" stroke="rgb(217,88,18)" stroke-width="2.3" stroke-linecap="round"/>
<line x1="453.15" y1="311.86" x2="452.28" y2="312.16" stroke="rgb(217,88,18)" stroke-width="2.3" stroke-linecap="round"/>
<line x1="452.28" y1="312.16" x2="451.41" y2="312.45" stroke="rgb(217,88,18)" stroke-width="2.3" stroke-linecap="round"/>
<line x1="451.41" y1="312.45" x2="450.54" y2="312.75" stroke="rgb(217,88,18)" stroke-width="2.3" stroke-linecap="round"/>
<line x1="450.54" y1="312.75" x2="449.67" y2="313.06" stroke="rgb(217,88,18)" stroke-width="2.3" stroke-linecap="round"/>
<line x1="449.67" y1="313.06" x2="448.8" y2="313.4" stroke="rgb(217,88,18)" stroke-width="2.3" stroke-linecap="round"/>
<line x1="448.8" y1="313.4" x2="447.92" y2="313.75" stroke="rgb(215,88,21)" stroke-width="2.3" stroke-linecap="round"/>
<line x1="447.92" y1="313.75" x2="447.03" y2="314.09" stroke="rgb(211,87,30)" stroke-width="2.3" stroke-linecap="round"/>
<line x1="447.03" y1="314.09" x2="446.13" y2="314.44" stroke="rgb(206,87,39)" stroke-width="2.3" stroke-linecap="round"/>
<line x1="446.13" y1="314.44" x2="445.22" y2="314.78" stroke="rgb(202,86,48)" stroke-width="2.3" stroke-linecap="round"/>
<line x1="445.22" y1="314.78" x2="444.33" y2="315.13" stroke="rgb(198,86,56)" stroke-width="2.3" stroke-linecap="round"/>
<line x1="444.33" y1="315.13" x2="443.43" y2="315.49" stroke="rgb(193,86,65)" stroke-width="2.3" stroke-linecap="round"/>
<line x1="443.43" y1="315.49" x2="442.55" y2="315.85" stroke="rgb(189,85,74)" stroke-width="2.3" stroke-linecap="round"/>
<line x1="442.55" y1="315.85" x2="441.68" y2="316.22" stroke="rgb(184,85,83)" stroke-width="2.3" stroke-linecap="round"/>
<line x1="441.68" y1="316.22" x2="440.83" y2="316.6" stroke="rgb(180,84,91)" stroke-width="2.3" stroke-linecap="round"/>
<line x1="440.83" y1="316.6" x2="440" y2="317" stroke="rgb(175,84,100)" stroke-width="2.3" stroke-linecap="round"/>
<line x1="440" y1="317" x2="439.19" y2="317.39" stroke="rgb(171,83,109)" stroke-width="2.3" stroke-linecap="round"/>
<line x1="439.19" y1="317.39" x2="438.41" y2="317.77" stroke="rgb(167,83,117)" stroke-width="2.3" stroke-linecap="round"/>
<line x1="438.41" y1="317.77" x2="437.64" y2="318.14" stroke="rgb(162,82,126)" stroke-width="2.3" stroke-linecap="round"/>
<line x1="437.64" y1="318.14" x2="436.88" y2="318.52" stroke="rgb(158,82,135)" stroke-width="2.3" stroke-linecap="round"/>
<line x1="436.88" y1="318.52" x2="436.13" y2="318.91" stroke="rgb(153,81,144)" stroke-width="2.3" stroke-linecap="round"/>
<line x1="436.13" y1="318.91" x2="435.39" y2="319.33" stroke="rgb(149,81,152)" stroke-width="2.3" stroke-linecap="round"/>
<line x1="435.39" y1="319.33" x2="434.66" y2="319.79" stroke="rgb(145,80,161)" stroke-width="2.3" stroke-linecap="round"/>
<line x1="434.66" y1="319.79" x2="433.94" y2="320.3" stroke="rgb(140,80,170)" stroke-width="2.3" stroke-linecap="round"/>
<line x1="433.94" y1="320.3" x2="433.22" y2="320.86" stroke="rgb(138,81,173)" stroke-width="2.3" stroke-linecap="round"/>
<line x1="433.22" y1="320.86" x2="432.5" y2="321.5" stroke="rgb(135,81,177)" stroke-width="2.3" stroke-linecap="round"/>
<line x1="432.5" y1="321.5" x2="431.77" y2="322.19" stroke="rgb(133,82,180)" stroke-width="2.3" stroke-linecap="round"/>
<line x1="431.77" y1="322.19" x2="431.03" y2="322.92" stroke="rgb(130,82,184)" stroke-width="2.3" stroke-linecap="round"/>
<line x1="431.03" y1="322.92" x2="430.28" y2="323.7" stroke="rgb(128,83,187)" stroke-width="2.3" stroke-linecap="round"/>
<line x1="430.28" y1="323.7" x2="429.54" y2="324.51" stroke="rgb(126,84,191)" stroke-width="2.3" stroke-linecap="round"/>
<line x1="429.54" y1="324.51" x2="428.81" y2="325.38" stroke="rgb(123,84,194)" stroke-width="2.3" stroke-linecap="round"/>
<line x1="428.81" y1="325.38" x2="428.09" y2="326.29" stroke="rgb(121,85,198)" stroke-width="2.3" stroke-linecap="round"/>
<line x1="428.09" y1="326.29" x2="427.41" y2="327.25" stroke="rgb(118,85,202)" stroke-width="2.3" stroke-linecap="round"/>
<line x1="427.41" y1="327.25" x2="426.76" y2="328.28" stroke="rgb(116,86,205)" stroke-width="2.3" stroke-linecap="round"/>
<line x1="426.76" y1="328.28" x2="426.15" y2="329.36" stroke="rgb(114,87,209)" stroke-width="2.3" stroke-linecap="round"/>
<line x1="426.15" y1="329.36" x2="425.6" y2="330.5" stroke="rgb(111,87,212)" stroke-width="2.3" stroke-linecap="round"/>
<line x1="425.6" y1="330.5" x2="425.08" y2="331.73" stroke="rgb(109,88,216)" stroke-width="2.3" stroke-linecap="round"/>
<line x1="425.08" y1="331.73" x2="424.57" y2="333.04" stroke="rgb(106,88,219)" stroke-width="2.3" stroke-linecap="round"/>
<line x1="424.57" y1="333.04" x2="424.09" y2="334.43" stroke="rgb(104,89,223)" stroke-width="2.3" stroke-linecap="round"/>
<line x1="424.09" y1="334.43" x2="423.63" y2="335.88" stroke="rgb(102,90,226)" stroke-width="2.3" stroke-linecap="round"/>
<line x1="423.63" y1="335.88" x2="423.21" y2="337.38" stroke="rgb(99,90,230)" stroke-width="2.3" stroke-linecap="round"/>
<line x1="423.21" y1="337.38" x2="422.84" y2="338.9" stroke="rgb(97,91,233)" stroke-width="2.3" stroke-linecap="round"/>
<line x1="422.84" y1="338.9" x2="422.53" y2="340.44" stroke="rgb(94,91,237)" stroke-width="2.3" stroke-linecap="round"/>
<line x1="422.53" y1="340.44" x2="422.28" y2="341.98" stroke="rgb(92,92,240)" stroke-width="2.3" stroke-linecap="round"/>
<line x1="422.28" y1="341.98" x2="422.1" y2="343.5" stroke="rgb(92,92,240)" stroke-width="2.3" stroke-linecap="round"/>
<line x1="422.1" y1="343.5" x2="422" y2="345" stroke="rgb(92,92,240)" stroke-width="2.3" stroke-linecap="round"/>
<line x1="422" y1="345" x2="421.98" y2="346.49" stroke="rgb(92,92,240)" stroke-width="2.3" stroke-linecap="round"/>
<line x1="421.98" y1="346.49" x2="422.02" y2="348.01" stroke="rgb(92,92,240)" stroke-width="2.3" stroke-linecap="round"/>
<line x1="422.02" y1="348.01" x2="422.13" y2="349.54" stroke="rgb(92,92,240)" stroke-width="2.3" stroke-linecap="round"/>
<line x1="422.13" y1="349.54" x2="422.3" y2="351.08" stroke="rgb(92,92,240)" stroke-width="2.3" stroke-linecap="round"/>
<line x1="422.3" y1="351.08" x2="422.52" y2="352.62" stroke="rgb(92,92,240)" stroke-width="2.3" stroke-linecap="round"/>
<line x1="422.52" y1="352.62" x2="422.81" y2="354.16" stroke="rgb(92,92,240)" stroke-width="2.3" stroke-linecap="round"/>
<line x1="422.81" y1="354.16" x2="423.15" y2="355.67" stroke="rgb(92,92,240)" stroke-width="2.3" stroke-linecap="round"/>
<line x1="423.15" y1="355.67" x2="423.55" y2="357.15" stroke="rgb(92,92,240)" stroke-width="2.3" stroke-linecap="round"/>
<line x1="423.55" y1="357.15" x2="424" y2="358.6" stroke="rgb(92,92,240)" stroke-width="2.3" stroke-linecap="round"/>
<line x1="424" y1="358.6" x2="424.5" y2="360" stroke="rgb(92,92,240)" stroke-width="2.3" stroke-linecap="round"/>
<line x1="424.5" y1="360" x2="425.05" y2="361.38" stroke="rgb(92,92,240)" stroke-width="2.3" stroke-linecap="round"/>
<line x1="425.05" y1="361.38" x2="425.67" y2="362.75" stroke="rgb(92,92,240)" stroke-width="2.3" stroke-linecap="round"/>
<line x1="425.67" y1="362.75" x2="426.34" y2="364.11" stroke="rgb(92,92,240)" stroke-width="2.3" stroke-linecap="round"/>
<line x1="426.34" y1="364.11" x2="427.06" y2="365.44" stroke="rgb(92,92,240)" stroke-width="2.3" stroke-linecap="round"/>
<line x1="427.06" y1="365.44" x2="427.84" y2="366.75" stroke="rgb(92,92,240)" stroke-width="2.3" stroke-linecap="round"/>
<line x1="427.84" y1="366.75" x2="428.68" y2="368.02" stroke="rgb(92,92,240)" stroke-width="2.3" stroke-linecap="round"/>
<line x1="428.68" y1="368.02" x2="429.56" y2="369.23" stroke="rgb(92,92,240)" stroke-width="2.3" stroke-linecap="round"/>
<line x1="429.56" y1="369.23" x2="430.49" y2="370.39" stroke="rgb(92,92,240)" stroke-width="2.3" stroke-linecap="round"/>
<line x1="430.49" y1="370.39" x2="431.47" y2="371.48" stroke="rgb(92,92,240)" stroke-width="2.3" stroke-linecap="round"/>
<line x1="431.47" y1="371.48" x2="432.5" y2="372.5" stroke="rgb(92,92,240)" stroke-width="2.3" stroke-linecap="round"/>
<line x1="432.5" y1="372.5" x2="433.59" y2="373.46" stroke="rgb(92,92,240)" stroke-width="2.3" stroke-linecap="round"/>
<line x1="433.59" y1="373.46" x2="434.75" y2="374.38" stroke="rgb(92,92,240)" stroke-width="2.3" stroke-linecap="round"/>
<line x1="434.75" y1="374.38" x2="435.97" y2="375.25" stroke="rgb(92,92,240)" stroke-width="2.3" stroke-linecap="round"/>
<line x1="435.97" y1="375.25" x2="437.24" y2="376.07" stroke="rgb(92,92,240)" stroke-width="2.3" stroke-linecap="round"/>
<line x1="437.24" y1="376.07" x2="438.56" y2="376.82" stroke="rgb(92,92,240)" stroke-width="2.3" stroke-linecap="round"/>
<line x1="438.56" y1="376.82" x2="439.92" y2="377.52" stroke="rgb(92,92,240)" stroke-width="2.3" stroke-linecap="round"/>
<line x1="439.92" y1="377.52" x2="441.3" y2="378.14" stroke="rgb(92,92,240)" stroke-width="2.3" stroke-linecap="round"/>
<line x1="441.3" y1="378.14" x2="442.69" y2="378.68" stroke="rgb(92,92,240)" stroke-width="2.3" stroke-linecap="round"/>
<line x1="442.69" y1="378.68" x2="444.1" y2="379.14" stroke="rgb(92,92,240)" stroke-width="2.3" stroke-linecap="round"/>
<line x1="444.1" y1="379.14" x2="445.5" y2="379.5" stroke="rgb(92,92,240)" stroke-width="2.3" stroke-linecap="round"/>
<line x1="445.5" y1="379.5" x2="446.92" y2="379.77" stroke="rgb(92,92,240)" stroke-width="2.3" stroke-linecap="round"/>
<line x1="446.92" y1="379.77" x2="448.39" y2="379.95" stroke="rgb(92,92,240)" stroke-width="2.3" stroke-linecap="round"/>
<line x1="448.39" y1="379.95" x2="449.88" y2="380.05" stroke="rgb(92,92,240)" stroke-width="2.3" stroke-linecap="round"/>
<line x1="449.88" y1="380.05" x2="451.4" y2="380.08" stroke="rgb(92,92,240)" stroke-width="2.3" stroke-linecap="round"/>
<line x1="451.4" y1="380.08" x2="452.93" y2="380.02" stroke="rgb(92,92,240)" stroke-width="2.3" stroke-linecap="round"/>
<line x1="452.93" y1="380.02" x2="454.47" y2="379.9" stroke="rgb(92,92,240)" stroke-width="2.3" stroke-linecap="round"/>
<line x1="454.47" y1="379.9" x2="456" y2="379.72" stroke="rgb(92,92,240)" stroke-width="2.3" stroke-linecap="round"/>
<line x1="456" y1="379.72" x2="457.53" y2="379.47" stroke="rgb(92,92,240)" stroke-width="2.3" stroke-linecap="round"/>
<line x1="457.53" y1="379.47" x2="459.03" y2="379.16" stroke="rgb(92,92,240)" stroke-width="2.3" stroke-linecap="round"/>
<line x1="459.03" y1="379.16" x2="460.5" y2="378.8" stroke="rgb(92,92,240)" stroke-width="2.3" stroke-linecap="round"/>
<line x1="460.5" y1="378.8" x2="461.96" y2="378.37" stroke="rgb(92,92,240)" stroke-width="2.3" stroke-linecap="round"/>
<line x1="461.96" y1="378.37" x2="463.44" y2="377.86" stroke="rgb(92,92,240)" stroke-width="2.3" stroke-linecap="round"/>
<line x1="463.44" y1="377.86" x2="464.91" y2="377.27" stroke="rgb(92,92,240)" stroke-width="2.3" stroke-linecap="round"/>
<line x1="464.91" y1="377.27" x2="466.38" y2="376.62" stroke="rgb(92,92,240)" stroke-width="2.3" stroke-linecap="round"/>
<line x1="466.38" y1="376.62" x2="467.83" y2="375.91" stroke="rgb(92,92,240)" stroke-width="2.3" stroke-linecap="round"/>
<line x1="467.83" y1="375.91" x2="469.26" y2="375.15" stroke="rgb(92,92,240)" stroke-width="2.3" stroke-linecap="round"/>
<line x1="469.26" y1="375.15" x2="470.66" y2="374.36" stroke="rgb(92,92,240)" stroke-width="2.3" stroke-linecap="round"/>
<line x1="470.66" y1="374.36" x2="472.02" y2="373.52" stroke="rgb(92,92,240)" stroke-width="2.3" stroke-linecap="round"/>
<line x1="472.02" y1="373.52" x2="473.34" y2="372.67" stroke="rgb(92,92,240)" stroke-width="2.3" stroke-linecap="round"/>
<line x1="473.34" y1="372.67" x2="474.6" y2="371.8" stroke="rgb(92,92,240)" stroke-width="2.3" stroke-linecap="round"/>
<line x1="474.6" y1="371.8" x2="475.8" y2="370.88" stroke="rgb(92,92,240)" stroke-width="2.3" stroke-linecap="round"/>
<line x1="475.8" y1="370.88" x2="476.96" y2="369.89" stroke="rgb(92,92,240)" stroke-width="2.3" stroke-linecap="round"/>
<line x1="476.96" y1="369.89" x2="478.07" y2="368.83" stroke="rgb(92,92,240)" stroke-width="2.3" stroke-linecap="round"/>
<line x1="478.07" y1="368.83" x2="479.15" y2="367.74" stroke="rgb(92,92,240)" stroke-width="2.3" stroke-linecap="round"/>
<line x1="479.15" y1="367.74" x2="480.19" y2="366.62" stroke="rgb(92,92,240)" stroke-width="2.3" stroke-linecap="round"/>
<line x1="480.19" y1="366.62" x2="481.2" y2="365.5" stroke="rgb(94,92,237)" stroke-width="2.3" stroke-linecap="round"/>
<line x1="481.2" y1="365.5" x2="482.2" y2="364.38" stroke="rgb(96,91,234)" stroke-width="2.3" stroke-linecap="round"/>
<line x1="482.2" y1="364.38" x2="483.17" y2="363.3" stroke="rgb(99,90,230)" stroke-width="2.3" stroke-linecap="round"/>
<line x1="483.17" y1="363.3" x2="484.14" y2="362.27" stroke="rgb(101,90,227)" stroke-width="2.3" stroke-linecap="round"/>
<line x1="484.14" y1="362.27" x2="485.1" y2="361.3" stroke="rgb(104,89,223)" stroke-width="2.3" stroke-linecap="round"/>
<line x1="485.1" y1="361.3" x2="486.05" y2="360.37" stroke="rgb(106,89,220)" stroke-width="2.3" stroke-linecap="round"/>
<line x1="486.05" y1="360.37" x2="486.98" y2="359.45" stroke="rgb(108,88,216)" stroke-width="2.3" stroke-linecap="round"/>
<line x1="486.98" y1="359.45" x2="487.9" y2="358.54" stroke="rgb(111,87,213)" stroke-width="2.3" stroke-linecap="round"/>
<line x1="487.9" y1="358.54" x2="488.79" y2="357.65" stroke="rgb(113,87,209)" stroke-width="2.3" stroke-linecap="round"/>
<line x1="488.79" y1="357.65" x2="489.67" y2="356.79" stroke="rgb(116,86,206)" stroke-width="2.3" stroke-linecap="round"/>
<line x1="489.67" y1="356.79" x2="490.53" y2="355.97" stroke="rgb(118,86,202)" stroke-width="2.3" stroke-linecap="round"/>
<line x1="490.53" y1="355.97" x2="491.37" y2="355.19" stroke="rgb(120,85,199)" stroke-width="2.3" stroke-linecap="round"/>
<line x1="491.37" y1="355.19" x2="492.2" y2="354.47" stroke="rgb(123,84,195)" stroke-width="2.3" stroke-linecap="round"/>
<line x1="492.2" y1="354.47" x2="493.01" y2="353.8" stroke="rgb(125,84,192)" stroke-width="2.3" stroke-linecap="round"/>
<line x1="493.01" y1="353.8" x2="493.8" y2="353.2" stroke="rgb(128,83,188)" stroke-width="2.3" stroke-linecap="round"/>
<line x1="493.8" y1="353.2" x2="494.56" y2="352.66" stroke="rgb(130,82,185)" stroke-width="2.3" stroke-linecap="round"/>
<line x1="494.56" y1="352.66" x2="495.28" y2="352.17" stroke="rgb(132,82,181)" stroke-width="2.3" stroke-linecap="round"/>
<line x1="495.28" y1="352.17" x2="495.97" y2="351.73" stroke="rgb(135,81,178)" stroke-width="2.3" stroke-linecap="round"/>
<line x1="495.97" y1="351.73" x2="496.64" y2="351.33" stroke="rgb(137,81,174)" stroke-width="2.3" stroke-linecap="round"/>
<line x1="496.64" y1="351.33" x2="497.29" y2="350.99" stroke="rgb(140,80,170)" stroke-width="2.3" stroke-linecap="round"/>
<line x1="497.29" y1="350.99" x2="497.95" y2="350.69" stroke="rgb(144,80,161)" stroke-width="2.3" stroke-linecap="round"/>
<line x1="497.95" y1="350.69" x2="498.62" y2="350.45" stroke="rgb(150,81,151)" stroke-width="2.3" stroke-linecap="round"/>
<line x1="498.62" y1="350.45" x2="499.31" y2="350.25" stroke="rgb(155,82,141)" stroke-width="2.3" stroke-linecap="round"/>
<line x1="499.31" y1="350.25" x2="500.03" y2="350.1" stroke="rgb(160,82,131)" stroke-width="2.3" stroke-linecap="round"/>
<line x1="500.03" y1="350.1" x2="500.8" y2="350" stroke="rgb(165,83,121)" stroke-width="2.3" stroke-linecap="round"/>
<line x1="500.8" y1="350" x2="501.62" y2="349.96" stroke="rgb(170,83,110)" stroke-width="2.3" stroke-linecap="round"/>
<line x1="501.62" y1="349.96" x2="502.49" y2="349.98" stroke="rgb(175,84,100)" stroke-width="2.3" stroke-linecap="round"/>
<line x1="502.49" y1="349.98" x2="503.39" y2="350.06" stroke="rgb(181,84,90)" stroke-width="2.3" stroke-linecap="round"/>
<line x1="503.39" y1="350.06" x2="504.32" y2="350.2" stroke="rgb(186,85,80)" stroke-width="2.3" stroke-linecap="round"/>
<line x1="504.32" y1="350.2" x2="505.26" y2="350.38" stroke="rgb(191,85,70)" stroke-width="2.3" stroke-linecap="round"/>
<line x1="505.26" y1="350.38" x2="506.19" y2="350.59" stroke="rgb(198,92,67)" stroke-width="2.3" stroke-linecap="round"/>
<line x1="506.19" y1="350.59" x2="507.1" y2="350.84" stroke="rgb(205,98,64)" stroke-width="2.3" stroke-linecap="round"/>
<line x1="507.1" y1="350.84" x2="507.98" y2="351.11" stroke="rgb(211,106,64)" stroke-width="2.3" stroke-linecap="round"/>
<line x1="507.98" y1="351.11" x2="508.82" y2="351.4" stroke="rgb(217,113,64)" stroke-width="2.3" stroke-linecap="round"/>
<line x1="508.82" y1="351.4" x2="509.6" y2="351.7" stroke="rgb(224,120,65)" stroke-width="2.3" stroke-linecap="round"/>
<line x1="509.6" y1="351.7" x2="510.32" y2="352.03" stroke="rgb(226,127,74)" stroke-width="2.3" stroke-linecap="round"/>
<line x1="510.32" y1="352.03" x2="511.01" y2="352.39" stroke="rgb(227,134,83)" stroke-width="2.3" stroke-linecap="round"/>
<line x1="511.01" y1="352.39" x2="511.65" y2="352.79" stroke="rgb(229,140,93)" stroke-width="2.3" stroke-linecap="round"/>
<line x1="511.65" y1="352.79" x2="512.27" y2="353.22" stroke="rgb(230,147,102)" stroke-width="2.3" stroke-linecap="round"/>
<line x1="512.27" y1="353.22" x2="512.87" y2="353.67" stroke="rgb(232,154,112)" stroke-width="2.3" stroke-linecap="round"/>
<line x1="512.87" y1="353.67" x2="513.45" y2="354.14" stroke="rgb(233,161,121)" stroke-width="2.3" stroke-linecap="round"/>
<line x1="513.45" y1="354.14" x2="514.01" y2="354.62" stroke="rgb(235,167,131)" stroke-width="2.3" stroke-linecap="round"/>
<line x1="514.01" y1="354.62" x2="514.57" y2="355.11" stroke="rgb(236,174,140)" stroke-width="2.3" stroke-linecap="round"/>
<line x1="514.57" y1="355.11" x2="515.13" y2="355.61" stroke="rgb(238,181,150)" stroke-width="2.3" stroke-linecap="round"/>
<line x1="515.13" y1="355.61" x2="515.7" y2="356.1" stroke="rgb(239,187,159)" stroke-width="2.3" stroke-linecap="round"/>
<line x1="515.7" y1="356.1" x2="516.29" y2="356.62" stroke="rgb(241,194,169)" stroke-width="2.3" stroke-linecap="round"/>
<line x1="516.29" y1="356.62" x2="516.9" y2="357.2" stroke="rgb(242,201,178)" stroke-width="2.3" stroke-linecap="round"/>
<line x1="516.9" y1="357.2" x2="517.52" y2="357.82" stroke="rgb(244,208,188)" stroke-width="2.3" stroke-linecap="round"/>
<line x1="517.52" y1="357.82" x2="518.13" y2="358.45" stroke="rgb(245,214,197)" stroke-width="2.3" stroke-linecap="round"/>
<line x1="518.13" y1="358.45" x2="518.73" y2="359.08" stroke="rgb(247,221,207)" stroke-width="2.3" stroke-linecap="round"/>
<line x1="518.73" y1="359.08" x2="519.3" y2="359.68" stroke="rgb(248,228,216)" stroke-width="2.3" stroke-linecap="round"/>
<line x1="519.3" y1="359.68" x2="519.82" y2="360.25" stroke="rgb(249,229,219)" stroke-width="2.3" stroke-linecap="round"/>
<line x1="519.82" y1="360.25" x2="520.29" y2="360.75" stroke="rgb(249,229,219)" stroke-width="2.3" stroke-linecap="round"/>
<line x1="520.29" y1="360.75" x2="520.69" y2="361.17" stroke="rgb(249,229,219)" stroke-width="2.3" stroke-linecap="round"/>
<line x1="520.69" y1="361.17" x2="521" y2="361.5" stroke="rgb(249,229,219)" stroke-width="2.3" stroke-linecap="round"/>
<line x1="623.9" y1="301.1" x2="624.17" y2="301.48" stroke="rgb(249,229,219)" stroke-width="2.3" stroke-linecap="round"/>
<line x1="624.17" y1="301.48" x2="624.52" y2="301.95" stroke="rgb(249,229,219)" stroke-width="2.3" stroke-linecap="round"/>
<line x1="624.52" y1="301.95" x2="624.93" y2="302.51" stroke="rgb(249,229,219)" stroke-width="2.3" stroke-linecap="round"/>
<line x1="624.93" y1="302.51" x2="625.39" y2="303.15" stroke="rgb(248,226,214)" stroke-width="2.3" stroke-linecap="round"/>
<line x1="625.39" y1="303.15" x2="625.89" y2="303.83" stroke="rgb(246,216,200)" stroke-width="2.3" stroke-linecap="round"/>
<line x1="625.89" y1="303.83" x2="626.41" y2="304.55" stroke="rgb(244,207,187)" stroke-width="2.3" stroke-linecap="round"/>
<line x1="626.41" y1="304.55" x2="626.95" y2="305.3" stroke="rgb(241,197,173)" stroke-width="2.3" stroke-linecap="round"/>
<line x1="626.95" y1="305.3" x2="627.48" y2="306.05" stroke="rgb(239,188,160)" stroke-width="2.3" stroke-linecap="round"/>
<line x1="627.48" y1="306.05" x2="628" y2="306.79" stroke="rgb(237,178,146)" stroke-width="2.3" stroke-linecap="round"/>
<line x1="628" y1="306.79" x2="628.5" y2="307.5" stroke="rgb(235,169,133)" stroke-width="2.3" stroke-linecap="round"/>
<line x1="628.5" y1="307.5" x2="628.99" y2="308.2" stroke="rgb(233,159,119)" stroke-width="2.3" stroke-linecap="round"/>
<line x1="628.99" y1="308.2" x2="629.49" y2="308.91" stroke="rgb(231,150,106)" stroke-width="2.3" stroke-linecap="round"/>
<line x1="629.49" y1="308.91" x2="629.99" y2="309.64" stroke="rgb(228,140,92)" stroke-width="2.3" stroke-linecap="round"/>
<line x1="629.99" y1="309.64" x2="630.5" y2="310.37" stroke="rgb(226,131,79)" stroke-width="2.3" stroke-linecap="round"/>
<line x1="630.5" y1="310.37" x2="631.02" y2="311.12" stroke="rgb(224,121,65)" stroke-width="2.3" stroke-linecap="round"/>
<line x1="631.02" y1="311.12" x2="631.53" y2="311.88" stroke="rgb(222,112,52)" stroke-width="2.3" stroke-linecap="round"/>
<line x1="631.53" y1="311.88" x2="632.04" y2="312.64" stroke="rgb(220,102,38)" stroke-width="2.3" stroke-linecap="round"/>
<line x1="632.04" y1="312.64" x2="632.54" y2="313.42" stroke="rgb(218,92,25)" stroke-width="2.3" stroke-linecap="round"/>
<line x1="632.54" y1="313.42" x2="633.03" y2="314.2" stroke="rgb(217,88,18)" stroke-width="2.3" stroke-linecap="round"/>
<line x1="633.03" y1="314.2" x2="633.5" y2="315" stroke="rgb(217,88,18)" stroke-width="2.3" stroke-linecap="round"/>
<line x1="633.5" y1="315" x2="633.97" y2="315.81" stroke="rgb(217,88,18)" stroke-width="2.3" stroke-linecap="round"/>
<line x1="633.97" y1="315.81" x2="634.43" y2="316.64" stroke="rgb(217,88,18)" stroke-width="2.3" stroke-linecap="round"/>
<line x1="634.43" y1="316.64" x2="634.89" y2="317.49" stroke="rgb(217,88,18)" stroke-width="2.3" stroke-linecap="round"/>
<line x1="634.89" y1="317.49" x2="635.34" y2="318.35" stroke="rgb(217,88,18)" stroke-width="2.3" stroke-linecap="round"/>
<line x1="635.34" y1="318.35" x2="635.79" y2="319.22" stroke="rgb(217,88,18)" stroke-width="2.3" stroke-linecap="round"/>
<line x1="635.79" y1="319.22" x2="636.22" y2="320.09" stroke="rgb(217,88,18)" stroke-width="2.3" stroke-linecap="round"/>
<line x1="636.22" y1="320.09" x2="636.64" y2="320.96" stroke="rgb(217,88,18)" stroke-width="2.3" stroke-linecap="round"/>
<line x1="636.64" y1="320.96" x2="637.05" y2="321.82" stroke="rgb(217,88,18)" stroke-width="2.3" stroke-linecap="round"/>
<line x1="637.05" y1="321.82" x2="637.43" y2="322.67" stroke="rgb(217,88,18)" stroke-width="2.3" stroke-linecap="round"/>
<line x1="637.43" y1="322.67" x2="637.8" y2="323.5" stroke="rgb(217,88,18)" stroke-width="2.3" stroke-linecap="round"/>
<line x1="637.8" y1="323.5" x2="638.15" y2="324.33" stroke="rgb(217,88,18)" stroke-width="2.3" stroke-linecap="round"/>
<line x1="638.15" y1="324.33" x2="638.5" y2="325.16" stroke="rgb(217,88,18)" stroke-width="2.3" stroke-linecap="round"/>
<line x1="638.5" y1="325.16" x2="638.83" y2="326" stroke="rgb(217,88,18)" stroke-width="2.3" stroke-linecap="round"/>
<line x1="638.83" y1="326" x2="639.15" y2="326.83" stroke="rgb(217,88,18)" stroke-width="2.3" stroke-linecap="round"/>
<line x1="639.15" y1="326.83" x2="639.46" y2="327.66" stroke="rgb(217,88,18)" stroke-width="2.3" stroke-linecap="round"/>
<line x1="639.46" y1="327.66" x2="639.74" y2="328.47" stroke="rgb(217,88,18)" stroke-width="2.3" stroke-linecap="round"/>
<line x1="639.74" y1="328.47" x2="640" y2="329.26" stroke="rgb(217,88,18)" stroke-width="2.3" stroke-linecap="round"/>
<line x1="640" y1="329.26" x2="640.23" y2="330.04" stroke="rgb(217,88,18)" stroke-width="2.3" stroke-linecap="round"/>
<line x1="640.23" y1="330.04" x2="640.43" y2="330.78" stroke="rgb(217,88,18)" stroke-width="2.3" stroke-linecap="round"/>
<line x1="640.43" y1="330.78" x2="640.6" y2="331.5" stroke="rgb(217,88,18)" stroke-width="2.3" stroke-linecap="round"/>
<line x1="640.6" y1="331.5" x2="640.74" y2="332.18" stroke="rgb(217,88,18)" stroke-width="2.3" stroke-linecap="round"/>
<line x1="640.74" y1="332.18" x2="640.86" y2="332.83" stroke="rgb(217,88,18)" stroke-width="2.3" stroke-linecap="round"/>
<line x1="640.86" y1="332.83" x2="640.96" y2="333.45" stroke="rgb(217,88,18)" stroke-width="2.3" stroke-linecap="round"/>
<line x1="640.96" y1="333.45" x2="641.04" y2="334.04" stroke="rgb(217,88,18)" stroke-width="2.3" stroke-linecap="round"/>
<line x1="641.04" y1="334.04" x2="641.08" y2="334.62" stroke="rgb(217,88,18)" stroke-width="2.3" stroke-linecap="round"/>
<line x1="641.08" y1="334.62" x2="641.1" y2="335.2" stroke="rgb(217,88,18)" stroke-width="2.3" stroke-linecap="round"/>
<line x1="641.1" y1="335.2" x2="641.08" y2="335.76" stroke="rgb(217,88,18)" stroke-width="2.3" stroke-linecap="round"/>
<line x1="641.08" y1="335.76" x2="641.03" y2="336.33" stroke="rgb(217,88,18)" stroke-width="2.3" stroke-linecap="round"/>
<line x1="641.03" y1="336.33" x2="640.93" y2="336.91" stroke="rgb(217,88,18)" stroke-width="2.3" stroke-linecap="round"/>
<line x1="640.93" y1="336.91" x2="640.8" y2="337.5" stroke="rgb(217,88,18)" stroke-width="2.3" stroke-linecap="round"/>
<line x1="640.8" y1="337.5" x2="640.62" y2="338.11" stroke="rgb(217,88,18)" stroke-width="2.3" stroke-linecap="round"/>
<line x1="640.62" y1="338.11" x2="640.41" y2="338.74" stroke="rgb(217,88,18)" stroke-width="2.3" stroke-linecap="round"/>
<line x1="640.41" y1="338.74" x2="640.15" y2="339.37" stroke="rgb(217,88,18)" stroke-width="2.3" stroke-linecap="round"/>
<line x1="640.15" y1="339.37" x2="639.86" y2="340.01" stroke="rgb(217,88,18)" stroke-width="2.3" stroke-linecap="round"/>
<line x1="639.86" y1="340.01" x2="639.54" y2="340.64" stroke="rgb(217,88,18)" stroke-width="2.3" stroke-linecap="round"/>
<line x1="639.54" y1="340.64" x2="639.18" y2="341.26" stroke="rgb(217,88,18)" stroke-width="2.3" stroke-linecap="round"/>
<line x1="639.18" y1="341.26" x2="638.8" y2="341.86" stroke="rgb(217,88,18)" stroke-width="2.3" stroke-linecap="round"/>
<line x1="638.8" y1="341.86" x2="638.39" y2="342.44" stroke="rgb(217,88,18)" stroke-width="2.3" stroke-linecap="round"/>
<line x1="638.39" y1="342.44" x2="637.96" y2="342.99" stroke="rgb(217,88,18)" stroke-width="2.3" stroke-linecap="round"/>
<line x1="637.96" y1="342.99" x2="637.5" y2="343.5" stroke="rgb(217,88,18)" stroke-width="2.3" stroke-linecap="round"/>
<line x1="637.5" y1="343.5" x2="637" y2="343.97" stroke="rgb(217,88,18)" stroke-width="2.3" stroke-linecap="round"/>
<line x1="637" y1="343.97" x2="636.46" y2="344.42" stroke="rgb(217,88,18)" stroke-width="2.3" stroke-linecap="round"/>
<line x1="636.46" y1="344.42" x2="635.87" y2="344.84" stroke="rgb(217,88,18)" stroke-width="2.3" stroke-linecap="round"/>
<line x1="635.87" y1="344.84" x2="635.25" y2="345.23" stroke="rgb(217,88,18)" stroke-width="2.3" stroke-linecap="round"/>
<line x1="635.25" y1="345.23" x2="634.61" y2="345.61" stroke="rgb(217,88,18)" stroke-width="2.3" stroke-linecap="round"/>
<line x1="634.61" y1="345.61" x2="633.96" y2="345.96" stroke="rgb(217,88,18)" stroke-width="2.3" stroke-linecap="round"/>
<line x1="633.96" y1="345.96" x2="633.31" y2="346.31" stroke="rgb(217,88,18)" stroke-width="2.3" stroke-linecap="round"/>
<line x1="633.31" y1="346.31" x2="632.68" y2="346.65" stroke="rgb(217,88,18)" stroke-width="2.3" stroke-linecap="round"/>
<line x1="632.68" y1="346.65" x2="632.07" y2="346.97" stroke="rgb(217,88,18)" stroke-width="2.3" stroke-linecap="round"/>
<line x1="632.07" y1="346.97" x2="631.5" y2="347.3" stroke="rgb(217,88,18)" stroke-width="2.3" stroke-linecap="round"/>
<line x1="631.5" y1="347.3" x2="630.95" y2="347.6" stroke="rgb(217,88,18)" stroke-width="2.3" stroke-linecap="round"/>
<line x1="630.95" y1="347.6" x2="630.4" y2="347.87" stroke="rgb(217,88,18)" stroke-width="2.3" stroke-linecap="round"/>
<line x1="630.4" y1="347.87" x2="629.85" y2="348.12" stroke="rgb(217,88,18)" stroke-width="2.3" stroke-linecap="round"/>
<line x1="629.85" y1="348.12" x2="629.31" y2="348.35" stroke="rgb(217,88,18)" stroke-width="2.3" stroke-linecap="round"/>
<line x1="629.31" y1="348.35" x2="628.78" y2="348.58" stroke="rgb(217,88,18)" stroke-width="2.3" stroke-linecap="round"/>
<line x1="628.78" y1="348.58" x2="628.27" y2="348.81" stroke="rgb(217,88,18)" stroke-width="2.3" stroke-linecap="round"/>
<line x1="628.27" y1="348.81" x2="627.78" y2="349.06" stroke="rgb(217,88,18)" stroke-width="2.3" stroke-linecap="round"/>
<line x1="627.78" y1="349.06" x2="627.32" y2="349.33" stroke="rgb(217,88,18)" stroke-width="2.3" stroke-linecap="round"/>
<line x1="627.32" y1="349.33" x2="626.89" y2="349.64" stroke="rgb(217,88,18)" stroke-width="2.3" stroke-linecap="round"/>
<line x1="626.89" y1="349.64" x2="626.5" y2="350" stroke="rgb(217,88,18)" stroke-width="2.3" stroke-linecap="round"/>
<line x1="626.5" y1="350" x2="626.14" y2="350.39" stroke="rgb(217,88,18)" stroke-width="2.3" stroke-linecap="round"/>
<line x1="626.14" y1="350.39" x2="625.8" y2="350.79" stroke="rgb(217,88,18)" stroke-width="2.3" stroke-linecap="round"/>
<line x1="625.8" y1="350.79" x2="625.49" y2="351.2" stroke="rgb(217,88,18)" stroke-width="2.3" stroke-linecap="round"/>
<line x1="625.49" y1="351.2" x2="625.2" y2="351.64" stroke="rgb(217,88,18)" stroke-width="2.3" stroke-linecap="round"/>
<line x1="625.2" y1="351.64" x2="624.94" y2="352.11" stroke="rgb(217,88,18)" stroke-width="2.3" stroke-linecap="round"/>
<line x1="624.94" y1="352.11" x2="624.7" y2="352.6" stroke="rgb(217,88,18)" stroke-width="2.3" stroke-linecap="round"/>
<line x1="624.7" y1="352.6" x2="624.49" y2="353.13" stroke="rgb(217,88,18)" stroke-width="2.3" stroke-linecap="round"/>
<line x1="624.49" y1="353.13" x2="624.3" y2="353.71" stroke="rgb(217,88,18)" stroke-width="2.3" stroke-linecap="round"/>
<line x1="624.3" y1="353.71" x2="624.14" y2="354.33" stroke="rgb(217,88,18)" stroke-width="2.3" stroke-linecap="round"/>
<line x1="624.14" y1="354.33" x2="624" y2="355" stroke="rgb(217,88,18)" stroke-width="2.3" stroke-linecap="round"/>
<line x1="624" y1="355" x2="623.89" y2="355.74" stroke="rgb(217,88,18)" stroke-width="2.3" stroke-linecap="round"/>
<line x1="623.89" y1="355.74" x2="623.81" y2="356.56" stroke="rgb(217,88,18)" stroke-width="2.3" stroke-linecap="round"/>
<line x1="623.81" y1="356.56" x2="623.77" y2="357.44" stroke="rgb(217,88,18)" stroke-width="2.3" stroke-linecap="round"/>
<line x1="623.77" y1="357.44" x2="623.74" y2="358.36" stroke="rgb(217,88,18)" stroke-width="2.3" stroke-linecap="round"/>
<line x1="623.74" y1="358.36" x2="623.74" y2="359.31" stroke="rgb(217,88,18)" stroke-width="2.3" stroke-linecap="round"/>
<line x1="623.74" y1="359.31" x2="623.76" y2="360.28" stroke="rgb(217,88,18)" stroke-width="2.3" stroke-linecap="round"/>
<line x1="623.76" y1="360.28" x2="623.8" y2="361.25" stroke="rgb(217,88,18)" stroke-width="2.3" stroke-linecap="round"/>
<line x1="623.8" y1="361.25" x2="623.86" y2="362.2" stroke="rgb(217,88,18)" stroke-width="2.3" stroke-linecap="round"/>
<line x1="623.86" y1="362.2" x2="623.92" y2="363.12" stroke="rgb(217,88,18)" stroke-width="2.3" stroke-linecap="round"/>
<line x1="623.92" y1="363.12" x2="624" y2="364" stroke="rgb(215,88,21)" stroke-width="2.3" stroke-linecap="round"/>
<line x1="624" y1="364" x2="624.1" y2="364.84" stroke="rgb(211,87,29)" stroke-width="2.3" stroke-linecap="round"/>
<line x1="624.1" y1="364.84" x2="624.23" y2="365.66" stroke="rgb(207,87,37)" stroke-width="2.3" stroke-linecap="round"/>
<line x1="624.23" y1="365.66" x2="624.38" y2="366.47" stroke="rgb(204,87,45)" stroke-width="2.3" stroke-linecap="round"/>
<line x1="624.38" y1="366.47" x2="624.56" y2="367.27" stroke="rgb(200,86,52)" stroke-width="2.3" stroke-linecap="round"/>
<line x1="624.56" y1="367.27" x2="624.74" y2="368.06" stroke="rgb(196,86,60)" stroke-width="2.3" stroke-linecap="round"/>
<line x1="624.74" y1="368.06" x2="624.93" y2="368.85" stroke="rgb(192,85,68)" stroke-width="2.3" stroke-linecap="round"/>
<line x1="624.93" y1="368.85" x2="625.12" y2="369.63" stroke="rgb(188,85,75)" stroke-width="2.3" stroke-linecap="round"/>
<line x1="625.12" y1="369.63" x2="625.3" y2="370.42" stroke="rgb(184,85,83)" stroke-width="2.3" stroke-linecap="round"/>
<line x1="625.3" y1="370.42" x2="625.46" y2="371.2" stroke="rgb(180,84,91)" stroke-width="2.3" stroke-linecap="round"/>
<line x1="625.46" y1="371.2" x2="625.6" y2="372" stroke="rgb(176,84,99)" stroke-width="2.3" stroke-linecap="round"/>
<line x1="625.6" y1="372" x2="625.73" y2="372.79" stroke="rgb(172,83,106)" stroke-width="2.3" stroke-linecap="round"/>
<line x1="625.73" y1="372.79" x2="625.86" y2="373.56" stroke="rgb(168,83,114)" stroke-width="2.3" stroke-linecap="round"/>
<line x1="625.86" y1="373.56" x2="625.98" y2="374.32" stroke="rgb(164,83,122)" stroke-width="2.3" stroke-linecap="round"/>
<line x1="625.98" y1="374.32" x2="626.1" y2="375.08" stroke="rgb(161,82,129)" stroke-width="2.3" stroke-linecap="round"/>
<line x1="626.1" y1="375.08" x2="626.21" y2="375.85" stroke="rgb(157,82,137)" stroke-width="2.3" stroke-linecap="round"/>
<line x1="626.21" y1="375.85" x2="626.31" y2="376.63" stroke="rgb(153,81,145)" stroke-width="2.3" stroke-linecap="round"/>
<line x1="626.31" y1="376.63" x2="626.39" y2="377.42" stroke="rgb(149,81,153)" stroke-width="2.3" stroke-linecap="round"/>
<line x1="626.39" y1="377.42" x2="626.45" y2="378.25" stroke="rgb(145,81,160)" stroke-width="2.3" stroke-linecap="round"/>
<line x1="626.45" y1="378.25" x2="626.49" y2="379.1" stroke="rgb(141,80,168)" stroke-width="2.3" stroke-linecap="round"/>
<line x1="626.49" y1="379.1" x2="626.5" y2="380" stroke="rgb(138,81,173)" stroke-width="2.3" stroke-linecap="round"/>
<line x1="626.5" y1="380" x2="626.49" y2="380.95" stroke="rgb(135,81,177)" stroke-width="2.3" stroke-linecap="round"/>
<line x1="626.49" y1="380.95" x2="626.48" y2="381.95" stroke="rgb(132,82,181)" stroke-width="2.3" stroke-linecap="round"/>
<line x1="626.48" y1="381.95" x2="626.45" y2="382.99" stroke="rgb(130,83,185)" stroke-width="2.3" stroke-linecap="round"/>
<line x1="626.45" y1="382.99" x2="626.4" y2="384.06" stroke="rgb(127,83,189)" stroke-width="2.3" stroke-linecap="round"/>
<line x1="626.4" y1="384.06" x2="626.33" y2="385.15" stroke="rgb(124,84,193)" stroke-width="2.3" stroke-linecap="round"/>
<line x1="626.33" y1="385.15" x2="626.24" y2="386.24" stroke="rgb(122,85,197)" stroke-width="2.3" stroke-linecap="round"/>
<line x1="626.24" y1="386.24" x2="626.11" y2="387.32" stroke="rgb(119,85,201)" stroke-width="2.3" stroke-linecap="round"/>
<line x1="626.11" y1="387.32" x2="625.95" y2="388.38" stroke="rgb(116,86,205)" stroke-width="2.3" stroke-linecap="round"/>
<line x1="625.95" y1="388.38" x2="625.75" y2="389.41" stroke="rgb(113,87,209)" stroke-width="2.3" stroke-linecap="round"/>
<line x1="625.75" y1="389.41" x2="625.5" y2="390.4" stroke="rgb(111,87,213)" stroke-width="2.3" stroke-linecap="round"/>
<line x1="625.5" y1="390.4" x2="625.22" y2="391.36" stroke="rgb(108,88,217)" stroke-width="2.3" stroke-linecap="round"/>
<line x1="625.22" y1="391.36" x2="624.91" y2="392.31" stroke="rgb(105,89,221)" stroke-width="2.3" stroke-linecap="round"/>
<line x1="624.91" y1="392.31" x2="624.57" y2="393.24" stroke="rgb(102,89,225)" stroke-width="2.3" stroke-linecap="round"/>
<line x1="624.57" y1="393.24" x2="624.2" y2="394.16" stroke="rgb(100,90,229)" stroke-width="2.3" stroke-linecap="round"/>
<line x1="624.2" y1="394.16" x2="623.79" y2="395.07" stroke="rgb(97,91,233)" stroke-width="2.3" stroke-linecap="round"/>
<line x1="623.79" y1="395.07" x2="623.34" y2="395.95" stroke="rgb(94,91,237)" stroke-width="2.3" stroke-linecap="round"/>
<line x1="623.34" y1="395.95" x2="622.85" y2="396.81" stroke="rgb(92,92,240)" stroke-width="2.3" stroke-linecap="round"/>
<line x1="622.85" y1="396.81" x2="622.32" y2="397.64" stroke="rgb(92,92,240)" stroke-width="2.3" stroke-linecap="round"/>
<line x1="622.32" y1="397.64" x2="621.73" y2="398.44" stroke="rgb(92,92,240)" stroke-width="2.3" stroke-linecap="round"/>
<line x1="621.73" y1="398.44" x2="621.1" y2="399.2" stroke="rgb(92,92,240)" stroke-width="2.3" stroke-linecap="round"/>
<line x1="621.1" y1="399.2" x2="620.41" y2="399.93" stroke="rgb(92,92,240)" stroke-width="2.3" stroke-linecap="round"/>
<line x1="620.41" y1="399.93" x2="619.68" y2="400.63" stroke="rgb(92,92,240)" stroke-width="2.3" stroke-linecap="round"/>
<line x1="619.68" y1="400.63" x2="618.89" y2="401.31" stroke="rgb(92,92,240)" stroke-width="2.3" stroke-linecap="round"/>
<line x1="618.89" y1="401.31" x2="618.06" y2="401.96" stroke="rgb(92,92,240)" stroke-width="2.3" stroke-linecap="round"/>
<line x1="618.06" y1="401.96" x2="617.19" y2="402.58" stroke="rgb(92,92,240)" stroke-width="2.3" stroke-linecap="round"/>
<line x1="617.19" y1="402.58" x2="616.28" y2="403.18" stroke="rgb(92,92,240)" stroke-width="2.3" stroke-linecap="round"/>
<line x1="616.28" y1="403.18" x2="615.33" y2="403.75" stroke="rgb(92,92,240)" stroke-width="2.3" stroke-linecap="round"/>
<line x1="615.33" y1="403.75" x2="614.35" y2="404.29" stroke="rgb(92,92,240)" stroke-width="2.3" stroke-linecap="round"/>
<line x1="614.35" y1="404.29" x2="613.34" y2="404.81" stroke="rgb(92,92,240)" stroke-width="2.3" stroke-linecap="round"/>
<line x1="613.34" y1="404.81" x2="612.3" y2="405.3" stroke="rgb(92,92,240)" stroke-width="2.3" stroke-linecap="round"/>
<line x1="612.3" y1="405.3" x2="611.22" y2="405.77" stroke="rgb(92,92,240)" stroke-width="2.3" stroke-linecap="round"/>
<line x1="611.22" y1="405.77" x2="610.08" y2="406.24" stroke="rgb(92,92,240)" stroke-width="2.3" stroke-linecap="round"/>
<line x1="610.08" y1="406.24" x2="608.89" y2="406.68" stroke="rgb(92,92,240)" stroke-width="2.3" stroke-linecap="round"/>
<line x1="608.89" y1="406.68" x2="607.67" y2="407.09" stroke="rgb(92,92,240)" stroke-width="2.3" stroke-linecap="round"/>
<line x1="607.67" y1="407.09" x2="606.42" y2="407.48" stroke="rgb(92,92,240)" stroke-width="2.3" stroke-linecap="round"/>
<line x1="606.42" y1="407.48" x2="605.15" y2="407.83" stroke="rgb(92,92,240)" stroke-width="2.3" stroke-linecap="round"/>
<line x1="605.15" y1="407.83" x2="603.87" y2="408.15" stroke="rgb(92,92,240)" stroke-width="2.3" stroke-linecap="round"/>
<line x1="603.87" y1="408.15" x2="602.6" y2="408.42" stroke="rgb(92,92,240)" stroke-width="2.3" stroke-linecap="round"/>
<line x1="602.6" y1="408.42" x2="601.34" y2="408.64" stroke="rgb(92,92,240)" stroke-width="2.3" stroke-linecap="round"/>
<line x1="601.34" y1="408.64" x2="600.1" y2="408.8" stroke="rgb(92,92,240)" stroke-width="2.3" stroke-linecap="round"/>
<line x1="600.1" y1="408.8" x2="598.87" y2="408.92" stroke="rgb(92,92,240)" stroke-width="2.3" stroke-linecap="round"/>
<line x1="598.87" y1="408.92" x2="597.62" y2="409" stroke="rgb(92,92,240)" stroke-width="2.3" stroke-linecap="round"/>
<line x1="597.62" y1="409" x2="596.36" y2="409.05" stroke="rgb(92,92,240)" stroke-width="2.3" stroke-linecap="round"/>
<line x1="596.36" y1="409.05" x2="595.1" y2="409.05" stroke="rgb(92,92,240)" stroke-width="2.3" stroke-linecap="round"/>
<line x1="595.1" y1="409.05" x2="593.84" y2="409.01" stroke="rgb(92,92,240)" stroke-width="2.3" stroke-linecap="round"/>
<line x1="593.84" y1="409.01" x2="592.6" y2="408.92" stroke="rgb(92,92,240)" stroke-width="2.3" stroke-linecap="round"/>
<line x1="592.6" y1="408.92" x2="591.36" y2="408.77" stroke="rgb(92,92,240)" stroke-width="2.3" stroke-linecap="round"/>
<line x1="591.36" y1="408.77" x2="590.15" y2="408.57" stroke="rgb(92,92,240)" stroke-width="2.3" stroke-linecap="round"/>
<line x1="590.15" y1="408.57" x2="588.96" y2="408.32" stroke="rgb(92,92,240)" stroke-width="2.3" stroke-linecap="round"/>
<line x1="588.96" y1="408.32" x2="587.8" y2="408" stroke="rgb(92,92,240)" stroke-width="2.3" stroke-linecap="round"/>
<line x1="587.8" y1="408" x2="586.67" y2="407.62" stroke="rgb(92,92,240)" stroke-width="2.3" stroke-linecap="round"/>
<line x1="586.67" y1="407.62" x2="585.56" y2="407.17" stroke="rgb(92,92,240)" stroke-width="2.3" stroke-linecap="round"/>
<line x1="585.56" y1="407.17" x2="584.46" y2="406.67" stroke="rgb(92,92,240)" stroke-width="2.3" stroke-linecap="round"/>
<line x1="584.46" y1="406.67" x2="583.39" y2="406.12" stroke="rgb(92,92,240)" stroke-width="2.3" stroke-linecap="round"/>
<line x1="583.39" y1="406.12" x2="582.33" y2="405.51" stroke="rgb(92,92,240)" stroke-width="2.3" stroke-linecap="round"/>
<line x1="582.33" y1="405.51" x2="581.29" y2="404.85" stroke="rgb(92,92,240)" stroke-width="2.3" stroke-linecap="round"/>
<line x1="581.29" y1="404.85" x2="580.27" y2="404.15" stroke="rgb(92,92,240)" stroke-width="2.3" stroke-linecap="round"/>
<line x1="580.27" y1="404.15" x2="579.26" y2="403.4" stroke="rgb(92,92,240)" stroke-width="2.3" stroke-linecap="round"/>
<line x1="579.26" y1="403.4" x2="578.27" y2="402.62" stroke="rgb(92,92,240)" stroke-width="2.3" stroke-linecap="round"/>
<line x1="578.27" y1="402.62" x2="577.3" y2="401.8" stroke="rgb(92,92,240)" stroke-width="2.3" stroke-linecap="round"/>
<line x1="577.3" y1="401.8" x2="576.34" y2="400.93" stroke="rgb(92,92,240)" stroke-width="2.3" stroke-linecap="round"/>
<line x1="576.34" y1="400.93" x2="575.39" y2="400" stroke="rgb(92,92,240)" stroke-width="2.3" stroke-linecap="round"/>
<line x1="575.39" y1="400" x2="574.45" y2="399.02" stroke="rgb(92,92,240)" stroke-width="2.3" stroke-linecap="round"/>
<line x1="574.45" y1="399.02" x2="573.53" y2="398" stroke="rgb(92,92,239)" stroke-width="2.3" stroke-linecap="round"/>
<line x1="573.53" y1="398" x2="572.62" y2="396.93" stroke="rgb(96,91,235)" stroke-width="2.3" stroke-linecap="round"/>
<line x1="572.62" y1="396.93" x2="571.74" y2="395.84" stroke="rgb(99,90,230)" stroke-width="2.3" stroke-linecap="round"/>
<line x1="571.74" y1="395.84" x2="570.89" y2="394.72" stroke="rgb(102,90,226)" stroke-width="2.3" stroke-linecap="round"/>
<line x1="570.89" y1="394.72" x2="570.06" y2="393.58" stroke="rgb(105,89,221)" stroke-width="2.3" stroke-linecap="round"/>
<line x1="570.06" y1="393.58" x2="569.26" y2="392.44" stroke="rgb(108,88,217)" stroke-width="2.3" stroke-linecap="round"/>
<line x1="569.26" y1="392.44" x2="568.5" y2="391.3" stroke="rgb(111,87,212)" stroke-width="2.3" stroke-linecap="round"/>
<line x1="568.5" y1="391.3" x2="567.78" y2="390.14" stroke="rgb(114,86,207)" stroke-width="2.3" stroke-linecap="round"/>
<line x1="567.78" y1="390.14" x2="567.11" y2="388.95" stroke="rgb(117,86,203)" stroke-width="2.3" stroke-linecap="round"/>
<line x1="567.11" y1="388.95" x2="566.47" y2="387.74" stroke="rgb(121,85,198)" stroke-width="2.3" stroke-linecap="round"/>
<line x1="566.47" y1="387.74" x2="565.87" y2="386.5" stroke="rgb(124,84,194)" stroke-width="2.3" stroke-linecap="round"/>
<line x1="565.87" y1="386.5" x2="565.28" y2="385.26" stroke="rgb(127,83,189)" stroke-width="2.3" stroke-linecap="round"/>
<line x1="565.28" y1="385.26" x2="564.71" y2="384" stroke="rgb(130,83,185)" stroke-width="2.3" stroke-linecap="round"/>
<line x1="564.71" y1="384" x2="564.14" y2="382.74" stroke="rgb(133,82,180)" stroke-width="2.3" stroke-linecap="round"/>
<line x1="564.14" y1="382.74" x2="563.58" y2="381.48" stroke="rgb(136,81,175)" stroke-width="2.3" stroke-linecap="round"/>
<line x1="563.58" y1="381.48" x2="563" y2="380.23" stroke="rgb(139,80,171)" stroke-width="2.3" stroke-linecap="round"/>
<line x1="563" y1="380.23" x2="562.4" y2="379" stroke="rgb(145,80,161)" stroke-width="2.3" stroke-linecap="round"/>
<line x1="562.4" y1="379" x2="561.79" y2="377.76" stroke="rgb(151,81,149)" stroke-width="2.3" stroke-linecap="round"/>
<line x1="561.79" y1="377.76" x2="561.17" y2="376.48" stroke="rgb(156,82,138)" stroke-width="2.3" stroke-linecap="round"/>
<line x1="561.17" y1="376.48" x2="560.54" y2="375.2" stroke="rgb(162,82,126)" stroke-width="2.3" stroke-linecap="round"/>
<line x1="560.54" y1="375.2" x2="559.92" y2="373.91" stroke="rgb(168,83,114)" stroke-width="2.3" stroke-linecap="round"/>
<line x1="559.92" y1="373.91" x2="559.3" y2="372.62" stroke="rgb(174,84,103)" stroke-width="2.3" stroke-linecap="round"/>
<line x1="559.3" y1="372.62" x2="558.68" y2="371.37" stroke="rgb(180,84,91)" stroke-width="2.3" stroke-linecap="round"/>
<line x1="558.68" y1="371.37" x2="558.07" y2="370.14" stroke="rgb(186,85,80)" stroke-width="2.3" stroke-linecap="round"/>
<line x1="558.07" y1="370.14" x2="557.47" y2="368.96" stroke="rgb(192,85,68)" stroke-width="2.3" stroke-linecap="round"/>
<line x1="557.47" y1="368.96" x2="556.88" y2="367.85" stroke="rgb(197,86,57)" stroke-width="2.3" stroke-linecap="round"/>
<line x1="556.88" y1="367.85" x2="556.3" y2="366.8" stroke="rgb(203,87,45)" stroke-width="2.3" stroke-linecap="round"/>
<line x1="556.3" y1="366.8" x2="555.71" y2="365.8" stroke="rgb(209,87,33)" stroke-width="2.3" stroke-linecap="round"/>
<line x1="555.71" y1="365.8" x2="555.1" y2="364.82" stroke="rgb(215,88,22)" stroke-width="2.3" stroke-linecap="round"/>
<line x1="555.1" y1="364.82" x2="554.48" y2="363.87" stroke="rgb(217,88,18)" stroke-width="2.3" stroke-linecap="round"/>
<line x1="554.48" y1="363.87" x2="553.87" y2="362.95" stroke="rgb(217,88,18)" stroke-width="2.3" stroke-linecap="round"/>
<line x1="553.87" y1="362.95" x2="553.27" y2="362.09" stroke="rgb(217,88,18)" stroke-width="2.3" stroke-linecap="round"/>
<line x1="553.27" y1="362.09" x2="552.7" y2="361.28" stroke="rgb(217,88,18)" stroke-width="2.3" stroke-linecap="round"/>
<line x1="552.7" y1="361.28" x2="552.18" y2="360.55" stroke="rgb(217,88,18)" stroke-width="2.3" stroke-linecap="round"/>
<line x1="552.18" y1="360.55" x2="551.71" y2="359.91" stroke="rgb(217,88,18)" stroke-width="2.3" stroke-linecap="round"/>
<line x1="551.71" y1="359.91" x2="551.31" y2="359.35" stroke="rgb(217,88,18)" stroke-width="2.3" stroke-linecap="round"/>
<line x1="551.31" y1="359.35" x2="551" y2="358.9" stroke="rgb(217,88,18)" stroke-width="2.3" stroke-linecap="round"/>
<line x1="576.2" y1="305.6" x2="576.21" y2="305.88" stroke="rgb(249,229,219)" stroke-width="2.3" stroke-linecap="round"/>
<line x1="576.21" y1="305.88" x2="576.2" y2="306.26" stroke="rgb(249,229,219)" stroke-width="2.3" stroke-linecap="round"/>
<line x1="576.2" y1="306.26" x2="576.2" y2="306.7" stroke="rgb(246,217,201)" stroke-width="2.3" stroke-linecap="round"/>
<line x1="576.2" y1="306.7" x2="576.2" y2="307.2" stroke="rgb(242,198,174)" stroke-width="2.3" stroke-linecap="round"/>
<line x1="576.2" y1="307.2" x2="576.2" y2="307.73" stroke="rgb(237,179,147)" stroke-width="2.3" stroke-linecap="round"/>
<line x1="576.2" y1="307.73" x2="576.21" y2="308.28" stroke="rgb(233,160,121)" stroke-width="2.3" stroke-linecap="round"/>
<line x1="576.21" y1="308.28" x2="576.23" y2="308.81" stroke="rgb(229,141,94)" stroke-width="2.3" stroke-linecap="round"/>
<line x1="576.23" y1="308.81" x2="576.27" y2="309.33" stroke="rgb(224,122,67)" stroke-width="2.3" stroke-linecap="round"/>
<line x1="576.27" y1="309.33" x2="576.32" y2="309.8" stroke="rgb(220,104,40)" stroke-width="2.3" stroke-linecap="round"/>
<line x1="576.32" y1="309.8" x2="576.4" y2="310.2" stroke="rgb(217,88,18)" stroke-width="2.3" stroke-linecap="round"/>
<line x1="576.4" y1="310.2" x2="576.5" y2="310.56" stroke="rgb(217,88,18)" stroke-width="2.3" stroke-linecap="round"/>
<line x1="576.5" y1="310.56" x2="576.61" y2="310.91" stroke="rgb(217,88,18)" stroke-width="2.3" stroke-linecap="round"/>
<line x1="576.61" y1="310.91" x2="576.73" y2="311.24" stroke="rgb(217,88,18)" stroke-width="2.3" stroke-linecap="round"/>
<line x1="576.73" y1="311.24" x2="576.87" y2="311.55" stroke="rgb(217,88,18)" stroke-width="2.3" stroke-linecap="round"/>
<line x1="576.87" y1="311.55" x2="577.02" y2="311.84" stroke="rgb(217,88,18)" stroke-width="2.3" stroke-linecap="round"/>
<line x1="577.02" y1="311.84" x2="577.19" y2="312.11" stroke="rgb(217,88,18)" stroke-width="2.3" stroke-linecap="round"/>
<line x1="577.19" y1="312.11" x2="577.37" y2="312.36" stroke="rgb(217,88,18)" stroke-width="2.3" stroke-linecap="round"/>
<line x1="577.37" y1="312.36" x2="577.57" y2="312.57" stroke="rgb(217,88,18)" stroke-width="2.3" stroke-linecap="round"/>
<line x1="577.57" y1="312.57" x2="577.78" y2="312.75" stroke="rgb(217,88,18)" stroke-width="2.3" stroke-linecap="round"/>
<line x1="577.78" y1="312.75" x2="578" y2="312.9" stroke="rgb(217,88,18)" stroke-width="2.3" stroke-linecap="round"/>
<line x1="578" y1="312.9" x2="578.23" y2="313.02" stroke="rgb(217,88,18)" stroke-width="2.3" stroke-linecap="round"/>
<line x1="578.23" y1="313.02" x2="578.46" y2="313.11" stroke="rgb(217,88,18)" stroke-width="2.3" stroke-linecap="round"/>
<line x1="578.46" y1="313.11" x2="578.7" y2="313.17" stroke="rgb(217,88,18)" stroke-width="2.3" stroke-linecap="round"/>
<line x1="578.7" y1="313.17" x2="578.96" y2="313.2" stroke="rgb(217,88,18)" stroke-width="2.3" stroke-linecap="round"/>
<line x1="578.96" y1="313.2" x2="579.23" y2="313.21" stroke="rgb(217,88,18)" stroke-width="2.3" stroke-linecap="round"/>
<line x1="579.23" y1="313.21" x2="579.52" y2="313.18" stroke="rgb(217,88,18)" stroke-width="2.3" stroke-linecap="round"/>
<line x1="579.52" y1="313.18" x2="579.84" y2="313.13" stroke="rgb(217,88,18)" stroke-width="2.3" stroke-linecap="round"/>
<line x1="579.84" y1="313.13" x2="580.19" y2="313.05" stroke="rgb(217,88,18)" stroke-width="2.3" stroke-linecap="round"/>
<line x1="580.19" y1="313.05" x2="580.57" y2="312.94" stroke="rgb(217,88,18)" stroke-width="2.3" stroke-linecap="round"/>
<line x1="580.57" y1="312.94" x2="581" y2="312.8" stroke="rgb(217,88,18)" stroke-width="2.3" stroke-linecap="round"/>
<line x1="581" y1="312.8" x2="581.48" y2="312.62" stroke="rgb(217,88,18)" stroke-width="2.3" stroke-linecap="round"/>
<line x1="581.48" y1="312.62" x2="582" y2="312.41" stroke="rgb(217,88,18)" stroke-width="2.3" stroke-linecap="round"/>
<line x1="582" y1="312.41" x2="582.56" y2="312.16" stroke="rgb(217,88,18)" stroke-width="2.3" stroke-linecap="round"/>
<line x1="582.56" y1="312.16" x2="583.16" y2="311.88" stroke="rgb(217,88,18)" stroke-width="2.3" stroke-linecap="round"/>
<line x1="583.16" y1="311.88" x2="583.78" y2="311.57" stroke="rgb(217,88,18)" stroke-width="2.3" stroke-linecap="round"/>
<line x1="583.78" y1="311.57" x2="584.42" y2="311.24" stroke="rgb(217,88,18)" stroke-width="2.3" stroke-linecap="round"/>
<line x1="584.42" y1="311.24" x2="585.07" y2="310.89" stroke="rgb(217,92,24)" stroke-width="2.3" stroke-linecap="round"/>
<line x1="585.07" y1="310.89" x2="585.72" y2="310.54" stroke="rgb(219,99,34)" stroke-width="2.3" stroke-linecap="round"/>
<line x1="585.72" y1="310.54" x2="586.37" y2="310.17" stroke="rgb(221,106,44)" stroke-width="2.3" stroke-linecap="round"/>
<line x1="586.37" y1="310.17" x2="587" y2="309.8" stroke="rgb(222,113,54)" stroke-width="2.3" stroke-linecap="round"/>
<line x1="587" y1="309.8" x2="587.63" y2="309.42" stroke="rgb(224,120,64)" stroke-width="2.3" stroke-linecap="round"/>
<line x1="587.63" y1="309.42" x2="588.28" y2="309.01" stroke="rgb(226,127,74)" stroke-width="2.3" stroke-linecap="round"/>
<line x1="588.28" y1="309.01" x2="588.93" y2="308.59" stroke="rgb(227,134,84)" stroke-width="2.3" stroke-linecap="round"/>
<line x1="588.93" y1="308.59" x2="589.59" y2="308.15" stroke="rgb(229,141,94)" stroke-width="2.3" stroke-linecap="round"/>
<line x1="589.59" y1="308.15" x2="590.25" y2="307.7" stroke="rgb(230,148,104)" stroke-width="2.3" stroke-linecap="round"/>
<line x1="590.25" y1="307.7" x2="590.91" y2="307.24" stroke="rgb(232,155,114)" stroke-width="2.3" stroke-linecap="round"/>
<line x1="590.91" y1="307.24" x2="591.57" y2="306.78" stroke="rgb(234,163,124)" stroke-width="2.3" stroke-linecap="round"/>
<line x1="591.57" y1="306.78" x2="592.22" y2="306.32" stroke="rgb(235,170,134)" stroke-width="2.3" stroke-linecap="round"/>
<line x1="592.22" y1="306.32" x2="592.87" y2="305.85" stroke="rgb(237,177,144)" stroke-width="2.3" stroke-linecap="round"/>
<line x1="592.87" y1="305.85" x2="593.5" y2="305.4" stroke="rgb(238,184,154)" stroke-width="2.3" stroke-linecap="round"/>
<line x1="593.5" y1="305.4" x2="594.15" y2="304.93" stroke="rgb(240,191,164)" stroke-width="2.3" stroke-linecap="round"/>
<line x1="594.15" y1="304.93" x2="594.83" y2="304.42" stroke="rgb(242,198,174)" stroke-width="2.3" stroke-linecap="round"/>
<line x1="594.83" y1="304.42" x2="595.53" y2="303.89" stroke="rgb(243,205,184)" stroke-width="2.3" stroke-linecap="round"/>
<line x1="595.53" y1="303.89" x2="596.22" y2="303.35" stroke="rgb(245,212,194)" stroke-width="2.3" stroke-linecap="round"/>
<line x1="596.22" y1="303.35" x2="596.91" y2="302.82" stroke="rgb(246,219,204)" stroke-width="2.3" stroke-linecap="round"/>
<line x1="596.91" y1="302.82" x2="597.56" y2="302.32" stroke="rgb(248,226,214)" stroke-width="2.3" stroke-linecap="round"/>
<line x1="597.56" y1="302.32" x2="598.16" y2="301.85" stroke="rgb(249,229,219)" stroke-width="2.3" stroke-linecap="round"/>
<line x1="598.16" y1="301.85" x2="598.69" y2="301.43" stroke="rgb(249,229,219)" stroke-width="2.3" stroke-linecap="round"/>
<line x1="598.69" y1="301.43" x2="599.15" y2="301.07" stroke="rgb(249,229,219)" stroke-width="2.3" stroke-linecap="round"/>
<line x1="599.15" y1="301.07" x2="599.5" y2="300.8" stroke="rgb(249,229,219)" stroke-width="2.3" stroke-linecap="round"/>
<circle cx="549.4" cy="267.3" r="3.4" fill="#c6c6c6" filter="url(#blur1)"/>
<circle cx="566.72" cy="277.3" r="3.4" fill="#c6c6c6" filter="url(#blur1)"/>
<circle cx="566.72" cy="297.3" r="3.4" fill="#c6c6c6" filter="url(#blur1)"/>
<circle cx="549.4" cy="307.3" r="3.4" fill="#c6c6c6" filter="url(#blur1)"/>
<circle cx="532.08" cy="297.3" r="3.4" fill="#c6c6c6" filter="url(#blur1)"/>
<circle cx="532.08" cy="277.3" r="3.4" fill="#c6c6c6" filter="url(#blur1)"/>
<circle cx="517.5" cy="306" r="3.4" fill="#c6c6c6" filter="url(#blur1)"/>
<circle cx="517.5" cy="326.3" r="3.2" fill="#c6c6c6" filter="url(#blur1)"/>
<circle cx="532.9" cy="355.5" r="4.2" fill="#d4d4d4" filter="url(#blur1)"/>
<path d="M453.7,325.2 L471.28,335.35 L471.28,355.65 L453.7,365.8 L436.12,355.65 L436.12,335.35 Z" fill="none" stroke="#2e2e2e" stroke-width="1.15" stroke-linejoin="round"/>
<line x1="454.63" y1="328.07" x2="468.33" y2="335.98" stroke="#2e2e2e" stroke-width="1.15" />
<line x1="468.33" y1="355.02" x2="454.63" y2="362.93" stroke="#2e2e2e" stroke-width="1.15" />
<line x1="438.14" y1="353.4" x2="438.14" y2="337.6" stroke="#2e2e2e" stroke-width="1.15" />
<path d="M549.4,267.3 L566.72,277.3 L566.72,297.3 L549.4,307.3 L532.08,297.3 L532.08,277.3 Z" fill="none" stroke="#2e2e2e" stroke-width="1.15" stroke-linejoin="round"/>
<line x1="534.99" y1="277.92" x2="548.48" y2="270.13" stroke="#2e2e2e" stroke-width="1.15" />
<line x1="564.73" y1="279.51" x2="564.73" y2="295.09" stroke="#2e2e2e" stroke-width="1.15" />
<line x1="548.48" y1="304.47" x2="534.99" y2="296.68" stroke="#2e2e2e" stroke-width="1.15" />
<path d="M596.5,354.5 L614.17,364.7 L614.17,385.1 L596.5,395.3 L578.83,385.1 L578.83,364.7 Z" fill="none" stroke="#2e2e2e" stroke-width="1.15" stroke-linejoin="round"/>
<line x1="597.44" y1="357.39" x2="611.2" y2="365.33" stroke="#2e2e2e" stroke-width="1.15" />
<line x1="611.2" y1="384.47" x2="597.44" y2="392.41" stroke="#2e2e2e" stroke-width="1.15" />
<line x1="580.86" y1="382.84" x2="580.86" y2="366.96" stroke="#2e2e2e" stroke-width="1.15" />
<line x1="471.28" y1="335.35" x2="486" y2="326.3" stroke="#2e2e2e" stroke-width="1.15" stroke-linecap="round"/>
<line x1="486" y1="326.3" x2="498.63" y2="334.02" stroke="#2e2e2e" stroke-width="1.15" stroke-linecap="round"/>
<line x1="504.78" y1="334.03" x2="517.5" y2="326.3" stroke="#2e2e2e" stroke-width="1.15" stroke-linecap="round"/>
<line x1="517.5" y1="326.3" x2="532.9" y2="335.7" stroke="#2e2e2e" stroke-width="1.15" stroke-linecap="round"/>
<line x1="532.9" y1="335.7" x2="545.52" y2="328.06" stroke="#2e2e2e" stroke-width="1.15" stroke-linecap="round"/>
<line x1="551.75" y1="327.95" x2="565" y2="335.3" stroke="#2e2e2e" stroke-width="1.15" stroke-linecap="round"/>
<line x1="517.5" y1="306" x2="532.08" y2="297.3" stroke="#2e2e2e" stroke-width="1.15" stroke-linecap="round"/>
<line x1="565" y1="335.3" x2="565" y2="355.9" stroke="#2e2e2e" stroke-width="1.15" stroke-linecap="round"/>
<line x1="565" y1="355.9" x2="578.83" y2="364.7" stroke="#2e2e2e" stroke-width="1.15" stroke-linecap="round"/>
<line x1="581" y1="325.8" x2="593.3" y2="333.59" stroke="#2e2e2e" stroke-width="1.15" stroke-linecap="round"/>
<line x1="598.75" y1="333.67" x2="612" y2="325.8" stroke="#2e2e2e" stroke-width="1.15" stroke-linecap="round"/>
<line x1="612" y1="325.8" x2="627.5" y2="335.3" stroke="#2e2e2e" stroke-width="1.15" stroke-linecap="round"/>
<line x1="484.7" y1="326.3" x2="484.7" y2="311.3" stroke="#2e2e2e" stroke-width="1.15" />
<line x1="487.3" y1="325.5" x2="487.3" y2="311.3" stroke="#2e2e2e" stroke-width="1.15" />
<line x1="531.6" y1="335.7" x2="531.6" y2="350.7" stroke="#2e2e2e" stroke-width="1.15" />
<line x1="534.2" y1="336.5" x2="534.2" y2="350.7" stroke="#2e2e2e" stroke-width="1.15" />
<line x1="610.7" y1="325.8" x2="610.7" y2="311" stroke="#2e2e2e" stroke-width="1.15" />
<line x1="613.3" y1="325" x2="613.3" y2="311" stroke="#2e2e2e" stroke-width="1.15" />
<polygon points="517.2,326.3 517.8,326.3 519.3,306 515.7,306" fill="#2e2e2e"/>
<line x1="566.73" y1="333.66" x2="567.27" y2="334.56" stroke="#2e2e2e" stroke-width="0.7" />
<line x1="568.62" y1="332.28" x2="569.38" y2="333.57" stroke="#2e2e2e" stroke-width="0.7" />
<line x1="570.5" y1="330.9" x2="571.5" y2="332.58" stroke="#2e2e2e" stroke-width="0.7" />
<line x1="572.39" y1="329.52" x2="573.61" y2="331.58" stroke="#2e2e2e" stroke-width="0.7" />
<line x1="574.27" y1="328.14" x2="575.73" y2="330.59" stroke="#2e2e2e" stroke-width="0.7" />
<line x1="576.16" y1="326.76" x2="577.84" y2="329.59" stroke="#2e2e2e" stroke-width="0.7" />
<line x1="578.04" y1="325.38" x2="579.96" y2="328.6" stroke="#2e2e2e" stroke-width="0.7" />
<text x="486" y="308.7" font-family="Liberation Sans" font-size="6.3" fill="#d8302c" text-anchor="middle" font-weight="normal" font-style="normal" >O</text>
<text x="532.9" y="358.2" font-family="Liberation Sans" font-size="6.3" fill="#d8302c" text-anchor="middle" font-weight="normal" font-style="normal" >O</text>
<text x="612" y="308.9" font-family="Liberation Sans" font-size="6.3" fill="#d8302c" text-anchor="middle" font-weight="normal" font-style="normal" >O</text>
<text x="596" y="338.2" font-family="Liberation Sans" font-size="6.3" fill="#d8302c" text-anchor="middle" font-weight="normal" font-style="normal" >O</text>
<text x="501.7" y="338.4" font-family="Liberation Sans" font-size="6.3" fill="#3838c8" text-anchor="middle" font-weight="normal" font-style="normal" >N</text>
<text x="501.7" y="345.4" font-family="Liberation Sans" font-size="6.3" fill="#3838c8" text-anchor="middle" font-weight="normal" font-style="normal" >H</text>
<text x="548.6" y="328.7" font-family="Liberation Sans" font-size="6.3" fill="#3838c8" text-anchor="middle" font-weight="normal" font-style="normal" >N</text>
<text x="548.6" y="321.6" font-family="Liberation Sans" font-size="6.3" fill="#3838c8" text-anchor="middle" font-weight="normal" font-style="normal" >H</text>
<line x1="463.6" y1="288" x2="456.2" y2="343.5" stroke="#f07a98" stroke-width="0.6" />
<circle cx="456.2" cy="343.8" r="0.9" fill="#e0305a"/>
<text x="459.9" y="310.6" font-family="Liberation Sans" font-size="4.6" fill="#f08a9a" text-anchor="middle" font-weight="normal" font-style="normal" >9x%</text>
<line x1="501.5" y1="346.5" x2="499.6" y2="362.8" stroke="#cc55e8" stroke-width="0.7" stroke-dasharray="none"/>
<polygon points="499.6,362.8 498.65,360.47 501.06,360.75" fill="#cc55e8"/>
<text x="500.3" y="357" font-family="Liberation Sans" font-size="4.8" fill="#c058e8" text-anchor="middle" font-weight="normal" font-style="normal" >92%</text>
<line x1="505.5" y1="376" x2="517" y2="387.5" stroke="#e4b4f4" stroke-width="0.6" stroke-dasharray="none"/>
<text x="511.2" y="381.2" font-family="Liberation Sans" font-size="4.6" fill="#d49af2" text-anchor="middle" font-weight="normal" font-style="normal" >42%</text>
<line x1="523" y1="385.8" x2="531.2" y2="360.8" stroke="#dcaaf4" stroke-width="0.6" stroke-dasharray="none"/>
<polygon points="531.2,360.8 531.66,363.27 529.36,362.51" fill="#dcaaf4"/>
<text x="527.3" y="372.4" font-family="Liberation Sans" font-size="4.6" fill="#d49af2" text-anchor="middle" font-weight="normal" font-style="normal" >41%</text>
<line x1="548.6" y1="330.5" x2="548.8" y2="388.3" stroke="#d9a0f2" stroke-width="0.6" stroke-dasharray="none"/>
<polygon points="548.8,388.3 547.58,386.1 550,386.1" fill="#d9a0f2"/>
<text x="548.4" y="358.2" font-family="Liberation Sans" font-size="4.8" fill="#c868ec" text-anchor="middle" font-weight="normal" font-style="normal" >90%</text>
<line x1="664.5" y1="258.5" x2="643.5" y2="279.5" stroke="#d090f0" stroke-width="0.6" stroke-dasharray="1.2,0.9"/>
<polygon points="643.5,279.5 644.2,277.09 645.91,278.8" fill="#d090f0"/>
<text x="654.9" y="267.5" font-family="Liberation Sans" font-size="4.6" fill="#dcaaf4" text-anchor="middle" font-weight="normal" font-style="normal" >35%</text>
<line x1="634" y1="288.8" x2="615.5" y2="302.3" stroke="#d090f0" stroke-width="0.6" stroke-dasharray="1.2,0.9"/>
<polygon points="615.5,302.3 616.56,300.03 617.99,301.98" fill="#d090f0"/>
<text x="625.3" y="294.5" font-family="Liberation Sans" font-size="4.6" fill="#dcaaf4" text-anchor="middle" font-weight="normal" font-style="normal" >35%</text>
<circle cx="464.3" cy="278.5" r="8.2" fill="url(#gBlue)"/>
<text x="464.3" y="275" font-family="Liberation Sans" font-size="4.3" fill="#1c1c50" text-anchor="middle" font-weight="normal" font-style="normal" >A:</text>
<text x="464.3" y="280" font-family="Liberation Sans" font-size="4.3" fill="#1c1c50" text-anchor="middle" font-weight="normal" font-style="normal" >LYS</text>
<text x="464.3" y="285" font-family="Liberation Sans" font-size="4.3" fill="#1c1c50" text-anchor="middle" font-weight="normal" font-style="normal" >868</text>
<circle cx="498.8" cy="372" r="8.1" fill="url(#gOr)"/>
<text x="498.8" y="368.5" font-family="Liberation Sans" font-size="4.3" fill="#3a1508" text-anchor="middle" font-weight="normal" font-style="normal" >A:</text>
<text x="498.8" y="373.5" font-family="Liberation Sans" font-size="4.3" fill="#3a1508" text-anchor="middle" font-weight="normal" font-style="normal" >ASP</text>
<text x="498.8" y="378.5" font-family="Liberation Sans" font-size="4.3" fill="#3a1508" text-anchor="middle" font-weight="normal" font-style="normal" >1046</text>
<circle cx="548.9" cy="397.4" r="8.2" fill="url(#gOr)"/>
<text x="548.9" y="393.9" font-family="Liberation Sans" font-size="4.3" fill="#3a1508" text-anchor="middle" font-weight="normal" font-style="normal" >A:</text>
<text x="548.9" y="398.9" font-family="Liberation Sans" font-size="4.3" fill="#3a1508" text-anchor="middle" font-weight="normal" font-style="normal" >GLU</text>
<text x="548.9" y="403.9" font-family="Liberation Sans" font-size="4.3" fill="#3a1508" text-anchor="middle" font-weight="normal" font-style="normal" >885</text>
<circle cx="602.5" cy="265.9" r="8.2" fill="url(#gGr)"/>
<text x="602.5" y="262.4" font-family="Liberation Sans" font-size="4.3" fill="#1e3208" text-anchor="middle" font-weight="normal" font-style="normal" >A:</text>
<text x="602.5" y="267.4" font-family="Liberation Sans" font-size="4.3" fill="#1e3208" text-anchor="middle" font-weight="normal" font-style="normal" >LEU</text>
<text x="602.5" y="272.4" font-family="Liberation Sans" font-size="4.3" fill="#1e3208" text-anchor="middle" font-weight="normal" font-style="normal" >1049</text>
<circle cx="670" cy="251.9" r="8.2" fill="url(#gBlue)"/>
<text x="670" y="248.4" font-family="Liberation Sans" font-size="4.3" fill="#1c1c50" text-anchor="middle" font-weight="normal" font-style="normal" >A:</text>
<text x="670" y="253.4" font-family="Liberation Sans" font-size="4.3" fill="#1c1c50" text-anchor="middle" font-weight="normal" font-style="normal" >ARG</text>
<text x="670" y="258.4" font-family="Liberation Sans" font-size="4.3" fill="#1c1c50" text-anchor="middle" font-weight="normal" font-style="normal" >1027</text>
<circle cx="521" cy="390.7" r="5" fill="url(#gW)"/>
<text x="521" y="392.2" font-family="Liberation Sans" font-size="4.2" fill="#333" text-anchor="middle" font-weight="normal" font-style="normal" >H₂O</text>
<circle cx="638.8" cy="284.2" r="5" fill="url(#gW)"/>
<text x="638.8" y="285.7" font-family="Liberation Sans" font-size="4.2" fill="#333" text-anchor="middle" font-weight="normal" font-style="normal" >H₂O</text>
</svg>
</body></html>
